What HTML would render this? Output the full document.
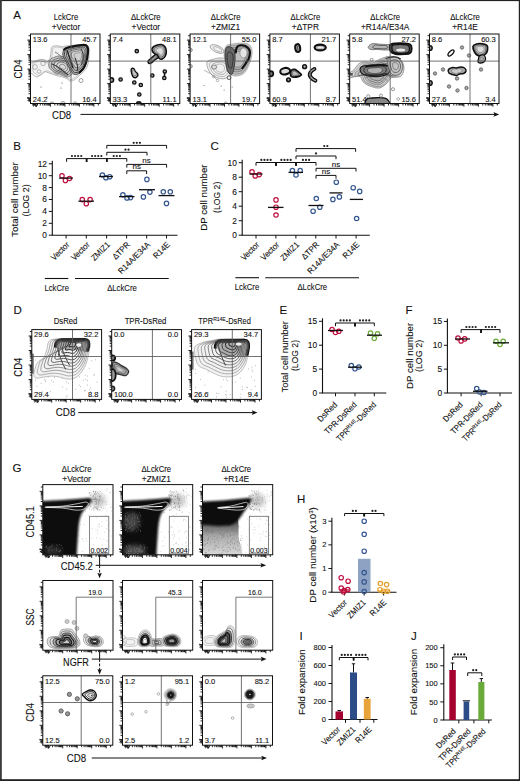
<!DOCTYPE html>
<html><head><meta charset="utf-8"><style>
html,body{margin:0;padding:0;background:#fff;}
svg{display:block;font-family:"Liberation Sans",sans-serif;}
text{stroke:#111;stroke-width:0.1px;}
</style></head><body>
<svg width="520" height="781" viewBox="0 0 520 781">
<defs><filter id="bl1" x="-10%" y="-10%" width="120%" height="120%"><feGaussianBlur stdDeviation="0.7"/></filter><filter id="bl15" x="-10%" y="-10%" width="120%" height="120%"><feGaussianBlur stdDeviation="1.0"/></filter><filter id="bl2" x="-50%" y="-50%" width="200%" height="200%"><feGaussianBlur stdDeviation="2.5"/></filter></defs>
<rect x="0.00" y="0.00" width="520.00" height="781.00" fill="#fff"/>
<rect x="0.00" y="0.00" width="520.00" height="1.10" fill="#222"/>
<rect x="0.00" y="0.00" width="1.80" height="781.00" fill="#3a3a3a"/>
<rect x="518.80" y="0.00" width="1.20" height="781.00" fill="#222"/>
<rect x="0.00" y="779.20" width="520.00" height="1.80" fill="#222"/>
<text x="13.30" y="18.60" font-size="11.5" text-anchor="start" fill="#111">A</text>
<text x="13.30" y="149.60" font-size="11.5" text-anchor="start" fill="#111">B</text>
<text x="210.60" y="149.80" font-size="11.5" text-anchor="start" fill="#111">C</text>
<text x="13.50" y="313.80" font-size="11.5" text-anchor="start" fill="#111">D</text>
<text x="279.60" y="313.80" font-size="11.5" text-anchor="start" fill="#111">E</text>
<text x="405.40" y="313.70" font-size="11.5" text-anchor="start" fill="#111">F</text>
<text x="12.60" y="471.80" font-size="11.5" text-anchor="start" fill="#111">G</text>
<text x="297.00" y="502.70" font-size="11.5" text-anchor="start" fill="#111">H</text>
<text x="299.40" y="639.50" font-size="11.5" text-anchor="start" fill="#111">I</text>
<text x="411.00" y="639.60" font-size="11.5" text-anchor="start" fill="#111">J</text>
<text x="66.00" y="19.80" font-size="8.6" text-anchor="middle" fill="#111" textLength="24.52" lengthAdjust="spacingAndGlyphs">LckCre</text>
<text x="66.00" y="30.20" font-size="8.6" text-anchor="middle" fill="#111" textLength="28.52" lengthAdjust="spacingAndGlyphs">+Vector</text>
<text x="145.80" y="19.80" font-size="8.6" text-anchor="middle" fill="#111" textLength="29.69" lengthAdjust="spacingAndGlyphs">ΔLckCre</text>
<text x="145.80" y="30.20" font-size="8.6" text-anchor="middle" fill="#111" textLength="28.52" lengthAdjust="spacingAndGlyphs">+Vector</text>
<text x="225.60" y="19.80" font-size="8.6" text-anchor="middle" fill="#111" textLength="29.69" lengthAdjust="spacingAndGlyphs">ΔLckCre</text>
<text x="225.60" y="30.20" font-size="8.6" text-anchor="middle" fill="#111" textLength="28.97" lengthAdjust="spacingAndGlyphs">+ZMIZ1</text>
<text x="305.40" y="19.80" font-size="8.6" text-anchor="middle" fill="#111" textLength="29.69" lengthAdjust="spacingAndGlyphs">ΔLckCre</text>
<text x="305.40" y="30.20" font-size="8.6" text-anchor="middle" fill="#111" textLength="27.13" lengthAdjust="spacingAndGlyphs">+ΔTPR</text>
<text x="385.20" y="19.80" font-size="8.6" text-anchor="middle" fill="#111" textLength="29.69" lengthAdjust="spacingAndGlyphs">ΔLckCre</text>
<text x="385.20" y="30.20" font-size="8.6" text-anchor="middle" fill="#111" textLength="48.46" lengthAdjust="spacingAndGlyphs">+R14A/E34A</text>
<text x="465.00" y="19.80" font-size="8.6" text-anchor="middle" fill="#111" textLength="29.69" lengthAdjust="spacingAndGlyphs">ΔLckCre</text>
<text x="465.00" y="30.20" font-size="8.6" text-anchor="middle" fill="#111" textLength="25.74" lengthAdjust="spacingAndGlyphs">+R14E</text>
<g id="contA"></g>
<!--A0-->
<clipPath id="cA0"><rect x="30.50" y="34.00" width="69.50" height="69.50"/></clipPath>
<g clip-path="url(#cA0)">
<path d="M30.00,62.50 C30.33,61.05 30.67,63.42 32.00,63.00 C33.33,62.58 36.08,60.57 38.00,60.00 C39.92,59.43 42.17,59.10 43.50,59.60 C44.83,60.10 44.92,63.27 46.00,63.00 C47.08,62.73 49.17,59.92 50.00,58.00 C50.83,56.08 50.67,53.37 51.00,51.50 C51.33,49.63 51.00,47.75 52.00,46.80 C53.00,45.85 55.33,45.80 57.00,45.80 C58.67,45.80 60.50,46.77 62.00,46.80 C63.50,46.83 63.50,46.33 66.00,46.00 C68.50,45.67 73.58,45.00 77.00,44.80 C80.42,44.60 84.50,44.13 86.50,44.80 C88.50,45.47 88.67,46.10 89.00,48.80 C89.33,51.50 89.00,57.63 88.50,61.00 C88.00,64.37 87.25,66.83 86.00,69.00 C84.75,71.17 82.93,72.20 81.00,74.00 C79.07,75.80 76.17,78.63 74.40,79.80 C72.63,80.97 71.75,81.23 70.40,81.00 C69.05,80.77 67.65,79.07 66.30,78.40 C64.95,77.73 63.85,77.45 62.30,77.00 C60.75,76.55 58.55,76.13 57.00,75.70 C55.45,75.27 54.33,74.85 53.00,74.40 C51.67,73.95 50.37,73.45 49.00,73.00 C47.63,72.55 46.17,71.47 44.80,71.70 C43.43,71.93 42.15,73.52 40.80,74.40 C39.45,75.28 38.05,77.00 36.70,77.00 C35.35,77.00 33.82,75.28 32.70,74.40 C31.58,73.52 30.45,73.68 30.00,71.70 C29.55,69.72 29.67,63.95 30.00,62.50 Z" fill="#f2f2f2" stroke="#999" stroke-width="0.7"/>
<path d="M33.04,62.46 C33.35,61.13 33.65,63.30 34.88,62.92 C36.11,62.54 38.64,60.68 40.40,60.16 C42.16,59.64 44.23,59.33 45.46,59.79 C46.69,60.25 46.76,63.17 47.76,62.92 C48.76,62.67 50.67,60.08 51.44,58.32 C52.21,56.56 52.05,54.06 52.36,52.34 C52.67,50.62 52.36,48.89 53.28,48.02 C54.20,47.14 56.35,47.10 57.88,47.10 C59.41,47.10 61.10,47.99 62.48,48.02 C63.86,48.05 63.86,47.59 66.16,47.28 C68.46,46.97 73.14,46.36 76.28,46.18 C79.42,45.99 83.18,45.56 85.02,46.18 C86.86,46.79 87.01,47.37 87.32,49.86 C87.63,52.34 87.32,57.98 86.86,61.08 C86.40,64.18 85.71,66.45 84.56,68.44 C83.41,70.43 81.74,71.38 79.96,73.04 C78.18,74.70 75.51,77.30 73.89,78.38 C72.26,79.45 71.45,79.69 70.21,79.48 C68.97,79.27 67.68,77.70 66.44,77.09 C65.19,76.47 64.18,76.21 62.76,75.80 C61.33,75.39 59.31,75.00 57.88,74.60 C56.45,74.21 55.43,73.82 54.20,73.41 C52.97,72.99 51.78,72.53 50.52,72.12 C49.26,71.71 47.91,70.71 46.66,70.92 C45.40,71.14 44.22,72.60 42.98,73.41 C41.73,74.22 40.45,75.80 39.20,75.80 C37.96,75.80 36.55,74.22 35.52,73.41 C34.50,72.60 33.45,72.75 33.04,70.92 C32.63,69.10 32.73,63.79 33.04,62.46 Z" fill="none" stroke="#aaa" stroke-width="0.6"/>
<circle cx="43.00" cy="63.50" r="2.2" fill="none" stroke="#999" stroke-width="0.7"/>
<circle cx="35.00" cy="67.00" r="2.4" fill="none" stroke="#999" stroke-width="0.7"/>
<circle cx="39.00" cy="71.50" r="1.8" fill="none" stroke="#999" stroke-width="0.7"/>
<circle cx="57.00" cy="72.00" r="2.5" fill="none" stroke="#999" stroke-width="0.7"/>
<path d="M50.00,60.00 C51.00,58.33 53.33,57.67 55.00,57.00 C56.67,56.33 58.17,55.83 60.00,56.00 C61.83,56.17 64.17,57.00 66.00,58.00 C67.83,59.00 69.67,60.33 71.00,62.00 C72.33,63.67 73.83,66.00 74.00,68.00 C74.17,70.00 73.17,72.50 72.00,74.00 C70.83,75.50 69.00,77.00 67.00,77.00 C65.00,77.00 62.17,74.83 60.00,74.00 C57.83,73.17 55.83,73.17 54.00,72.00 C52.17,70.83 49.67,69.00 49.00,67.00 C48.33,65.00 49.00,61.67 50.00,60.00 Z" fill="#c8c8c8" stroke="#666" stroke-width="0.8"/>
<path d="M52.34,61.26 C53.16,59.89 55.07,59.35 56.44,58.80 C57.81,58.25 59.04,57.84 60.54,57.98 C62.04,58.12 63.96,58.80 65.46,59.62 C66.96,60.44 68.47,61.53 69.56,62.90 C70.65,64.27 71.88,66.18 72.02,67.82 C72.16,69.46 71.34,71.51 70.38,72.74 C69.42,73.97 67.92,75.20 66.28,75.20 C64.64,75.20 62.32,73.42 60.54,72.74 C58.76,72.06 57.12,72.06 55.62,71.10 C54.12,70.14 52.07,68.64 51.52,67.00 C50.97,65.36 51.52,62.63 52.34,61.26 Z" fill="none" stroke="#555" stroke-width="0.8"/>
<path d="M54.68,62.52 C55.32,61.45 56.81,61.03 57.88,60.60 C58.95,60.17 59.91,59.85 61.08,59.96 C62.25,60.07 63.75,60.60 64.92,61.24 C66.09,61.88 67.27,62.73 68.12,63.80 C68.97,64.87 69.93,66.36 70.04,67.64 C70.15,68.92 69.51,70.52 68.76,71.48 C68.01,72.44 66.84,73.40 65.56,73.40 C64.28,73.40 62.47,72.01 61.08,71.48 C59.69,70.95 58.41,70.95 57.24,70.20 C56.07,69.45 54.47,68.28 54.04,67.00 C53.61,65.72 54.04,63.59 54.68,62.52 Z" fill="#d8d8d8" stroke="#444" stroke-width="0.9"/>
<path d="M57.15,63.85 C57.60,63.10 58.65,62.80 59.40,62.50 C60.15,62.20 60.83,61.97 61.65,62.05 C62.47,62.12 63.52,62.50 64.35,62.95 C65.17,63.40 66.00,64.00 66.60,64.75 C67.20,65.50 67.88,66.55 67.95,67.45 C68.03,68.35 67.58,69.48 67.05,70.15 C66.52,70.83 65.70,71.50 64.80,71.50 C63.90,71.50 62.62,70.53 61.65,70.15 C60.67,69.78 59.78,69.78 58.95,69.25 C58.12,68.72 57.00,67.90 56.70,67.00 C56.40,66.10 56.70,64.60 57.15,63.85 Z" fill="none" stroke="#555" stroke-width="0.8"/>
<path d="M59.75,65.25 C60.00,64.83 60.58,64.67 61.00,64.50 C61.42,64.33 61.79,64.21 62.25,64.25 C62.71,64.29 63.29,64.50 63.75,64.75 C64.21,65.00 64.67,65.33 65.00,65.75 C65.33,66.17 65.71,66.75 65.75,67.25 C65.79,67.75 65.54,68.38 65.25,68.75 C64.96,69.12 64.50,69.50 64.00,69.50 C63.50,69.50 62.79,68.96 62.25,68.75 C61.71,68.54 61.21,68.54 60.75,68.25 C60.29,67.96 59.67,67.50 59.50,67.00 C59.33,66.50 59.50,65.67 59.75,65.25 Z" fill="none" stroke="#666" stroke-width="0.7"/>
<path d="M52.0,64 C58.0,66 63.0,71 68.0,75" stroke="#333" stroke-width="1.1" fill="none"/>
<path d="M55.0,52 C59.0,54 61.0,56 63.0,59" stroke="#666" stroke-width="0.9" fill="none"/>
<path d="M63.60,50.00 C64.15,48.67 65.17,48.03 66.30,47.50 C67.43,46.97 68.60,47.15 70.40,46.80 C72.20,46.45 74.87,45.73 77.10,45.40 C79.33,45.07 82.12,44.68 83.80,44.80 C85.48,44.92 86.48,44.98 87.20,46.10 C87.92,47.22 88.22,49.03 88.10,51.50 C87.98,53.97 87.10,58.22 86.50,60.90 C85.90,63.58 85.62,65.58 84.50,67.60 C83.38,69.62 81.48,71.87 79.80,73.00 C78.12,74.13 75.75,74.62 74.40,74.40 C73.05,74.18 72.70,73.05 71.70,71.70 C70.70,70.35 69.40,68.10 68.40,66.30 C67.40,64.50 66.60,62.70 65.70,60.90 C64.80,59.10 63.35,57.32 63.00,55.50 C62.65,53.68 63.05,51.33 63.60,50.00 Z" fill="#b4b4b4" stroke="#444" stroke-width="1.0"/>
<path d="M65.14,50.60 C65.64,49.40 66.55,48.83 67.57,48.35 C68.59,47.87 69.64,48.03 71.26,47.72 C72.88,47.41 75.28,46.76 77.29,46.46 C79.30,46.16 81.80,45.81 83.32,45.92 C84.83,46.03 85.73,46.09 86.38,47.09 C87.02,48.10 87.30,49.73 87.19,51.95 C87.08,54.17 86.29,57.99 85.75,60.41 C85.21,62.82 84.95,64.62 83.95,66.44 C82.95,68.25 81.23,70.28 79.72,71.30 C78.20,72.32 76.08,72.75 74.86,72.56 C73.64,72.37 73.33,71.34 72.43,70.13 C71.53,68.91 70.36,66.89 69.46,65.27 C68.56,63.65 67.84,62.03 67.03,60.41 C66.22,58.79 64.91,57.18 64.60,55.55 C64.28,53.91 64.64,51.80 65.14,50.60 Z" fill="none" stroke="#333" stroke-width="0.9"/>
<path d="M66.99,51.32 C67.42,50.28 68.21,49.79 69.09,49.37 C69.98,48.95 70.89,49.10 72.29,48.82 C73.70,48.55 75.78,47.99 77.52,47.73 C79.26,47.47 81.43,47.17 82.74,47.26 C84.06,47.36 84.84,47.41 85.40,48.28 C85.95,49.15 86.19,50.57 86.10,52.49 C86.01,54.41 85.32,57.73 84.85,59.82 C84.38,61.92 84.16,63.48 83.29,65.05 C82.42,66.62 80.94,68.38 79.62,69.26 C78.31,70.14 76.46,70.52 75.41,70.35 C74.36,70.18 74.09,69.30 73.31,68.25 C72.53,67.19 71.51,65.44 70.73,64.03 C69.95,62.63 69.33,61.23 68.63,59.82 C67.92,58.42 66.79,57.03 66.52,55.61 C66.25,54.19 66.56,52.36 66.99,51.32 Z" fill="none" stroke="#444" stroke-width="0.8"/>
<path d="M69.14,52.16 C69.50,51.31 70.15,50.90 70.87,50.56 C71.60,50.22 72.34,50.34 73.50,50.11 C74.65,49.89 76.35,49.43 77.78,49.22 C79.21,49.00 80.99,48.76 82.07,48.83 C83.15,48.91 83.79,48.95 84.25,49.66 C84.71,50.38 84.90,51.54 84.82,53.12 C84.75,54.70 84.18,57.42 83.80,59.14 C83.42,60.85 83.23,62.13 82.52,63.42 C81.81,64.71 80.59,66.15 79.51,66.88 C78.43,67.61 76.92,67.91 76.06,67.78 C75.19,67.64 74.97,66.91 74.33,66.05 C73.69,65.18 72.86,63.74 72.22,62.59 C71.58,61.44 71.06,60.29 70.49,59.14 C69.91,57.98 68.98,56.84 68.76,55.68 C68.54,54.52 68.79,53.01 69.14,52.16 Z" fill="#d0d0d0" stroke="#555" stroke-width="0.8"/>
<path d="M71.61,53.12 C71.87,52.48 72.36,52.18 72.90,51.92 C73.45,51.66 74.01,51.75 74.87,51.58 C75.74,51.42 77.02,51.07 78.09,50.91 C79.16,50.75 80.50,50.57 81.30,50.62 C82.11,50.68 82.59,50.71 82.94,51.25 C83.28,51.78 83.42,52.66 83.37,53.84 C83.31,55.02 82.89,57.06 82.60,58.35 C82.31,59.64 82.18,60.60 81.64,61.57 C81.10,62.54 80.19,63.62 79.38,64.16 C78.58,64.70 77.44,64.94 76.79,64.83 C76.14,64.73 75.98,64.18 75.50,63.54 C75.02,62.89 74.39,61.81 73.91,60.94 C73.43,60.08 73.05,59.22 72.62,58.35 C72.18,57.49 71.49,56.63 71.32,55.76 C71.15,54.89 71.34,53.76 71.61,53.12 Z" fill="none" stroke="#666" stroke-width="0.7"/>
<path d="M74.38,54.20 C74.54,53.80 74.85,53.61 75.19,53.45 C75.53,53.29 75.88,53.34 76.42,53.24 C76.96,53.14 77.76,52.92 78.43,52.82 C79.10,52.72 79.94,52.61 80.44,52.64 C80.94,52.67 81.25,52.70 81.46,53.03 C81.68,53.37 81.77,53.91 81.73,54.65 C81.70,55.39 81.43,56.66 81.25,57.47 C81.07,58.27 80.99,58.88 80.65,59.48 C80.31,60.09 79.74,60.76 79.24,61.10 C78.73,61.44 78.03,61.58 77.62,61.52 C77.22,61.45 77.11,61.12 76.81,60.71 C76.51,60.30 76.12,59.63 75.82,59.09 C75.52,58.55 75.28,58.01 75.01,57.47 C74.74,56.93 74.31,56.40 74.20,55.85 C74.09,55.30 74.22,54.60 74.38,54.20 Z" fill="none" stroke="#777" stroke-width="0.6"/>
<path d="M63.5,50 C66.0,47 75.0,45.6 83.8,44.8 C87.0,44.8 88.5,47 88.1,52 C87.5,59 86.0,65 83.0,69 L79.0,73" stroke="#111" stroke-width="2.0" fill="none"/>
<path d="M67.0,50 C69.0,56 71.0,62 73.0,68" stroke="#222" stroke-width="1.3" fill="none"/>
<path d="M75.0,58 C77.0,63 79.0,67 77.0,71" stroke="#333" stroke-width="1.1" fill="none"/>
<path d="M81.0,49 C84.0,54 84.0,60 81.0,65" stroke="#333" stroke-width="1.0" fill="none"/>
<circle cx="81.00" cy="80.50" r="2.0" fill="none" stroke="#777" stroke-width="0.7"/>
<circle cx="52.00" cy="103.80" r="2" fill="#ddd" stroke="#888" stroke-width="0.7"/>
<circle cx="63.00" cy="103.30" r="2" fill="#ddd" stroke="#888" stroke-width="0.7"/>
<circle cx="75.00" cy="103.80" r="2" fill="#ddd" stroke="#888" stroke-width="0.7"/>
<circle cx="62.0" cy="83" r="0.6" fill="#555"/>
<circle cx="61.0" cy="88" r="0.6" fill="#555"/>
<circle cx="47.0" cy="97" r="0.6" fill="#555"/>
<circle cx="41.0" cy="87" r="0.6" fill="#555"/>
</g>
<path d="M27.3,98.1H30.5M35.9,103.5V106.7M28.5,99.6H30.5M34.4,103.5V105.5M28.5,100.5H30.5M33.5,103.5V105.5M28.5,101.2H30.5M32.8,103.5V105.5M27.3,98.1H30.5M35.9,103.5V106.7M28.5,93.7H30.5M40.3,103.5V105.5M28.5,91.2H30.5M42.8,103.5V105.5M28.5,89.4H30.5M44.6,103.5V105.5M28.5,88.0H30.5M46.0,103.5V105.5M28.5,86.8H30.5M47.2,103.5V105.5M28.5,85.8H30.5M48.2,103.5V105.5M28.5,85.0H30.5M49.0,103.5V105.5M28.5,84.3H30.5M49.7,103.5V105.5M27.3,83.6H30.5M50.4,103.5V106.7M28.5,79.2H30.5M54.8,103.5V105.5M28.5,76.7H30.5M57.3,103.5V105.5M28.5,74.9H30.5M59.1,103.5V105.5M28.5,73.5H30.5M60.5,103.5V105.5M28.5,72.3H30.5M61.7,103.5V105.5M28.5,71.3H30.5M62.7,103.5V105.5M28.5,70.5H30.5M63.5,103.5V105.5M28.5,69.8H30.5M64.2,103.5V105.5M27.3,69.1H30.5M64.9,103.5V106.7M28.5,64.7H30.5M69.3,103.5V105.5M28.5,62.2H30.5M71.8,103.5V105.5M28.5,60.4H30.5M73.6,103.5V105.5M28.5,59.0H30.5M75.0,103.5V105.5M28.5,57.8H30.5M76.2,103.5V105.5M28.5,56.8H30.5M77.2,103.5V105.5M28.5,56.0H30.5M78.0,103.5V105.5M28.5,55.3H30.5M78.7,103.5V105.5M27.3,54.6H30.5M79.4,103.5V106.7M28.5,50.2H30.5M83.8,103.5V105.5M28.5,47.7H30.5M86.3,103.5V105.5M28.5,45.9H30.5M88.1,103.5V105.5M28.5,44.5H30.5M89.5,103.5V105.5M28.5,43.3H30.5M90.7,103.5V105.5M28.5,42.3H30.5M91.7,103.5V105.5M28.5,41.5H30.5M92.5,103.5V105.5M28.5,40.8H30.5M93.2,103.5V105.5M27.3,40.1H30.5M93.9,103.5V106.7M28.5,35.7H30.5M98.3,103.5V105.5" stroke="#111" stroke-width="0.9" fill="none"/>
<path d="M33.5,106.5L35.0,103.5L36.5,106.5L38.0,103.5M27.5,100.5L30.5,99.0L27.5,97.5" stroke="#222" stroke-width="1" fill="none"/>
<line x1="71.00" y1="34.00" x2="71.00" y2="103.50" stroke="#5a5a5a" stroke-width="0.85"/>
<line x1="30.50" y1="61.10" x2="100.00" y2="61.10" stroke="#5a5a5a" stroke-width="0.85"/>
<rect x="30.50" y="34.00" width="69.50" height="69.50" fill="none" stroke="#111" stroke-width="1.0"/>
<text x="32.80" y="41.80" font-size="7.5" text-anchor="start" fill="#111">13.6</text>
<text x="96.80" y="41.80" font-size="7.5" text-anchor="end" fill="#111">45.7</text>
<text x="32.80" y="101.50" font-size="7.5" text-anchor="start" fill="#111">24.2</text>
<text x="96.80" y="101.50" font-size="7.5" text-anchor="end" fill="#111">16.4</text>
<!--A1-->
<clipPath id="cA1"><rect x="110.30" y="34.00" width="69.50" height="69.50"/></clipPath>
<g clip-path="url(#cA1)">
<path d="M157.80,53.00 C157.13,52.67 155.97,54.08 154.80,55.00 C153.63,55.92 151.92,57.45 150.80,58.50 C149.68,59.55 148.38,60.47 148.10,61.30 C147.82,62.13 148.48,63.30 149.10,63.50 C149.72,63.70 150.77,63.17 151.80,62.50 C152.83,61.83 154.13,60.42 155.30,59.50 C156.47,58.58 158.38,58.08 158.80,57.00 C159.22,55.92 158.47,53.33 157.80,53.00 Z" fill="#999" stroke="#111" stroke-width="1.5"/>
<path d="M156.05,55.50 C155.72,55.33 155.13,56.04 154.55,56.50 C153.97,56.96 153.11,57.73 152.55,58.25 C151.99,58.77 151.34,59.23 151.20,59.65 C151.06,60.07 151.39,60.65 151.70,60.75 C152.01,60.85 152.53,60.58 153.05,60.25 C153.57,59.92 154.22,59.21 154.80,58.75 C155.38,58.29 156.34,58.04 156.55,57.50 C156.76,56.96 156.38,55.67 156.05,55.50 Z" fill="none" stroke="#666" stroke-width="0.7"/>
<path d="M152.30,48.00 C152.88,47.08 154.30,46.08 155.80,45.50 C157.30,44.92 159.80,44.33 161.30,44.50 C162.80,44.67 163.97,45.42 164.80,46.50 C165.63,47.58 166.22,49.42 166.30,51.00 C166.38,52.58 165.97,54.67 165.30,56.00 C164.63,57.33 163.30,58.58 162.30,59.00 C161.30,59.42 160.13,59.17 159.30,58.50 C158.47,57.83 158.13,55.83 157.30,55.00 C156.47,54.17 155.13,54.17 154.30,53.50 C153.47,52.83 152.63,51.92 152.30,51.00 C151.97,50.08 151.72,48.92 152.30,48.00 Z" fill="#999" stroke="#111" stroke-width="1.6"/>
<path d="M154.30,48.75 C154.74,48.06 155.80,47.31 156.93,46.88 C158.05,46.44 159.93,46.00 161.05,46.12 C162.18,46.25 163.05,46.81 163.68,47.62 C164.30,48.44 164.74,49.81 164.80,51.00 C164.86,52.19 164.55,53.75 164.05,54.75 C163.55,55.75 162.55,56.69 161.80,57.00 C161.05,57.31 160.18,57.12 159.55,56.62 C158.93,56.12 158.68,54.62 158.05,54.00 C157.43,53.38 156.43,53.38 155.80,52.88 C155.18,52.38 154.55,51.69 154.30,51.00 C154.05,50.31 153.86,49.44 154.30,48.75 Z" fill="#bbb" stroke="#555" stroke-width="0.7"/>
<path d="M156.30,49.50 C156.59,49.04 157.30,48.54 158.05,48.25 C158.80,47.96 160.05,47.67 160.80,47.75 C161.55,47.83 162.13,48.21 162.55,48.75 C162.97,49.29 163.26,50.21 163.30,51.00 C163.34,51.79 163.13,52.83 162.80,53.50 C162.47,54.17 161.80,54.79 161.30,55.00 C160.80,55.21 160.22,55.08 159.80,54.75 C159.38,54.42 159.22,53.42 158.80,53.00 C158.38,52.58 157.72,52.58 157.30,52.25 C156.88,51.92 156.47,51.46 156.30,51.00 C156.13,50.54 156.01,49.96 156.30,49.50 Z" fill="#ddd" stroke="#777" stroke-width="0.6"/>
<path d="M131.30,69.00 C131.63,68.08 133.13,68.08 133.80,68.50 C134.47,68.92 134.63,70.58 135.30,71.50 C135.97,72.42 137.55,73.08 137.80,74.00 C138.05,74.92 137.47,76.42 136.80,77.00 C136.13,77.58 134.63,78.00 133.80,77.50 C132.97,77.00 132.22,75.42 131.80,74.00 C131.38,72.58 130.97,69.92 131.30,69.00 Z" fill="#aaa" stroke="#111" stroke-width="1.4"/>
<path d="M132.50,70.60 C132.70,70.05 133.60,70.05 134.00,70.30 C134.40,70.55 134.50,71.55 134.90,72.10 C135.30,72.65 136.25,73.05 136.40,73.60 C136.55,74.15 136.20,75.05 135.80,75.40 C135.40,75.75 134.50,76.00 134.00,75.70 C133.50,75.40 133.05,74.45 132.80,73.60 C132.55,72.75 132.30,71.15 132.50,70.60 Z" fill="#ccc" stroke="#666" stroke-width="0.6"/>
<circle cx="136.80" cy="51.20" r="1.7" fill="#999" stroke="#111" stroke-width="1.3"/>
<circle cx="120.60" cy="79.50" r="1.7" fill="#999" stroke="#111" stroke-width="1.3"/>
<circle cx="134.30" cy="82.50" r="1.7" fill="#999" stroke="#111" stroke-width="1.3"/>
<circle cx="140.80" cy="85.00" r="1.7" fill="#999" stroke="#111" stroke-width="1.3"/>
<circle cx="139.30" cy="94.50" r="1.7" fill="#999" stroke="#111" stroke-width="1.3"/>
<circle cx="152.30" cy="75.50" r="1.7" fill="#999" stroke="#111" stroke-width="1.3"/>
<circle cx="164.80" cy="71.50" r="1.7" fill="#999" stroke="#111" stroke-width="1.3"/>
<circle cx="164.30" cy="78.00" r="1.7" fill="#999" stroke="#111" stroke-width="1.3"/>
<line x1="164.7" y1="72.5" x2="164.4" y2="77" stroke="#111" stroke-width="1.6"/>
<circle cx="111.30" cy="80.00" r="2.3" fill="#999" stroke="#111" stroke-width="1.5"/>
<circle cx="138.80" cy="104.00" r="2.3" fill="#999" stroke="#111" stroke-width="1.5"/>
</g>
<path d="M107.1,98.1H110.3M115.7,103.5V106.7M108.3,99.6H110.3M114.2,103.5V105.5M108.3,100.5H110.3M113.3,103.5V105.5M108.3,101.2H110.3M112.6,103.5V105.5M107.1,98.1H110.3M115.7,103.5V106.7M108.3,93.7H110.3M120.1,103.5V105.5M108.3,91.2H110.3M122.6,103.5V105.5M108.3,89.4H110.3M124.4,103.5V105.5M108.3,88.0H110.3M125.8,103.5V105.5M108.3,86.8H110.3M127.0,103.5V105.5M108.3,85.8H110.3M128.0,103.5V105.5M108.3,85.0H110.3M128.8,103.5V105.5M108.3,84.3H110.3M129.5,103.5V105.5M107.1,83.6H110.3M130.2,103.5V106.7M108.3,79.2H110.3M134.6,103.5V105.5M108.3,76.7H110.3M137.1,103.5V105.5M108.3,74.9H110.3M138.9,103.5V105.5M108.3,73.5H110.3M140.3,103.5V105.5M108.3,72.3H110.3M141.5,103.5V105.5M108.3,71.3H110.3M142.5,103.5V105.5M108.3,70.5H110.3M143.3,103.5V105.5M108.3,69.8H110.3M144.0,103.5V105.5M107.1,69.1H110.3M144.7,103.5V106.7M108.3,64.7H110.3M149.1,103.5V105.5M108.3,62.2H110.3M151.6,103.5V105.5M108.3,60.4H110.3M153.4,103.5V105.5M108.3,59.0H110.3M154.8,103.5V105.5M108.3,57.8H110.3M156.0,103.5V105.5M108.3,56.8H110.3M157.0,103.5V105.5M108.3,56.0H110.3M157.8,103.5V105.5M108.3,55.3H110.3M158.5,103.5V105.5M107.1,54.6H110.3M159.2,103.5V106.7M108.3,50.2H110.3M163.6,103.5V105.5M108.3,47.7H110.3M166.1,103.5V105.5M108.3,45.9H110.3M167.9,103.5V105.5M108.3,44.5H110.3M169.3,103.5V105.5M108.3,43.3H110.3M170.5,103.5V105.5M108.3,42.3H110.3M171.5,103.5V105.5M108.3,41.5H110.3M172.3,103.5V105.5M108.3,40.8H110.3M173.0,103.5V105.5M107.1,40.1H110.3M173.7,103.5V106.7M108.3,35.7H110.3M178.1,103.5V105.5" stroke="#111" stroke-width="0.9" fill="none"/>
<path d="M113.3,106.5L114.8,103.5L116.3,106.5L117.8,103.5M107.3,100.5L110.3,99.0L107.3,97.5" stroke="#222" stroke-width="1" fill="none"/>
<line x1="150.80" y1="34.00" x2="150.80" y2="103.50" stroke="#5a5a5a" stroke-width="0.85"/>
<line x1="110.30" y1="61.10" x2="179.80" y2="61.10" stroke="#5a5a5a" stroke-width="0.85"/>
<rect x="110.30" y="34.00" width="69.50" height="69.50" fill="none" stroke="#111" stroke-width="1.0"/>
<text x="112.60" y="41.80" font-size="7.5" text-anchor="start" fill="#111">7.4</text>
<text x="176.60" y="41.80" font-size="7.5" text-anchor="end" fill="#111">48.1</text>
<text x="112.60" y="101.50" font-size="7.5" text-anchor="start" fill="#111">33.3</text>
<text x="176.60" y="101.50" font-size="7.5" text-anchor="end" fill="#111">11.1</text>
<!--A2-->
<clipPath id="cA2"><rect x="190.10" y="34.00" width="69.50" height="69.50"/></clipPath>
<g clip-path="url(#cA2)">
<ellipse cx="217.10" cy="49.00" rx="7.5" ry="3.3" fill="#f2f2f2" stroke="#888" stroke-width="0.7" transform="rotate(25 217.10 49.00)"/>
<ellipse cx="217.60" cy="49.20" rx="4.8" ry="1.8" fill="none" stroke="#999" stroke-width="0.6" transform="rotate(25 217.60 49.20)"/>
<path d="M207.10,62.00 C208.10,60.33 211.60,59.67 214.10,59.00 C216.60,58.33 219.77,57.67 222.10,58.00 C224.43,58.33 226.60,59.50 228.10,61.00 C229.60,62.50 230.77,64.83 231.10,67.00 C231.43,69.17 231.10,72.08 230.10,74.00 C229.10,75.92 227.10,77.83 225.10,78.50 C223.10,79.17 220.27,78.58 218.10,78.00 C215.93,77.42 213.77,76.50 212.10,75.00 C210.43,73.50 208.93,71.17 208.10,69.00 C207.27,66.83 206.10,63.67 207.10,62.00 Z" fill="#efefef" stroke="#888" stroke-width="0.7"/>
<path d="M209.70,63.20 C210.50,61.87 213.30,61.33 215.30,60.80 C217.30,60.27 219.83,59.73 221.70,60.00 C223.57,60.27 225.30,61.20 226.50,62.40 C227.70,63.60 228.63,65.47 228.90,67.20 C229.17,68.93 228.90,71.27 228.10,72.80 C227.30,74.33 225.70,75.87 224.10,76.40 C222.50,76.93 220.23,76.47 218.50,76.00 C216.77,75.53 215.03,74.80 213.70,73.60 C212.37,72.40 211.17,70.53 210.50,68.80 C209.83,67.07 208.90,64.53 209.70,63.20 Z" fill="none" stroke="#999" stroke-width="0.6"/>
<path d="M212.30,64.40 C212.90,63.40 215.00,63.00 216.50,62.60 C218.00,62.20 219.90,61.80 221.30,62.00 C222.70,62.20 224.00,62.90 224.90,63.80 C225.80,64.70 226.50,66.10 226.70,67.40 C226.90,68.70 226.70,70.45 226.10,71.60 C225.50,72.75 224.30,73.90 223.10,74.30 C221.90,74.70 220.20,74.35 218.90,74.00 C217.60,73.65 216.30,73.10 215.30,72.20 C214.30,71.30 213.40,69.90 212.90,68.60 C212.40,67.30 211.70,65.40 212.30,64.40 Z" fill="none" stroke="#888" stroke-width="0.6"/>
<path d="M214.90,65.60 C215.30,64.93 216.70,64.67 217.70,64.40 C218.70,64.13 219.97,63.87 220.90,64.00 C221.83,64.13 222.70,64.60 223.30,65.20 C223.90,65.80 224.37,66.73 224.50,67.60 C224.63,68.47 224.50,69.63 224.10,70.40 C223.70,71.17 222.90,71.93 222.10,72.20 C221.30,72.47 220.17,72.23 219.30,72.00 C218.43,71.77 217.57,71.40 216.90,70.80 C216.23,70.20 215.63,69.27 215.30,68.40 C214.97,67.53 214.50,66.27 214.90,65.60 Z" fill="none" stroke="#999" stroke-width="0.6"/>
<ellipse cx="214.10" cy="67.00" rx="2.8" ry="2.0" fill="none" stroke="#777" stroke-width="0.8"/>
<path d="M204.1,70.3 L211.1,74 L217.1,80" stroke="#888" stroke-width="0.6" fill="none"/>
<circle cx="213.60" cy="76.40" r="1.3" fill="none" stroke="#888" stroke-width="0.6"/>
<circle cx="217.60" cy="80.40" r="1.3" fill="none" stroke="#888" stroke-width="0.6"/>
<path d="M226.10,46.00 C227.43,44.33 229.77,44.50 232.10,44.00 C234.43,43.50 237.60,43.08 240.10,43.00 C242.60,42.92 245.27,42.83 247.10,43.50 C248.93,44.17 250.27,45.25 251.10,47.00 C251.93,48.75 252.27,51.50 252.10,54.00 C251.93,56.50 250.93,59.50 250.10,62.00 C249.27,64.50 248.27,67.00 247.10,69.00 C245.93,71.00 244.77,72.83 243.10,74.00 C241.43,75.17 239.10,75.83 237.10,76.00 C235.10,76.17 232.77,76.00 231.10,75.00 C229.43,74.00 228.10,72.17 227.10,70.00 C226.10,67.83 225.60,64.67 225.10,62.00 C224.60,59.33 223.93,56.67 224.10,54.00 C224.27,51.33 224.77,47.67 226.10,46.00 Z" fill="#c4c4c4" stroke="#999" stroke-width="0.6"/>
<path d="M227.66,47.56 C228.83,46.09 230.89,46.24 232.94,45.80 C234.99,45.36 237.78,44.99 239.98,44.92 C242.18,44.85 244.53,44.77 246.14,45.36 C247.75,45.95 248.93,46.90 249.66,48.44 C250.39,49.98 250.69,52.40 250.54,54.60 C250.39,56.80 249.51,59.44 248.78,61.64 C248.05,63.84 247.17,66.04 246.14,67.80 C245.11,69.56 244.09,71.17 242.62,72.20 C241.15,73.23 239.10,73.81 237.34,73.96 C235.58,74.11 233.53,73.96 232.06,73.08 C230.59,72.20 229.42,70.59 228.54,68.68 C227.66,66.77 227.22,63.99 226.78,61.64 C226.34,59.29 225.75,56.95 225.90,54.60 C226.05,52.25 226.49,49.03 227.66,47.56 Z" fill="none" stroke="#777" stroke-width="0.6"/>
<path d="M229.22,49.12 C230.23,47.85 232.01,47.98 233.78,47.60 C235.55,47.22 237.96,46.90 239.86,46.84 C241.76,46.78 243.79,46.71 245.18,47.22 C246.57,47.73 247.59,48.55 248.22,49.88 C248.85,51.21 249.11,53.30 248.98,55.20 C248.85,57.10 248.09,59.38 247.46,61.28 C246.83,63.18 246.07,65.08 245.18,66.60 C244.29,68.12 243.41,69.51 242.14,70.40 C240.87,71.29 239.10,71.79 237.58,71.92 C236.06,72.05 234.29,71.92 233.02,71.16 C231.75,70.40 230.74,69.01 229.98,67.36 C229.22,65.71 228.84,63.31 228.46,61.28 C228.08,59.25 227.57,57.23 227.70,55.20 C227.83,53.17 228.21,50.39 229.22,49.12 Z" fill="#acacac" stroke="#666" stroke-width="0.6"/>
<path d="M231.04,50.94 C231.87,49.91 233.31,50.01 234.76,49.70 C236.21,49.39 238.17,49.13 239.72,49.08 C241.27,49.03 242.92,48.98 244.06,49.39 C245.20,49.80 246.02,50.48 246.54,51.56 C247.06,52.65 247.26,54.35 247.16,55.90 C247.06,57.45 246.44,59.31 245.92,60.86 C245.40,62.41 244.78,63.96 244.06,65.20 C243.34,66.44 242.61,67.58 241.58,68.30 C240.55,69.02 239.10,69.44 237.86,69.54 C236.62,69.64 235.17,69.54 234.14,68.92 C233.11,68.30 232.28,67.16 231.66,65.82 C231.04,64.48 230.73,62.51 230.42,60.86 C230.11,59.21 229.70,57.55 229.80,55.90 C229.90,54.25 230.21,51.97 231.04,50.94 Z" fill="none" stroke="#555" stroke-width="0.6"/>
<path d="M232.86,52.76 C233.50,51.96 234.62,52.04 235.74,51.80 C236.86,51.56 238.38,51.36 239.58,51.32 C240.78,51.28 242.06,51.24 242.94,51.56 C243.82,51.88 244.46,52.40 244.86,53.24 C245.26,54.08 245.42,55.40 245.34,56.60 C245.26,57.80 244.78,59.24 244.38,60.44 C243.98,61.64 243.50,62.84 242.94,63.80 C242.38,64.76 241.82,65.64 241.02,66.20 C240.22,66.76 239.10,67.08 238.14,67.16 C237.18,67.24 236.06,67.16 235.26,66.68 C234.46,66.20 233.82,65.32 233.34,64.28 C232.86,63.24 232.62,61.72 232.38,60.44 C232.14,59.16 231.82,57.88 231.90,56.60 C231.98,55.32 232.22,53.56 232.86,52.76 Z" fill="#c0c0c0" stroke="#666" stroke-width="0.6"/>
<path d="M226.10,48.00 C226.93,46.50 228.77,46.67 230.10,47.00 C231.43,47.33 233.27,48.17 234.10,50.00 C234.93,51.83 235.10,55.17 235.10,58.00 C235.10,60.83 234.60,64.33 234.10,67.00 C233.60,69.67 233.10,73.17 232.10,74.00 C231.10,74.83 229.10,73.67 228.10,72.00 C227.10,70.33 226.60,66.67 226.10,64.00 C225.60,61.33 225.10,58.67 225.10,56.00 C225.10,53.33 225.27,49.50 226.10,48.00 Z" fill="#6a6a6a" stroke="#333" stroke-width="0.9"/>
<path d="M227.70,52.80 C228.20,51.90 229.30,52.00 230.10,52.20 C230.90,52.40 232.00,52.90 232.50,54.00 C233.00,55.10 233.10,57.10 233.10,58.80 C233.10,60.50 232.80,62.60 232.50,64.20 C232.20,65.80 231.90,67.90 231.30,68.40 C230.70,68.90 229.50,68.20 228.90,67.20 C228.30,66.20 228.00,64.00 227.70,62.40 C227.40,60.80 227.10,59.20 227.10,57.60 C227.10,56.00 227.20,53.70 227.70,52.80 Z" fill="none" stroke="#222" stroke-width="0.8"/>
<ellipse cx="243.50" cy="53.00" rx="3.6" ry="5" fill="#e4e4e4" stroke="#777" stroke-width="0.6"/>
<path d="M235.8,53.4 C235.6,49 237.1,45.6 240.39999999999998,45.3 C243.1,44.8 247.6,46 249.6,50.3 C250.6,53 249.1,59 247.3,61 C245.6,64 243.1,67 241.89999999999998,68.8" stroke="#111" stroke-width="2.1" fill="none"/>
<circle cx="190.60" cy="50.00" r="1.7" fill="#ccc" stroke="#777" stroke-width="0.8"/>
<circle cx="190.60" cy="66.30" r="1.7" fill="#ccc" stroke="#777" stroke-width="0.8"/>
<circle cx="229.10" cy="77.70" r="1.9" fill="#eee" stroke="#555" stroke-width="0.9"/>
<circle cx="204.1" cy="85.5" r="0.5" fill="#555"/>
<circle cx="221.1" cy="86" r="0.5" fill="#555"/>
<circle cx="224.1" cy="90" r="0.5" fill="#555"/>
<circle cx="232.1" cy="87" r="0.5" fill="#555"/>
<circle cx="225.80" cy="103.50" r="1.6" fill="#ddd" stroke="#888" stroke-width="0.6"/>
</g>
<path d="M186.9,98.1H190.1M195.5,103.5V106.7M188.1,99.6H190.1M194.0,103.5V105.5M188.1,100.5H190.1M193.1,103.5V105.5M188.1,101.2H190.1M192.4,103.5V105.5M186.9,98.1H190.1M195.5,103.5V106.7M188.1,93.7H190.1M199.9,103.5V105.5M188.1,91.2H190.1M202.4,103.5V105.5M188.1,89.4H190.1M204.2,103.5V105.5M188.1,88.0H190.1M205.6,103.5V105.5M188.1,86.8H190.1M206.8,103.5V105.5M188.1,85.8H190.1M207.8,103.5V105.5M188.1,85.0H190.1M208.6,103.5V105.5M188.1,84.3H190.1M209.3,103.5V105.5M186.9,83.6H190.1M210.0,103.5V106.7M188.1,79.2H190.1M214.4,103.5V105.5M188.1,76.7H190.1M216.9,103.5V105.5M188.1,74.9H190.1M218.7,103.5V105.5M188.1,73.5H190.1M220.1,103.5V105.5M188.1,72.3H190.1M221.3,103.5V105.5M188.1,71.3H190.1M222.3,103.5V105.5M188.1,70.5H190.1M223.1,103.5V105.5M188.1,69.8H190.1M223.8,103.5V105.5M186.9,69.1H190.1M224.5,103.5V106.7M188.1,64.7H190.1M228.9,103.5V105.5M188.1,62.2H190.1M231.4,103.5V105.5M188.1,60.4H190.1M233.2,103.5V105.5M188.1,59.0H190.1M234.6,103.5V105.5M188.1,57.8H190.1M235.8,103.5V105.5M188.1,56.8H190.1M236.8,103.5V105.5M188.1,56.0H190.1M237.6,103.5V105.5M188.1,55.3H190.1M238.3,103.5V105.5M186.9,54.6H190.1M239.0,103.5V106.7M188.1,50.2H190.1M243.4,103.5V105.5M188.1,47.7H190.1M245.9,103.5V105.5M188.1,45.9H190.1M247.7,103.5V105.5M188.1,44.5H190.1M249.1,103.5V105.5M188.1,43.3H190.1M250.3,103.5V105.5M188.1,42.3H190.1M251.3,103.5V105.5M188.1,41.5H190.1M252.1,103.5V105.5M188.1,40.8H190.1M252.8,103.5V105.5M186.9,40.1H190.1M253.5,103.5V106.7M188.1,35.7H190.1M257.9,103.5V105.5" stroke="#111" stroke-width="0.9" fill="none"/>
<path d="M193.1,106.5L194.6,103.5L196.1,106.5L197.6,103.5M187.1,100.5L190.1,99.0L187.1,97.5" stroke="#222" stroke-width="1" fill="none"/>
<line x1="230.60" y1="34.00" x2="230.60" y2="103.50" stroke="#5a5a5a" stroke-width="0.85"/>
<line x1="190.10" y1="61.10" x2="259.60" y2="61.10" stroke="#5a5a5a" stroke-width="0.85"/>
<rect x="190.10" y="34.00" width="69.50" height="69.50" fill="none" stroke="#111" stroke-width="1.0"/>
<text x="192.40" y="41.80" font-size="7.5" text-anchor="start" fill="#111">12.1</text>
<text x="256.40" y="41.80" font-size="7.5" text-anchor="end" fill="#111">55.0</text>
<text x="192.40" y="101.50" font-size="7.5" text-anchor="start" fill="#111">13.1</text>
<text x="256.40" y="101.50" font-size="7.5" text-anchor="end" fill="#111">19.7</text>
<!--A3-->
<clipPath id="cA3"><rect x="269.90" y="34.00" width="69.50" height="69.50"/></clipPath>
<g clip-path="url(#cA3)">
<ellipse cx="297.70" cy="48.10" rx="2.5" ry="4.0" fill="#aaa" stroke="#111" stroke-width="2.0" transform="rotate(-8 297.70 48.10)"/>
<line x1="297.5" y1="46" x2="297.9" y2="50" stroke="#444" stroke-width="0.9"/>
<ellipse cx="320.20" cy="47.50" rx="5.6" ry="2.9" fill="#bbb" stroke="#111" stroke-width="2.1"/>
<ellipse cx="320.40" cy="47.50" rx="3.0" ry="0.8" fill="#eee"/>
<circle cx="304.60" cy="66.70" r="1.9" fill="#bbb" stroke="#111" stroke-width="1.5"/>
<circle cx="270.70" cy="73.70" r="2.6" fill="#777" stroke="#111" stroke-width="1.7"/>
<path d="M291.40,70.30 C292.15,69.63 293.82,69.30 294.90,69.50 C295.98,69.70 296.83,70.67 297.90,71.50 C298.97,72.33 301.13,73.70 301.30,74.50 C301.47,75.30 300.13,75.85 298.90,76.30 C297.67,76.75 295.15,77.17 293.90,77.20 C292.65,77.23 291.98,77.12 291.40,76.50 C290.82,75.88 290.40,74.53 290.40,73.50 C290.40,72.47 290.65,70.97 291.40,70.30 Z" fill="#999" stroke="#111" stroke-width="1.8"/>
<path d="M292.80,71.58 C293.25,71.18 294.25,70.98 294.90,71.10 C295.55,71.22 296.06,71.80 296.70,72.30 C297.34,72.80 298.64,73.62 298.74,74.10 C298.84,74.58 298.04,74.91 297.30,75.18 C296.56,75.45 295.05,75.70 294.30,75.72 C293.55,75.74 293.15,75.67 292.80,75.30 C292.45,74.93 292.20,74.12 292.20,73.50 C292.20,72.88 292.35,71.98 292.80,71.58 Z" fill="#bbb" stroke="#555" stroke-width="0.8"/>
<ellipse cx="285.20" cy="71.20" rx="5.0" ry="3.2" fill="#ddd" stroke="#111" stroke-width="2.1" transform="rotate(-10 285.20 71.20)"/>
<circle cx="288.50" cy="79.80" r="1.8" fill="#aaa" stroke="#111" stroke-width="1.6"/>
<path d="M314.4,69 C310.4,71 308.4,74.5 310.9,77.3 C312.4,79 313.9,80 315.4,80.6" stroke="#111" stroke-width="4.0" fill="none" stroke-linecap="round"/>
<path d="M314.4,69 C310.4,71 308.4,74.5 310.9,77.3 C312.4,79 313.9,80 315.4,80.6" stroke="#aaa" stroke-width="1.3" fill="none" stroke-linecap="round"/>
</g>
<path d="M266.7,98.1H269.9M275.3,103.5V106.7M267.9,99.6H269.9M273.8,103.5V105.5M267.9,100.5H269.9M272.9,103.5V105.5M267.9,101.2H269.9M272.2,103.5V105.5M266.7,98.1H269.9M275.3,103.5V106.7M267.9,93.7H269.9M279.7,103.5V105.5M267.9,91.2H269.9M282.2,103.5V105.5M267.9,89.4H269.9M284.0,103.5V105.5M267.9,88.0H269.9M285.4,103.5V105.5M267.9,86.8H269.9M286.6,103.5V105.5M267.9,85.8H269.9M287.6,103.5V105.5M267.9,85.0H269.9M288.4,103.5V105.5M267.9,84.3H269.9M289.1,103.5V105.5M266.7,83.6H269.9M289.8,103.5V106.7M267.9,79.2H269.9M294.2,103.5V105.5M267.9,76.7H269.9M296.7,103.5V105.5M267.9,74.9H269.9M298.5,103.5V105.5M267.9,73.5H269.9M299.9,103.5V105.5M267.9,72.3H269.9M301.1,103.5V105.5M267.9,71.3H269.9M302.1,103.5V105.5M267.9,70.5H269.9M302.9,103.5V105.5M267.9,69.8H269.9M303.6,103.5V105.5M266.7,69.1H269.9M304.3,103.5V106.7M267.9,64.7H269.9M308.7,103.5V105.5M267.9,62.2H269.9M311.2,103.5V105.5M267.9,60.4H269.9M313.0,103.5V105.5M267.9,59.0H269.9M314.4,103.5V105.5M267.9,57.8H269.9M315.6,103.5V105.5M267.9,56.8H269.9M316.6,103.5V105.5M267.9,56.0H269.9M317.4,103.5V105.5M267.9,55.3H269.9M318.1,103.5V105.5M266.7,54.6H269.9M318.8,103.5V106.7M267.9,50.2H269.9M323.2,103.5V105.5M267.9,47.7H269.9M325.7,103.5V105.5M267.9,45.9H269.9M327.5,103.5V105.5M267.9,44.5H269.9M328.9,103.5V105.5M267.9,43.3H269.9M330.1,103.5V105.5M267.9,42.3H269.9M331.1,103.5V105.5M267.9,41.5H269.9M331.9,103.5V105.5M267.9,40.8H269.9M332.6,103.5V105.5M266.7,40.1H269.9M333.3,103.5V106.7M267.9,35.7H269.9M337.7,103.5V105.5" stroke="#111" stroke-width="0.9" fill="none"/>
<path d="M272.9,106.5L274.4,103.5L275.9,106.5L277.4,103.5M266.9,100.5L269.9,99.0L266.9,97.5" stroke="#222" stroke-width="1" fill="none"/>
<line x1="310.40" y1="34.00" x2="310.40" y2="103.50" stroke="#5a5a5a" stroke-width="0.85"/>
<line x1="269.90" y1="61.10" x2="339.40" y2="61.10" stroke="#5a5a5a" stroke-width="0.85"/>
<rect x="269.90" y="34.00" width="69.50" height="69.50" fill="none" stroke="#111" stroke-width="1.0"/>
<text x="272.20" y="41.80" font-size="7.5" text-anchor="start" fill="#111">8.7</text>
<text x="336.20" y="41.80" font-size="7.5" text-anchor="end" fill="#111">21.7</text>
<text x="272.20" y="101.50" font-size="7.5" text-anchor="start" fill="#111">60.9</text>
<text x="336.20" y="101.50" font-size="7.5" text-anchor="end" fill="#111">8.7</text>
<!--A4-->
<clipPath id="cA4"><rect x="349.70" y="34.00" width="69.50" height="69.50"/></clipPath>
<g clip-path="url(#cA4)">
<path d="M349.70,73.00 C350.37,71.72 352.17,71.53 353.70,70.00 C355.23,68.47 357.07,65.13 358.90,63.80 C360.73,62.47 362.40,62.18 364.70,62.00 C367.00,61.82 370.40,63.07 372.70,62.70 C375.00,62.33 376.57,60.67 378.50,59.80 C380.43,58.93 382.37,58.08 384.30,57.50 C386.23,56.92 387.78,56.22 390.10,56.30 C392.42,56.38 396.10,56.93 398.20,58.00 C400.30,59.07 401.75,60.77 402.70,62.70 C403.65,64.63 404.27,67.30 403.90,69.60 C403.53,71.90 402.62,75.15 400.50,76.50 C398.38,77.85 393.33,76.73 391.20,77.70 C389.07,78.67 389.23,80.75 387.70,82.30 C386.17,83.85 383.72,86.05 382.00,87.00 C380.28,87.95 379.52,88.20 377.40,88.00 C375.28,87.80 371.62,86.75 369.30,85.80 C366.98,84.85 365.03,83.85 363.50,82.30 C361.97,80.75 361.63,77.47 360.10,76.50 C358.57,75.53 356.03,76.30 354.30,76.50 C352.57,76.70 350.47,78.28 349.70,77.70 C348.93,77.12 349.03,74.28 349.70,73.00 Z" fill="#dadada" stroke="#777" stroke-width="0.7"/>
<path d="M352.50,72.90 C353.10,71.75 354.72,71.58 356.10,70.20 C357.48,68.82 359.13,65.82 360.78,64.62 C362.43,63.42 363.93,63.16 366.00,63.00 C368.07,62.84 371.13,63.96 373.20,63.63 C375.27,63.30 376.68,61.80 378.42,61.02 C380.16,60.24 381.90,59.48 383.64,58.95 C385.38,58.43 386.78,57.80 388.86,57.87 C390.94,57.95 394.26,58.44 396.15,59.40 C398.04,60.36 399.34,61.89 400.20,63.63 C401.06,65.37 401.61,67.77 401.28,69.84 C400.95,71.91 400.12,74.83 398.22,76.05 C396.31,77.27 391.77,76.26 389.85,77.13 C387.93,78.00 388.08,79.88 386.70,81.27 C385.32,82.66 383.12,84.64 381.57,85.50 C380.02,86.36 379.34,86.58 377.43,86.40 C375.52,86.22 372.22,85.28 370.14,84.42 C368.06,83.56 366.30,82.66 364.92,81.27 C363.54,79.88 363.24,76.92 361.86,76.05 C360.48,75.18 358.20,75.87 356.64,76.05 C355.08,76.23 353.19,77.66 352.50,77.13 C351.81,76.60 351.90,74.06 352.50,72.90 Z" fill="none" stroke="#888" stroke-width="0.6"/>
<path d="M355.30,72.80 C355.83,71.77 357.27,71.63 358.50,70.40 C359.73,69.17 361.19,66.51 362.66,65.44 C364.13,64.37 365.46,64.15 367.30,64.00 C369.14,63.85 371.86,64.85 373.70,64.56 C375.54,64.27 376.79,62.93 378.34,62.24 C379.89,61.55 381.43,60.87 382.98,60.40 C384.53,59.93 385.77,59.37 387.62,59.44 C389.47,59.51 392.42,59.95 394.10,60.80 C395.78,61.65 396.94,63.01 397.70,64.56 C398.46,66.11 398.95,68.24 398.66,70.08 C398.37,71.92 397.63,74.52 395.94,75.60 C394.25,76.68 390.21,75.79 388.50,76.56 C386.79,77.33 386.93,79.00 385.70,80.24 C384.47,81.48 382.51,83.24 381.14,84.00 C379.77,84.76 379.15,84.96 377.46,84.80 C375.77,84.64 372.83,83.80 370.98,83.04 C369.13,82.28 367.57,81.48 366.34,80.24 C365.11,79.00 364.85,76.37 363.62,75.60 C362.39,74.83 360.37,75.44 358.98,75.60 C357.59,75.76 355.91,77.03 355.30,76.56 C354.69,76.09 354.77,73.83 355.30,72.80 Z" fill="#c4c4c4" stroke="#666" stroke-width="0.6"/>
<path d="M358.66,72.68 C359.11,71.81 360.34,71.68 361.38,70.64 C362.42,69.60 363.67,67.33 364.92,66.42 C366.16,65.52 367.30,65.32 368.86,65.20 C370.42,65.08 372.74,65.93 374.30,65.68 C375.86,65.43 376.93,64.29 378.24,63.70 C379.56,63.11 380.87,62.54 382.19,62.14 C383.50,61.74 384.56,61.27 386.13,61.32 C387.71,61.38 390.21,61.75 391.64,62.48 C393.07,63.21 394.05,64.36 394.70,65.68 C395.35,66.99 395.77,68.80 395.52,70.37 C395.27,71.93 394.64,74.14 393.20,75.06 C391.76,75.98 388.33,75.22 386.88,75.88 C385.43,76.53 385.54,77.95 384.50,79.00 C383.46,80.06 381.79,81.55 380.62,82.20 C379.46,82.85 378.94,83.02 377.50,82.88 C376.06,82.74 373.56,82.03 371.99,81.38 C370.41,80.74 369.09,80.06 368.04,79.00 C367.00,77.95 366.77,75.72 365.73,75.06 C364.69,74.40 362.97,74.92 361.79,75.06 C360.61,75.20 359.18,76.27 358.66,75.88 C358.14,75.48 358.21,73.55 358.66,72.68 Z" fill="none" stroke="#555" stroke-width="0.7"/>
<path d="M362.30,72.55 C362.67,71.84 363.66,71.74 364.50,70.90 C365.34,70.06 366.35,68.22 367.36,67.49 C368.37,66.76 369.29,66.60 370.55,66.50 C371.81,66.40 373.69,67.09 374.95,66.89 C376.21,66.68 377.08,65.77 378.14,65.29 C379.20,64.81 380.27,64.35 381.33,64.03 C382.39,63.70 383.25,63.32 384.52,63.37 C385.79,63.41 387.82,63.71 388.97,64.30 C390.13,64.89 390.93,65.82 391.45,66.89 C391.97,67.95 392.31,69.42 392.11,70.68 C391.91,71.95 391.40,73.73 390.24,74.47 C389.08,75.22 386.30,74.60 385.12,75.14 C383.95,75.67 384.04,76.81 383.20,77.66 C382.36,78.52 381.01,79.73 380.06,80.25 C379.12,80.77 378.70,80.91 377.53,80.80 C376.37,80.69 374.35,80.11 373.08,79.59 C371.81,79.07 370.73,78.52 369.89,77.66 C369.05,76.81 368.86,75.01 368.02,74.47 C367.18,73.94 365.78,74.36 364.83,74.47 C363.88,74.58 362.72,75.46 362.30,75.14 C361.88,74.81 361.93,73.26 362.30,72.55 Z" fill="none" stroke="#444" stroke-width="0.7"/>
<path d="M363.70,78.00 C364.53,77.33 367.37,77.50 369.70,77.50 C372.03,77.50 375.20,77.75 377.70,78.00 C380.20,78.25 383.03,78.33 384.70,79.00 C386.37,79.67 388.03,80.83 387.70,82.00 C387.37,83.17 384.53,85.25 382.70,86.00 C380.87,86.75 378.87,86.75 376.70,86.50 C374.53,86.25 371.70,85.33 369.70,84.50 C367.70,83.67 365.70,82.58 364.70,81.50 C363.70,80.42 362.87,78.67 363.70,78.00 Z" fill="none" stroke="#888" stroke-width="0.6"/>
<path d="M368.50,79.60 C369.00,79.20 370.70,79.30 372.10,79.30 C373.50,79.30 375.40,79.45 376.90,79.60 C378.40,79.75 380.10,79.80 381.10,80.20 C382.10,80.60 383.10,81.30 382.90,82.00 C382.70,82.70 381.00,83.95 379.90,84.40 C378.80,84.85 377.60,84.85 376.30,84.70 C375.00,84.55 373.30,84.00 372.10,83.50 C370.90,83.00 369.70,82.35 369.10,81.70 C368.50,81.05 368.00,80.00 368.50,79.60 Z" fill="none" stroke="#999" stroke-width="0.6"/>
<path d="M361.20,67.00 C362.37,65.92 365.45,65.83 367.70,65.50 C369.95,65.17 372.37,65.17 374.70,65.00 C377.03,64.83 379.53,64.42 381.70,64.50 C383.87,64.58 386.28,64.75 387.70,65.50 C389.12,66.25 390.20,67.58 390.20,69.00 C390.20,70.42 389.45,72.78 387.70,74.00 C385.95,75.22 382.37,75.88 379.70,76.30 C377.03,76.72 374.20,76.72 371.70,76.50 C369.20,76.28 366.53,75.75 364.70,75.00 C362.87,74.25 361.28,73.33 360.70,72.00 C360.12,70.67 360.03,68.08 361.20,67.00 Z" fill="#7a7a7a" stroke="#222" stroke-width="1.2"/>
<path d="M364.57,67.88 C365.45,67.06 367.76,67.00 369.45,66.75 C371.14,66.50 372.95,66.50 374.70,66.38 C376.45,66.25 378.32,65.94 379.95,66.00 C381.57,66.06 383.39,66.19 384.45,66.75 C385.51,67.31 386.32,68.31 386.32,69.38 C386.32,70.44 385.76,72.21 384.45,73.12 C383.14,74.04 380.45,74.54 378.45,74.85 C376.45,75.16 374.32,75.16 372.45,75.00 C370.57,74.84 368.57,74.44 367.20,73.88 C365.82,73.31 364.64,72.62 364.20,71.62 C363.76,70.62 363.70,68.69 364.57,67.88 Z" fill="none" stroke="#222" stroke-width="0.9"/>
<path d="M367.95,68.75 C368.53,68.21 370.07,68.17 371.20,68.00 C372.32,67.83 373.53,67.83 374.70,67.75 C375.87,67.67 377.12,67.46 378.20,67.50 C379.28,67.54 380.49,67.62 381.20,68.00 C381.91,68.38 382.45,69.04 382.45,69.75 C382.45,70.46 382.07,71.64 381.20,72.25 C380.32,72.86 378.53,73.19 377.20,73.40 C375.87,73.61 374.45,73.61 373.20,73.50 C371.95,73.39 370.62,73.12 369.70,72.75 C368.78,72.38 367.99,71.92 367.70,71.25 C367.41,70.58 367.37,69.29 367.95,68.75 Z" fill="#b0b0b0" stroke="#444" stroke-width="0.8"/>
<path d="M365.7,66.5 C373.7,65 381.7,64.5 387.7,66" stroke="#111" stroke-width="1.5" fill="none"/>
<path d="M363.7,74.5 C371.7,76 379.7,75.5 386.7,73.5" stroke="#222" stroke-width="1.2" fill="none"/>
<path d="M387.70,61.00 C388.03,58.75 390.03,58.00 391.70,57.50 C393.37,57.00 396.03,57.25 397.70,58.00 C399.37,58.75 400.87,60.33 401.70,62.00 C402.53,63.67 403.03,66.00 402.70,68.00 C402.37,70.00 401.20,72.83 399.70,74.00 C398.20,75.17 395.37,75.50 393.70,75.00 C392.03,74.50 390.70,73.33 389.70,71.00 C388.70,68.67 387.37,63.25 387.70,61.00 Z" fill="#c4c4c4" stroke="#555" stroke-width="0.8"/>
<path d="M390.10,62.50 C390.33,60.92 391.73,60.40 392.90,60.05 C394.07,59.70 395.93,59.88 397.10,60.40 C398.27,60.92 399.32,62.03 399.90,63.20 C400.48,64.37 400.83,66.00 400.60,67.40 C400.37,68.80 399.55,70.78 398.50,71.60 C397.45,72.42 395.47,72.65 394.30,72.30 C393.13,71.95 392.20,71.13 391.50,69.50 C390.80,67.87 389.87,64.08 390.10,62.50 Z" fill="none" stroke="#444" stroke-width="0.8"/>
<path d="M392.50,64.00 C392.63,63.10 393.43,62.80 394.10,62.60 C394.77,62.40 395.83,62.50 396.50,62.80 C397.17,63.10 397.77,63.73 398.10,64.40 C398.43,65.07 398.63,66.00 398.50,66.80 C398.37,67.60 397.90,68.73 397.30,69.20 C396.70,69.67 395.57,69.80 394.90,69.60 C394.23,69.40 393.70,68.93 393.30,68.00 C392.90,67.07 392.37,64.90 392.50,64.00 Z" fill="none" stroke="#666" stroke-width="0.7"/>
<path d="M385.7,58.5 C391.7,56 396.7,56 400.7,59" stroke="#222" stroke-width="1.1" fill="none"/>
<path d="M369.20,45.50 C369.95,44.85 370.95,43.82 372.70,43.60 C374.45,43.38 377.53,44.05 379.70,44.20 C381.87,44.35 383.70,44.37 385.70,44.50 C387.70,44.63 390.70,44.17 391.70,45.00 C392.70,45.83 392.87,48.67 391.70,49.50 C390.53,50.33 387.03,50.00 384.70,50.00 C382.37,50.00 380.03,49.58 377.70,49.50 C375.37,49.42 372.28,49.83 370.70,49.50 C369.12,49.17 368.45,48.17 368.20,47.50 C367.95,46.83 368.45,46.15 369.20,45.50 Z" fill="#b4b4b4" stroke="#666" stroke-width="0.8"/>
<path d="M373.40,46.10 C373.85,45.71 374.45,45.09 375.50,44.96 C376.55,44.83 378.40,45.23 379.70,45.32 C381.00,45.41 382.10,45.42 383.30,45.50 C384.50,45.58 386.30,45.30 386.90,45.80 C387.50,46.30 387.60,48.00 386.90,48.50 C386.20,49.00 384.10,48.80 382.70,48.80 C381.30,48.80 379.90,48.55 378.50,48.50 C377.10,48.45 375.25,48.70 374.30,48.50 C373.35,48.30 372.95,47.70 372.80,47.30 C372.65,46.90 372.95,46.49 373.40,46.10 Z" fill="none" stroke="#444" stroke-width="0.8"/>
<path d="M390.10,45.00 C390.93,43.65 393.27,43.67 395.70,43.40 C398.13,43.13 402.28,43.22 404.70,43.40 C407.12,43.58 409.03,43.65 410.20,44.50 C411.37,45.35 411.70,47.08 411.70,48.50 C411.70,49.92 411.37,52.05 410.20,53.00 C409.03,53.95 407.12,54.03 404.70,54.20 C402.28,54.37 398.03,54.45 395.70,54.00 C393.37,53.55 391.63,53.00 390.70,51.50 C389.77,50.00 389.27,46.35 390.10,45.00 Z" fill="#555" stroke="#111" stroke-width="1.8"/>
<path d="M392.22,45.80 C392.89,44.72 394.75,44.73 396.70,44.52 C398.65,44.31 401.97,44.37 403.90,44.52 C405.83,44.67 407.37,44.72 408.30,45.40 C409.23,46.08 409.50,47.47 409.50,48.60 C409.50,49.73 409.23,51.44 408.30,52.20 C407.37,52.96 405.83,53.03 403.90,53.16 C401.97,53.29 398.57,53.36 396.70,53.00 C394.83,52.64 393.45,52.20 392.70,51.00 C391.95,49.80 391.55,46.88 392.22,45.80 Z" fill="#777" stroke="#111" stroke-width="1.3"/>
<ellipse cx="400.70" cy="50.00" rx="4.5" ry="1.5" fill="#eee"/>
<path d="M367.00,99.00 C367.83,98.00 369.58,98.22 371.70,98.00 C373.82,97.78 377.37,97.65 379.70,97.70 C382.03,97.75 384.28,97.83 385.70,98.30 C387.12,98.77 387.78,99.55 388.20,100.50 C388.62,101.45 391.78,103.42 388.20,104.00 C384.62,104.58 370.23,104.83 366.70,104.00 C363.17,103.17 366.17,100.00 367.00,99.00 Z" fill="#888" stroke="#111" stroke-width="1.3"/>
<circle cx="371.60" cy="59.80" r="1.5" fill="#f4f4f4" stroke="#777" stroke-width="0.7"/>
<circle cx="393.00" cy="89.20" r="1.6" fill="#f4f4f4" stroke="#777" stroke-width="0.7"/>
<circle cx="380.90" cy="95.60" r="1.6" fill="#f4f4f4" stroke="#777" stroke-width="0.7"/>
<circle cx="368.20" cy="96.20" r="1.6" fill="#f4f4f4" stroke="#777" stroke-width="0.7"/>
<path d="M398.2,97.3 l1.7,1.7 l-1.7,1.7 l-1.7,-1.7 Z" stroke="#777" stroke-width="0.7" fill="none"/>
<rect x="349.7" y="73" width="3" height="2.5" fill="#555"/>
</g>
<path d="M346.5,98.1H349.7M355.1,103.5V106.7M347.7,99.6H349.7M353.6,103.5V105.5M347.7,100.5H349.7M352.7,103.5V105.5M347.7,101.2H349.7M352.0,103.5V105.5M346.5,98.1H349.7M355.1,103.5V106.7M347.7,93.7H349.7M359.5,103.5V105.5M347.7,91.2H349.7M362.0,103.5V105.5M347.7,89.4H349.7M363.8,103.5V105.5M347.7,88.0H349.7M365.2,103.5V105.5M347.7,86.8H349.7M366.4,103.5V105.5M347.7,85.8H349.7M367.4,103.5V105.5M347.7,85.0H349.7M368.2,103.5V105.5M347.7,84.3H349.7M368.9,103.5V105.5M346.5,83.6H349.7M369.6,103.5V106.7M347.7,79.2H349.7M374.0,103.5V105.5M347.7,76.7H349.7M376.5,103.5V105.5M347.7,74.9H349.7M378.3,103.5V105.5M347.7,73.5H349.7M379.7,103.5V105.5M347.7,72.3H349.7M380.9,103.5V105.5M347.7,71.3H349.7M381.9,103.5V105.5M347.7,70.5H349.7M382.7,103.5V105.5M347.7,69.8H349.7M383.4,103.5V105.5M346.5,69.1H349.7M384.1,103.5V106.7M347.7,64.7H349.7M388.5,103.5V105.5M347.7,62.2H349.7M391.0,103.5V105.5M347.7,60.4H349.7M392.8,103.5V105.5M347.7,59.0H349.7M394.2,103.5V105.5M347.7,57.8H349.7M395.4,103.5V105.5M347.7,56.8H349.7M396.4,103.5V105.5M347.7,56.0H349.7M397.2,103.5V105.5M347.7,55.3H349.7M397.9,103.5V105.5M346.5,54.6H349.7M398.6,103.5V106.7M347.7,50.2H349.7M403.0,103.5V105.5M347.7,47.7H349.7M405.5,103.5V105.5M347.7,45.9H349.7M407.3,103.5V105.5M347.7,44.5H349.7M408.7,103.5V105.5M347.7,43.3H349.7M409.9,103.5V105.5M347.7,42.3H349.7M410.9,103.5V105.5M347.7,41.5H349.7M411.7,103.5V105.5M347.7,40.8H349.7M412.4,103.5V105.5M346.5,40.1H349.7M413.1,103.5V106.7M347.7,35.7H349.7M417.5,103.5V105.5" stroke="#111" stroke-width="0.9" fill="none"/>
<path d="M352.7,106.5L354.2,103.5L355.7,106.5L357.2,103.5M346.7,100.5L349.7,99.0L346.7,97.5" stroke="#222" stroke-width="1" fill="none"/>
<line x1="390.20" y1="34.00" x2="390.20" y2="103.50" stroke="#5a5a5a" stroke-width="0.85"/>
<line x1="349.70" y1="61.10" x2="419.20" y2="61.10" stroke="#5a5a5a" stroke-width="0.85"/>
<rect x="349.70" y="34.00" width="69.50" height="69.50" fill="none" stroke="#111" stroke-width="1.0"/>
<text x="352.00" y="41.80" font-size="7.5" text-anchor="start" fill="#111">5.8</text>
<text x="416.00" y="41.80" font-size="7.5" text-anchor="end" fill="#111">27.2</text>
<text x="352.00" y="101.50" font-size="7.5" text-anchor="start" fill="#111">51.4</text>
<text x="416.00" y="101.50" font-size="7.5" text-anchor="end" fill="#111">15.6</text>
<!--A5-->
<clipPath id="cA5"><rect x="429.50" y="34.00" width="69.50" height="69.50"/></clipPath>
<g clip-path="url(#cA5)">
<path d="M473.00,46.50 C473.33,45.17 474.92,44.45 476.50,44.00 C478.08,43.55 480.75,43.55 482.50,43.80 C484.25,44.05 486.17,44.47 487.00,45.50 C487.83,46.53 487.75,48.58 487.50,50.00 C487.25,51.42 486.50,53.00 485.50,54.00 C484.50,55.00 482.83,55.80 481.50,56.00 C480.17,56.20 478.67,55.87 477.50,55.20 C476.33,54.53 475.25,53.45 474.50,52.00 C473.75,50.55 472.67,47.83 473.00,46.50 Z" fill="#999" stroke="#111" stroke-width="1.7"/>
<path d="M474.88,47.12 C475.12,46.12 476.31,45.59 477.50,45.25 C478.69,44.91 480.69,44.91 482.00,45.10 C483.31,45.29 484.75,45.60 485.38,46.38 C486.00,47.15 485.94,48.69 485.75,49.75 C485.56,50.81 485.00,52.00 484.25,52.75 C483.50,53.50 482.25,54.10 481.25,54.25 C480.25,54.40 479.12,54.15 478.25,53.65 C477.38,53.15 476.56,52.34 476.00,51.25 C475.44,50.16 474.62,48.12 474.88,47.12 Z" fill="#bbb" stroke="#555" stroke-width="0.7"/>
<path d="M476.75,47.75 C476.92,47.08 477.71,46.73 478.50,46.50 C479.29,46.27 480.62,46.27 481.50,46.40 C482.38,46.52 483.33,46.73 483.75,47.25 C484.17,47.77 484.12,48.79 484.00,49.50 C483.88,50.21 483.50,51.00 483.00,51.50 C482.50,52.00 481.67,52.40 481.00,52.50 C480.33,52.60 479.58,52.43 479.00,52.10 C478.42,51.77 477.88,51.23 477.50,50.50 C477.12,49.77 476.58,48.42 476.75,47.75 Z" fill="#ddd" stroke="#777" stroke-width="0.6"/>
<path d="M479.50,56.00 C480.33,55.33 482.50,54.67 483.50,55.00 C484.50,55.33 485.33,56.92 485.50,58.00 C485.67,59.08 485.33,60.67 484.50,61.50 C483.67,62.33 481.58,62.92 480.50,63.00 C479.42,63.08 478.33,62.67 478.00,62.00 C477.67,61.33 478.25,60.00 478.50,59.00 C478.75,58.00 478.67,56.67 479.50,56.00 Z" fill="#aaa" stroke="#111" stroke-width="1.3"/>
<path d="M480.50,57.50 C480.92,57.17 482.00,56.83 482.50,57.00 C483.00,57.17 483.42,57.96 483.50,58.50 C483.58,59.04 483.42,59.83 483.00,60.25 C482.58,60.67 481.54,60.96 481.00,61.00 C480.46,61.04 479.92,60.83 479.75,60.50 C479.58,60.17 479.88,59.50 480.00,59.00 C480.12,58.50 480.08,57.83 480.50,57.50 Z" fill="none" stroke="#666" stroke-width="0.6"/>
<ellipse cx="451.00" cy="53.00" rx="3.8" ry="1.8" fill="none" stroke="#111" stroke-width="1.3" transform="rotate(-45 451.00 53.00)"/>
<circle cx="462.00" cy="47.50" r="1.7" fill="#aaa" stroke="#555" stroke-width="0.8"/>
<circle cx="469.00" cy="55.50" r="1.7" fill="#aaa" stroke="#555" stroke-width="0.8"/>
<circle cx="443.00" cy="69.50" r="1.7" fill="#aaa" stroke="#555" stroke-width="0.8"/>
<circle cx="435.00" cy="73.50" r="1.7" fill="#aaa" stroke="#555" stroke-width="0.8"/>
<circle cx="481.00" cy="69.50" r="1.7" fill="#aaa" stroke="#555" stroke-width="0.8"/>
<circle cx="449.00" cy="86.50" r="1.7" fill="#aaa" stroke="#555" stroke-width="0.8"/>
<circle cx="457.50" cy="90.50" r="1.7" fill="#aaa" stroke="#555" stroke-width="0.8"/>
<circle cx="466.50" cy="88.00" r="1.7" fill="#aaa" stroke="#555" stroke-width="0.8"/>
<circle cx="457.00" cy="78.50" r="1.7" fill="#aaa" stroke="#555" stroke-width="0.8"/>
<circle cx="429.80" cy="48.00" r="2.4" fill="#888" stroke="#111" stroke-width="1.4"/>
<circle cx="429.80" cy="83.00" r="2.4" fill="#888" stroke="#111" stroke-width="1.4"/>
<path d="M448.50,69.50 C449.08,68.58 451.17,67.75 452.50,67.50 C453.83,67.25 455.17,68.08 456.50,68.00 C457.83,67.92 459.17,67.00 460.50,67.00 C461.83,67.00 463.58,67.33 464.50,68.00 C465.42,68.67 466.17,70.08 466.00,71.00 C465.83,71.92 464.58,73.00 463.50,73.50 C462.42,74.00 460.67,73.67 459.50,74.00 C458.33,74.33 457.67,75.42 456.50,75.50 C455.33,75.58 453.75,74.92 452.50,74.50 C451.25,74.08 449.67,73.83 449.00,73.00 C448.33,72.17 447.92,70.42 448.50,69.50 Z" fill="#aaa" stroke="#111" stroke-width="1.5"/>
<path d="M451.70,70.10 C452.05,69.55 453.30,69.05 454.10,68.90 C454.90,68.75 455.70,69.25 456.50,69.20 C457.30,69.15 458.10,68.60 458.90,68.60 C459.70,68.60 460.75,68.80 461.30,69.20 C461.85,69.60 462.30,70.45 462.20,71.00 C462.10,71.55 461.35,72.20 460.70,72.50 C460.05,72.80 459.00,72.60 458.30,72.80 C457.60,73.00 457.20,73.65 456.50,73.70 C455.80,73.75 454.85,73.35 454.10,73.10 C453.35,72.85 452.40,72.70 452.00,72.20 C451.60,71.70 451.35,70.65 451.70,70.10 Z" fill="#ccc" stroke="#666" stroke-width="0.6"/>
</g>
<path d="M426.3,98.1H429.5M434.9,103.5V106.7M427.5,99.6H429.5M433.4,103.5V105.5M427.5,100.5H429.5M432.5,103.5V105.5M427.5,101.2H429.5M431.8,103.5V105.5M426.3,98.1H429.5M434.9,103.5V106.7M427.5,93.7H429.5M439.3,103.5V105.5M427.5,91.2H429.5M441.8,103.5V105.5M427.5,89.4H429.5M443.6,103.5V105.5M427.5,88.0H429.5M445.0,103.5V105.5M427.5,86.8H429.5M446.2,103.5V105.5M427.5,85.8H429.5M447.2,103.5V105.5M427.5,85.0H429.5M448.0,103.5V105.5M427.5,84.3H429.5M448.7,103.5V105.5M426.3,83.6H429.5M449.4,103.5V106.7M427.5,79.2H429.5M453.8,103.5V105.5M427.5,76.7H429.5M456.3,103.5V105.5M427.5,74.9H429.5M458.1,103.5V105.5M427.5,73.5H429.5M459.5,103.5V105.5M427.5,72.3H429.5M460.7,103.5V105.5M427.5,71.3H429.5M461.7,103.5V105.5M427.5,70.5H429.5M462.5,103.5V105.5M427.5,69.8H429.5M463.2,103.5V105.5M426.3,69.1H429.5M463.9,103.5V106.7M427.5,64.7H429.5M468.3,103.5V105.5M427.5,62.2H429.5M470.8,103.5V105.5M427.5,60.4H429.5M472.6,103.5V105.5M427.5,59.0H429.5M474.0,103.5V105.5M427.5,57.8H429.5M475.2,103.5V105.5M427.5,56.8H429.5M476.2,103.5V105.5M427.5,56.0H429.5M477.0,103.5V105.5M427.5,55.3H429.5M477.7,103.5V105.5M426.3,54.6H429.5M478.4,103.5V106.7M427.5,50.2H429.5M482.8,103.5V105.5M427.5,47.7H429.5M485.3,103.5V105.5M427.5,45.9H429.5M487.1,103.5V105.5M427.5,44.5H429.5M488.5,103.5V105.5M427.5,43.3H429.5M489.7,103.5V105.5M427.5,42.3H429.5M490.7,103.5V105.5M427.5,41.5H429.5M491.5,103.5V105.5M427.5,40.8H429.5M492.2,103.5V105.5M426.3,40.1H429.5M492.9,103.5V106.7M427.5,35.7H429.5M497.3,103.5V105.5" stroke="#111" stroke-width="0.9" fill="none"/>
<path d="M432.5,106.5L434.0,103.5L435.5,106.5L437.0,103.5M426.5,100.5L429.5,99.0L426.5,97.5" stroke="#222" stroke-width="1" fill="none"/>
<line x1="470.00" y1="34.00" x2="470.00" y2="103.50" stroke="#5a5a5a" stroke-width="0.85"/>
<line x1="429.50" y1="61.10" x2="499.00" y2="61.10" stroke="#5a5a5a" stroke-width="0.85"/>
<rect x="429.50" y="34.00" width="69.50" height="69.50" fill="none" stroke="#111" stroke-width="1.0"/>
<text x="431.80" y="41.80" font-size="7.5" text-anchor="start" fill="#111">8.6</text>
<text x="495.80" y="41.80" font-size="7.5" text-anchor="end" fill="#111">60.3</text>
<text x="431.80" y="101.50" font-size="7.5" text-anchor="start" fill="#111">27.6</text>
<text x="495.80" y="101.50" font-size="7.5" text-anchor="end" fill="#111">3.4</text>
<text x="21.80" y="69.00" font-size="10" text-anchor="middle" fill="#111" textLength="19.00" lengthAdjust="spacingAndGlyphs" transform="rotate(-90 21.80 69.00)">CD4</text>
<text x="61.60" y="118.90" font-size="10" text-anchor="middle" fill="#111" textLength="19.20" lengthAdjust="spacingAndGlyphs">CD8</text>
<line x1="80.50" y1="114.40" x2="495.20" y2="114.40" stroke="#111" stroke-width="1.0"/>
<path d="M493.40,112.10 L499.20,114.40 L493.40,116.70 L494.60,114.40 Z" fill="#111"/>
<line x1="52.30" y1="160.80" x2="52.30" y2="235.20" stroke="#111" stroke-width="1.1"/>
<line x1="51.80" y1="235.20" x2="177.50" y2="235.20" stroke="#111" stroke-width="1.1"/>
<line x1="48.80" y1="235.20" x2="52.30" y2="235.20" stroke="#111" stroke-width="1.0"/>
<text x="47.00" y="238.10" font-size="8.4" text-anchor="end" fill="#111">0</text>
<line x1="48.80" y1="223.30" x2="52.30" y2="223.30" stroke="#111" stroke-width="1.0"/>
<text x="47.00" y="226.20" font-size="8.4" text-anchor="end" fill="#111">2</text>
<line x1="48.80" y1="211.40" x2="52.30" y2="211.40" stroke="#111" stroke-width="1.0"/>
<text x="47.00" y="214.30" font-size="8.4" text-anchor="end" fill="#111">4</text>
<line x1="48.80" y1="199.50" x2="52.30" y2="199.50" stroke="#111" stroke-width="1.0"/>
<text x="47.00" y="202.40" font-size="8.4" text-anchor="end" fill="#111">6</text>
<line x1="48.80" y1="187.60" x2="52.30" y2="187.60" stroke="#111" stroke-width="1.0"/>
<text x="47.00" y="190.50" font-size="8.4" text-anchor="end" fill="#111">8</text>
<line x1="48.80" y1="175.70" x2="52.30" y2="175.70" stroke="#111" stroke-width="1.0"/>
<text x="47.00" y="178.60" font-size="8.4" text-anchor="end" fill="#111">10</text>
<line x1="48.80" y1="163.80" x2="52.30" y2="163.80" stroke="#111" stroke-width="1.0"/>
<text x="47.00" y="166.70" font-size="8.4" text-anchor="end" fill="#111">12</text>
<line x1="66.10" y1="235.20" x2="66.10" y2="238.50" stroke="#111" stroke-width="1.0"/>
<line x1="86.30" y1="235.20" x2="86.30" y2="238.50" stroke="#111" stroke-width="1.0"/>
<line x1="106.60" y1="235.20" x2="106.60" y2="238.50" stroke="#111" stroke-width="1.0"/>
<line x1="126.60" y1="235.20" x2="126.60" y2="238.50" stroke="#111" stroke-width="1.0"/>
<line x1="146.70" y1="235.20" x2="146.70" y2="238.50" stroke="#111" stroke-width="1.0"/>
<line x1="166.50" y1="235.20" x2="166.50" y2="238.50" stroke="#111" stroke-width="1.0"/>
<circle cx="62.00" cy="175.80" r="2.2" fill="none" stroke="#c01040" stroke-width="1.2"/>
<circle cx="65.40" cy="180.40" r="2.2" fill="none" stroke="#c01040" stroke-width="1.2"/>
<circle cx="69.50" cy="178.50" r="2.2" fill="none" stroke="#c01040" stroke-width="1.2"/>
<circle cx="82.30" cy="199.60" r="2.2" fill="none" stroke="#c01040" stroke-width="1.2"/>
<circle cx="86.30" cy="203.70" r="2.2" fill="none" stroke="#c01040" stroke-width="1.2"/>
<circle cx="90.10" cy="199.60" r="2.2" fill="none" stroke="#c01040" stroke-width="1.2"/>
<circle cx="102.40" cy="175.00" r="2.2" fill="none" stroke="#34568f" stroke-width="1.2"/>
<circle cx="105.90" cy="177.70" r="2.2" fill="none" stroke="#34568f" stroke-width="1.2"/>
<circle cx="109.70" cy="176.70" r="2.2" fill="none" stroke="#34568f" stroke-width="1.2"/>
<circle cx="122.90" cy="194.80" r="2.2" fill="none" stroke="#34568f" stroke-width="1.2"/>
<circle cx="127.00" cy="197.90" r="2.2" fill="none" stroke="#34568f" stroke-width="1.2"/>
<circle cx="130.50" cy="197.60" r="2.2" fill="none" stroke="#34568f" stroke-width="1.2"/>
<circle cx="146.90" cy="179.40" r="2.2" fill="none" stroke="#34568f" stroke-width="1.2"/>
<circle cx="143.40" cy="196.90" r="2.2" fill="none" stroke="#34568f" stroke-width="1.2"/>
<circle cx="149.90" cy="192.10" r="2.2" fill="none" stroke="#34568f" stroke-width="1.2"/>
<circle cx="163.30" cy="191.80" r="2.2" fill="none" stroke="#34568f" stroke-width="1.2"/>
<circle cx="170.30" cy="191.80" r="2.2" fill="none" stroke="#34568f" stroke-width="1.2"/>
<circle cx="166.50" cy="203.40" r="2.2" fill="none" stroke="#34568f" stroke-width="1.2"/>
<line x1="59.10" y1="178.10" x2="72.90" y2="178.10" stroke="#111" stroke-width="1.3"/>
<line x1="78.50" y1="201.20" x2="94.00" y2="201.20" stroke="#111" stroke-width="1.3"/>
<line x1="99.00" y1="176.50" x2="113.00" y2="176.50" stroke="#111" stroke-width="1.3"/>
<line x1="119.00" y1="196.60" x2="134.50" y2="196.60" stroke="#111" stroke-width="1.3"/>
<line x1="139.00" y1="189.70" x2="155.00" y2="189.70" stroke="#111" stroke-width="1.3"/>
<line x1="158.50" y1="195.60" x2="174.50" y2="195.60" stroke="#111" stroke-width="1.3"/>
<path d="M66.60,161.80 L66.60,158.60 L86.60,158.60 L86.60,161.80" fill="none" stroke="#111" stroke-width="1"/>
<path d="M86.60,161.80 L86.60,158.60 L106.80,158.60 L106.80,161.80" fill="none" stroke="#111" stroke-width="1"/>
<path d="M106.80,161.80 L106.80,158.60 L126.80,158.60 L126.80,161.80" fill="none" stroke="#111" stroke-width="1"/>
<circle cx="71.95" cy="156.00" r="1.1" fill="#222"/>
<circle cx="75.05" cy="156.00" r="1.1" fill="#222"/>
<circle cx="78.15" cy="156.00" r="1.1" fill="#222"/>
<circle cx="81.25" cy="156.00" r="1.1" fill="#222"/>
<circle cx="92.05" cy="156.00" r="1.1" fill="#222"/>
<circle cx="95.15" cy="156.00" r="1.1" fill="#222"/>
<circle cx="98.25" cy="156.00" r="1.1" fill="#222"/>
<circle cx="101.35" cy="156.00" r="1.1" fill="#222"/>
<circle cx="113.70" cy="156.00" r="1.1" fill="#222"/>
<circle cx="116.80" cy="156.00" r="1.1" fill="#222"/>
<circle cx="119.90" cy="156.00" r="1.1" fill="#222"/>
<line x1="86.60" y1="158.60" x2="86.60" y2="162.00" stroke="#111" stroke-width="1.8"/>
<line x1="106.80" y1="158.60" x2="106.80" y2="162.00" stroke="#111" stroke-width="1.6"/>
<path d="M106.80,155.50 L106.80,152.30 L147.00,152.30 L147.00,155.50" fill="none" stroke="#111" stroke-width="1"/>
<circle cx="125.45" cy="149.70" r="1.1" fill="#222"/>
<circle cx="128.55" cy="149.70" r="1.1" fill="#222"/>
<path d="M106.80,148.60 L106.80,145.40 L166.60,145.40 L166.60,148.60" fill="none" stroke="#111" stroke-width="1"/>
<circle cx="133.70" cy="142.80" r="1.1" fill="#222"/>
<circle cx="136.80" cy="142.80" r="1.1" fill="#222"/>
<circle cx="139.90" cy="142.80" r="1.1" fill="#222"/>
<path d="M126.80,167.60 L126.80,164.40 L166.60,164.40 L166.60,167.60" fill="none" stroke="#111" stroke-width="1"/>
<text x="146.60" y="162.70" font-size="8" text-anchor="middle" fill="#111">ns</text>
<path d="M126.80,174.00 L126.80,170.80 L146.60,170.80 L146.60,174.00" fill="none" stroke="#111" stroke-width="1"/>
<text x="136.80" y="169.20" font-size="8" text-anchor="middle" fill="#111">ns</text>
<text x="17.70" y="199.60" font-size="9.7" text-anchor="middle" fill="#111" textLength="74.70" lengthAdjust="spacingAndGlyphs" transform="rotate(-90 17.70 199.60)">Total cell number</text>
<text x="29.30" y="200.40" font-size="9.7" text-anchor="middle" fill="#111" textLength="32.30" lengthAdjust="spacingAndGlyphs" transform="rotate(-90 29.30 200.40)">(LOG 2)</text>
<text x="70.10" y="245.20" font-size="8.5" text-anchor="end" fill="#111" textLength="22.41" lengthAdjust="spacingAndGlyphs" transform="rotate(-45 70.10 245.20)">Vector</text>
<text x="90.30" y="245.20" font-size="8.5" text-anchor="end" fill="#111" textLength="22.41" lengthAdjust="spacingAndGlyphs" transform="rotate(-45 90.30 245.20)">Vector</text>
<text x="110.60" y="245.20" font-size="8.5" text-anchor="end" fill="#111" textLength="22.84" lengthAdjust="spacingAndGlyphs" transform="rotate(-45 110.60 245.20)">ZMIZ1</text>
<text x="130.60" y="245.20" font-size="8.5" text-anchor="end" fill="#111" textLength="21.09" lengthAdjust="spacingAndGlyphs" transform="rotate(-45 130.60 245.20)">ΔTPR</text>
<text x="150.70" y="245.20" font-size="8.5" text-anchor="end" fill="#111" textLength="41.31" lengthAdjust="spacingAndGlyphs" transform="rotate(-45 150.70 245.20)">R14A/E34A</text>
<text x="170.50" y="245.20" font-size="8.5" text-anchor="end" fill="#111" textLength="19.77" lengthAdjust="spacingAndGlyphs" transform="rotate(-45 170.50 245.20)">R14E</text>
<line x1="44.80" y1="278.50" x2="68.30" y2="278.50" stroke="#111" stroke-width="1.1"/>
<line x1="75.00" y1="278.50" x2="168.70" y2="278.50" stroke="#111" stroke-width="1.1"/>
<text x="56.70" y="290.60" font-size="8.6" text-anchor="middle" fill="#111" textLength="24.52" lengthAdjust="spacingAndGlyphs">LckCre</text>
<text x="122.00" y="290.60" font-size="8.6" text-anchor="middle" fill="#111" textLength="29.69" lengthAdjust="spacingAndGlyphs">ΔLckCre</text>
<line x1="242.20" y1="159.70" x2="242.20" y2="235.20" stroke="#111" stroke-width="1.1"/>
<line x1="241.70" y1="235.20" x2="369.80" y2="235.20" stroke="#111" stroke-width="1.1"/>
<line x1="238.70" y1="235.20" x2="242.20" y2="235.20" stroke="#111" stroke-width="1.0"/>
<text x="236.90" y="238.10" font-size="8.4" text-anchor="end" fill="#111">0</text>
<line x1="238.70" y1="220.70" x2="242.20" y2="220.70" stroke="#111" stroke-width="1.0"/>
<text x="236.90" y="223.60" font-size="8.4" text-anchor="end" fill="#111">2</text>
<line x1="238.70" y1="206.20" x2="242.20" y2="206.20" stroke="#111" stroke-width="1.0"/>
<text x="236.90" y="209.10" font-size="8.4" text-anchor="end" fill="#111">4</text>
<line x1="238.70" y1="191.70" x2="242.20" y2="191.70" stroke="#111" stroke-width="1.0"/>
<text x="236.90" y="194.60" font-size="8.4" text-anchor="end" fill="#111">6</text>
<line x1="238.70" y1="177.20" x2="242.20" y2="177.20" stroke="#111" stroke-width="1.0"/>
<text x="236.90" y="180.10" font-size="8.4" text-anchor="end" fill="#111">8</text>
<line x1="238.70" y1="162.70" x2="242.20" y2="162.70" stroke="#111" stroke-width="1.0"/>
<text x="236.90" y="165.60" font-size="8.4" text-anchor="end" fill="#111">10</text>
<line x1="256.00" y1="235.20" x2="256.00" y2="238.50" stroke="#111" stroke-width="1.0"/>
<line x1="275.90" y1="235.20" x2="275.90" y2="238.50" stroke="#111" stroke-width="1.0"/>
<line x1="295.90" y1="235.20" x2="295.90" y2="238.50" stroke="#111" stroke-width="1.0"/>
<line x1="315.80" y1="235.20" x2="315.80" y2="238.50" stroke="#111" stroke-width="1.0"/>
<line x1="336.00" y1="235.20" x2="336.00" y2="238.50" stroke="#111" stroke-width="1.0"/>
<line x1="356.10" y1="235.20" x2="356.10" y2="238.50" stroke="#111" stroke-width="1.0"/>
<circle cx="252.00" cy="171.90" r="2.2" fill="none" stroke="#c01040" stroke-width="1.2"/>
<circle cx="255.20" cy="175.90" r="2.2" fill="none" stroke="#c01040" stroke-width="1.2"/>
<circle cx="259.20" cy="174.60" r="2.2" fill="none" stroke="#c01040" stroke-width="1.2"/>
<circle cx="276.00" cy="199.90" r="2.2" fill="none" stroke="#c01040" stroke-width="1.2"/>
<circle cx="276.00" cy="207.20" r="2.2" fill="none" stroke="#c01040" stroke-width="1.2"/>
<circle cx="276.00" cy="215.00" r="2.2" fill="none" stroke="#c01040" stroke-width="1.2"/>
<circle cx="292.40" cy="170.50" r="2.2" fill="none" stroke="#34568f" stroke-width="1.2"/>
<circle cx="296.00" cy="175.00" r="2.2" fill="none" stroke="#34568f" stroke-width="1.2"/>
<circle cx="300.20" cy="170.50" r="2.2" fill="none" stroke="#34568f" stroke-width="1.2"/>
<circle cx="316.30" cy="198.50" r="2.2" fill="none" stroke="#34568f" stroke-width="1.2"/>
<circle cx="313.10" cy="211.20" r="2.2" fill="none" stroke="#34568f" stroke-width="1.2"/>
<circle cx="319.80" cy="207.20" r="2.2" fill="none" stroke="#34568f" stroke-width="1.2"/>
<circle cx="336.30" cy="182.20" r="2.2" fill="none" stroke="#34568f" stroke-width="1.2"/>
<circle cx="332.90" cy="199.40" r="2.2" fill="none" stroke="#34568f" stroke-width="1.2"/>
<circle cx="339.40" cy="196.90" r="2.2" fill="none" stroke="#34568f" stroke-width="1.2"/>
<circle cx="353.20" cy="187.70" r="2.2" fill="none" stroke="#34568f" stroke-width="1.2"/>
<circle cx="359.70" cy="191.40" r="2.2" fill="none" stroke="#34568f" stroke-width="1.2"/>
<circle cx="356.60" cy="218.50" r="2.2" fill="none" stroke="#34568f" stroke-width="1.2"/>
<line x1="249.50" y1="174.00" x2="262.50" y2="174.00" stroke="#111" stroke-width="1.3"/>
<line x1="268.00" y1="207.40" x2="283.50" y2="207.40" stroke="#111" stroke-width="1.3"/>
<line x1="288.50" y1="172.40" x2="303.00" y2="172.40" stroke="#111" stroke-width="1.3"/>
<line x1="308.50" y1="205.50" x2="323.50" y2="205.50" stroke="#111" stroke-width="1.3"/>
<line x1="329.50" y1="192.90" x2="342.50" y2="192.90" stroke="#111" stroke-width="1.3"/>
<line x1="349.80" y1="199.40" x2="363.00" y2="199.40" stroke="#111" stroke-width="1.3"/>
<path d="M256.00,165.70 L256.00,162.50 L276.00,162.50 L276.00,165.70" fill="none" stroke="#111" stroke-width="1"/>
<path d="M276.00,165.70 L276.00,162.50 L296.00,162.50 L296.00,165.70" fill="none" stroke="#111" stroke-width="1"/>
<path d="M296.00,165.70 L296.00,162.50 L316.00,162.50 L316.00,165.70" fill="none" stroke="#111" stroke-width="1"/>
<line x1="276.00" y1="162.50" x2="276.00" y2="166.00" stroke="#111" stroke-width="1.8"/>
<line x1="296.00" y1="162.50" x2="296.00" y2="166.00" stroke="#111" stroke-width="1.6"/>
<circle cx="261.35" cy="159.90" r="1.1" fill="#222"/>
<circle cx="264.45" cy="159.90" r="1.1" fill="#222"/>
<circle cx="267.55" cy="159.90" r="1.1" fill="#222"/>
<circle cx="270.65" cy="159.90" r="1.1" fill="#222"/>
<circle cx="281.35" cy="159.90" r="1.1" fill="#222"/>
<circle cx="284.45" cy="159.90" r="1.1" fill="#222"/>
<circle cx="287.55" cy="159.90" r="1.1" fill="#222"/>
<circle cx="290.65" cy="159.90" r="1.1" fill="#222"/>
<circle cx="302.90" cy="159.90" r="1.1" fill="#222"/>
<circle cx="306.00" cy="159.90" r="1.1" fill="#222"/>
<circle cx="309.10" cy="159.90" r="1.1" fill="#222"/>
<path d="M296.00,159.20 L296.00,156.00 L336.00,156.00 L336.00,159.20" fill="none" stroke="#111" stroke-width="1"/>
<circle cx="316.00" cy="153.40" r="1.1" fill="#222"/>
<path d="M296.00,151.80 L296.00,148.60 L355.60,148.60 L355.60,151.80" fill="none" stroke="#111" stroke-width="1"/>
<circle cx="324.25" cy="146.00" r="1.1" fill="#222"/>
<circle cx="327.35" cy="146.00" r="1.1" fill="#222"/>
<path d="M316.00,171.50 L316.00,168.30 L356.00,168.30 L356.00,171.50" fill="none" stroke="#111" stroke-width="1"/>
<text x="336.00" y="166.60" font-size="8" text-anchor="middle" fill="#111">ns</text>
<path d="M316.00,178.60 L316.00,175.40 L336.00,175.40 L336.00,178.60" fill="none" stroke="#111" stroke-width="1"/>
<text x="326.00" y="173.80" font-size="8" text-anchor="middle" fill="#111">ns</text>
<text x="206.90" y="197.60" font-size="9.7" text-anchor="middle" fill="#111" textLength="66.40" lengthAdjust="spacingAndGlyphs" transform="rotate(-90 206.90 197.60)">DP cell number</text>
<text x="219.80" y="197.30" font-size="9.7" text-anchor="middle" fill="#111" textLength="31.20" lengthAdjust="spacingAndGlyphs" transform="rotate(-90 219.80 197.30)">(LOG 2)</text>
<text x="260.00" y="245.20" font-size="8.5" text-anchor="end" fill="#111" textLength="22.41" lengthAdjust="spacingAndGlyphs" transform="rotate(-45 260.00 245.20)">Vector</text>
<text x="279.90" y="245.20" font-size="8.5" text-anchor="end" fill="#111" textLength="22.41" lengthAdjust="spacingAndGlyphs" transform="rotate(-45 279.90 245.20)">Vector</text>
<text x="299.90" y="245.20" font-size="8.5" text-anchor="end" fill="#111" textLength="22.84" lengthAdjust="spacingAndGlyphs" transform="rotate(-45 299.90 245.20)">ZMIZ1</text>
<text x="319.80" y="245.20" font-size="8.5" text-anchor="end" fill="#111" textLength="21.09" lengthAdjust="spacingAndGlyphs" transform="rotate(-45 319.80 245.20)">ΔTPR</text>
<text x="340.00" y="245.20" font-size="8.5" text-anchor="end" fill="#111" textLength="41.31" lengthAdjust="spacingAndGlyphs" transform="rotate(-45 340.00 245.20)">R14A/E34A</text>
<text x="360.10" y="245.20" font-size="8.5" text-anchor="end" fill="#111" textLength="19.77" lengthAdjust="spacingAndGlyphs" transform="rotate(-45 360.10 245.20)">R14E</text>
<line x1="235.40" y1="277.70" x2="259.00" y2="277.70" stroke="#111" stroke-width="1.1"/>
<line x1="265.20" y1="277.70" x2="359.00" y2="277.70" stroke="#111" stroke-width="1.1"/>
<text x="247.00" y="290.20" font-size="8.6" text-anchor="middle" fill="#111" textLength="24.52" lengthAdjust="spacingAndGlyphs">LckCre</text>
<text x="312.30" y="290.20" font-size="8.6" text-anchor="middle" fill="#111" textLength="29.69" lengthAdjust="spacingAndGlyphs">ΔLckCre</text>
<text x="65.60" y="324.30" font-size="8.6" text-anchor="middle" fill="#111" textLength="23.66" lengthAdjust="spacingAndGlyphs">DsRed</text>
<text x="145.50" y="324.30" font-size="8.6" text-anchor="middle" fill="#111" textLength="41.72" lengthAdjust="spacingAndGlyphs">TPR-DsRed</text>
<text x="224.6" y="324.3" font-size="8.6" text-anchor="middle" fill="#111" textLength="52.5" lengthAdjust="spacingAndGlyphs">TPR<tspan font-size="5.8" dy="-3.4">R14E</tspan><tspan dy="3.4">-DsRed</tspan></text>
<!--D0-->
<clipPath id="cD0"><rect x="31.80" y="329.60" width="69.80" height="69.80"/></clipPath>
<g clip-path="url(#cD0)">
<path d="M42.4,391.8h0.6M82.7,369.3h0.6M65.5,376.7h0.6M75.5,389.6h0.6M39.8,360.7h0.6M87.3,376.0h0.6M82.6,359.7h0.6M62.3,387.0h0.6M48.4,395.5h0.6M91.5,360.8h0.6M35.4,380.2h0.6M93.9,374.1h0.6M47.7,375.6h0.6M35.7,368.0h0.6M61.8,378.4h0.6M48.7,368.4h0.6M47.8,377.1h0.6M52.3,360.4h0.6M87.4,380.7h0.6M74.9,366.7h0.6M97.3,392.3h0.6M41.5,372.2h0.6M80.0,386.6h0.6M93.7,375.6h0.6M86.9,385.1h0.6M53.2,381.9h0.6M90.3,391.8h0.6M66.1,382.0h0.6M36.0,368.8h0.6M84.8,375.3h0.6M44.9,380.5h0.6M78.8,385.2h0.6M57.8,376.3h0.6M66.3,389.2h0.6M67.1,374.5h0.6M65.1,360.7h0.6M36.6,386.3h0.6M96.7,382.1h0.6M59.0,366.1h0.6M65.9,396.9h0.6M83.1,380.1h0.6M88.9,368.4h0.6M66.7,395.8h0.6M70.8,377.0h0.6M51.0,380.4h0.6M95.1,359.8h0.6M84.0,390.8h0.6M90.5,387.7h0.6M85.6,379.3h0.6M69.7,375.8h0.6M37.4,392.7h0.6M70.3,367.2h0.6M66.1,378.0h0.6M56.6,372.8h0.6M68.3,383.3h0.6M73.0,377.0h0.6M35.6,368.3h0.6M45.1,381.8h0.6M88.9,389.9h0.6M84.8,390.6h0.6M50.1,391.6h0.6M76.9,362.8h0.6M34.9,360.2h0.6M82.2,369.1h0.6M40.8,383.3h0.6M55.8,362.2h0.6M44.0,379.6h0.6M44.6,370.0h0.6M79.3,376.9h0.6M54.4,377.6h0.6" stroke="#444" stroke-width="0.6" fill="none"/>
<path d="M48.80,341.60 C50.13,339.85 50.97,339.63 54.80,339.10 C58.63,338.57 66.47,338.45 71.80,338.40 C77.13,338.35 83.80,338.10 86.80,338.80 C89.80,339.50 89.38,340.63 89.80,342.60 C90.22,344.57 89.63,348.10 89.30,350.60 C88.97,353.10 88.38,355.27 87.80,357.60 C87.22,359.93 86.80,362.27 85.80,364.60 C84.80,366.93 83.47,369.43 81.80,371.60 C80.13,373.77 78.13,376.35 75.80,377.60 C73.47,378.85 70.47,379.18 67.80,379.10 C65.13,379.02 62.47,377.60 59.80,377.10 C57.13,376.60 54.47,376.10 51.80,376.10 C49.13,376.10 46.30,376.77 43.80,377.10 C41.30,377.43 38.47,378.35 36.80,378.10 C35.13,377.85 34.13,377.02 33.80,375.60 C33.47,374.18 34.30,371.60 34.80,369.60 C35.30,367.60 35.97,365.10 36.80,363.60 C37.63,362.10 38.63,361.60 39.80,360.60 C40.97,359.60 42.63,359.43 43.80,357.60 C44.97,355.77 45.97,352.27 46.80,349.60 C47.63,346.93 47.47,343.35 48.80,341.60 Z" fill="#f2f2f2" stroke="#969696" stroke-width="0.6"/>
<path d="M51.00,341.69 C52.22,340.09 52.98,339.89 56.47,339.41 C59.97,338.92 67.11,338.82 71.98,338.77 C76.84,338.72 82.92,338.50 85.66,339.13 C88.39,339.77 88.01,340.81 88.39,342.60 C88.77,344.39 88.24,347.62 87.94,349.90 C87.63,352.18 87.10,354.15 86.57,356.28 C86.04,358.41 85.66,360.54 84.74,362.66 C83.83,364.79 82.62,367.07 81.10,369.05 C79.58,371.02 77.75,373.38 75.62,374.52 C73.50,375.66 70.76,375.96 68.33,375.89 C65.90,375.81 63.46,374.52 61.03,374.06 C58.60,373.61 56.17,373.15 53.74,373.15 C51.30,373.15 48.72,373.76 46.44,374.06 C44.16,374.37 41.58,375.20 40.06,374.98 C38.54,374.75 37.62,373.99 37.32,372.70 C37.02,371.40 37.78,369.05 38.23,367.22 C38.69,365.40 39.30,363.12 40.06,361.75 C40.82,360.38 41.73,359.93 42.79,359.02 C43.86,358.10 45.38,357.95 46.44,356.28 C47.50,354.61 48.42,351.42 49.18,348.98 C49.94,346.55 49.78,343.28 51.00,341.69 Z" fill="none" stroke="#898989" stroke-width="0.65"/>
<path d="M53.20,341.78 C54.30,340.33 54.99,340.16 58.14,339.72 C61.30,339.28 67.76,339.18 72.15,339.14 C76.55,339.10 82.04,338.89 84.51,339.47 C86.98,340.05 86.64,340.98 86.98,342.60 C87.33,344.22 86.85,347.13 86.57,349.19 C86.30,351.25 85.82,353.04 85.34,354.96 C84.86,356.88 84.51,358.81 83.69,360.73 C82.86,362.65 81.77,364.71 80.39,366.50 C79.02,368.28 77.37,370.41 75.45,371.44 C73.53,372.47 71.05,372.74 68.86,372.68 C66.66,372.61 64.46,371.44 62.26,371.03 C60.07,370.62 57.87,370.20 55.67,370.20 C53.47,370.20 51.14,370.75 49.08,371.03 C47.02,371.30 44.69,372.06 43.31,371.85 C41.94,371.65 41.11,370.96 40.84,369.79 C40.57,368.62 41.25,366.50 41.66,364.85 C42.08,363.20 42.63,361.14 43.31,359.90 C44.00,358.67 44.82,358.26 45.78,357.43 C46.75,356.61 48.12,356.47 49.08,354.96 C50.04,353.45 50.87,350.57 51.55,348.37 C52.24,346.17 52.10,343.22 53.20,341.78 Z" fill="none" stroke="#7c7c7c" stroke-width="0.7"/>
<path d="M55.40,341.86 C56.38,340.58 56.99,340.42 59.82,340.02 C62.64,339.63 68.40,339.55 72.33,339.51 C76.25,339.47 81.16,339.29 83.37,339.80 C85.58,340.32 85.27,341.15 85.58,342.60 C85.88,344.05 85.45,346.65 85.21,348.49 C84.96,350.33 84.53,351.92 84.10,353.64 C83.67,355.36 83.37,357.07 82.63,358.79 C81.90,360.51 80.91,362.35 79.69,363.94 C78.46,365.54 76.99,367.44 75.27,368.36 C73.55,369.28 71.35,369.53 69.38,369.46 C67.42,369.40 65.46,368.36 63.50,367.99 C61.53,367.62 59.57,367.26 57.61,367.26 C55.65,367.26 53.56,367.75 51.72,367.99 C49.88,368.24 47.79,368.91 46.57,368.73 C45.34,368.54 44.61,367.93 44.36,366.89 C44.11,365.85 44.73,363.94 45.10,362.47 C45.46,361.00 45.95,359.16 46.57,358.06 C47.18,356.95 47.92,356.58 48.78,355.85 C49.63,355.11 50.86,354.99 51.72,353.64 C52.58,352.29 53.31,349.71 53.93,347.75 C54.54,345.79 54.42,343.15 55.40,341.86 Z" fill="none" stroke="#6f6f6f" stroke-width="0.75"/>
<path d="M57.60,341.95 C58.46,340.82 59.00,340.68 61.49,340.33 C63.97,339.99 69.05,339.91 72.50,339.88 C75.96,339.85 80.28,339.68 82.22,340.14 C84.17,340.59 83.90,341.33 84.17,342.60 C84.44,343.87 84.06,346.16 83.84,347.78 C83.63,349.40 83.25,350.81 82.87,352.32 C82.49,353.83 82.22,355.34 81.58,356.86 C80.93,358.37 80.06,359.99 78.98,361.39 C77.90,362.80 76.61,364.47 75.10,365.28 C73.58,366.09 71.64,366.31 69.91,366.25 C68.18,366.20 66.46,365.28 64.73,364.96 C63.00,364.63 61.27,364.31 59.54,364.31 C57.82,364.31 55.98,364.74 54.36,364.96 C52.74,365.17 50.90,365.77 49.82,365.60 C48.74,365.44 48.10,364.90 47.88,363.98 C47.66,363.07 48.20,361.39 48.53,360.10 C48.85,358.80 49.28,357.18 49.82,356.21 C50.36,355.24 51.01,354.91 51.77,354.26 C52.52,353.62 53.60,353.51 54.36,352.32 C55.12,351.13 55.76,348.86 56.30,347.14 C56.84,345.41 56.74,343.09 57.60,341.95 Z" fill="none" stroke="#626262" stroke-width="0.8"/>
<path d="M59.80,342.04 C60.55,341.06 61.01,340.94 63.16,340.64 C65.31,340.34 69.69,340.28 72.68,340.25 C75.67,340.22 79.40,340.08 81.08,340.47 C82.76,340.86 82.53,341.50 82.76,342.60 C82.99,343.70 82.67,345.68 82.48,347.08 C82.29,348.48 81.97,349.69 81.64,351.00 C81.31,352.31 81.08,353.61 80.52,354.92 C79.96,356.23 79.21,357.63 78.28,358.84 C77.35,360.05 76.23,361.50 74.92,362.20 C73.61,362.90 71.93,363.09 70.44,363.04 C68.95,362.99 67.45,362.20 65.96,361.92 C64.47,361.64 62.97,361.36 61.48,361.36 C59.99,361.36 58.40,361.73 57.00,361.92 C55.60,362.11 54.01,362.62 53.08,362.48 C52.15,362.34 51.59,361.87 51.40,361.08 C51.21,360.29 51.68,358.84 51.96,357.72 C52.24,356.60 52.61,355.20 53.08,354.36 C53.55,353.52 54.11,353.24 54.76,352.68 C55.41,352.12 56.35,352.03 57.00,351.00 C57.65,349.97 58.21,348.01 58.68,346.52 C59.15,345.03 59.05,343.02 59.80,342.04 Z" fill="none" stroke="#555555" stroke-width="0.85"/>
<path d="M62.00,342.13 C62.63,341.30 63.02,341.20 64.83,340.95 C66.64,340.70 70.34,340.64 72.86,340.62 C75.37,340.59 78.52,340.48 79.94,340.81 C81.35,341.14 81.16,341.67 81.35,342.60 C81.55,343.53 81.27,345.20 81.12,346.38 C80.96,347.56 80.68,348.58 80.41,349.68 C80.13,350.78 79.94,351.88 79.46,352.98 C78.99,354.09 78.36,355.27 77.58,356.29 C76.79,357.31 75.85,358.53 74.74,359.12 C73.64,359.71 72.23,359.87 70.97,359.83 C69.71,359.79 68.45,359.12 67.19,358.88 C65.93,358.65 64.67,358.41 63.42,358.41 C62.16,358.41 60.82,358.73 59.64,358.88 C58.46,359.04 57.12,359.47 56.34,359.36 C55.55,359.24 55.08,358.84 54.92,358.18 C54.76,357.51 55.16,356.29 55.39,355.34 C55.63,354.40 55.94,353.22 56.34,352.51 C56.73,351.80 57.20,351.57 57.75,351.10 C58.30,350.62 59.09,350.55 59.64,349.68 C60.19,348.81 60.66,347.16 61.06,345.90 C61.45,344.65 61.37,342.95 62.00,342.13 Z" fill="none" stroke="#484848" stroke-width="0.9"/>
<path d="M64.20,342.22 C64.71,341.54 65.03,341.46 66.50,341.26 C67.98,341.05 70.98,341.01 73.03,340.99 C75.08,340.97 77.64,340.87 78.79,341.14 C79.94,341.41 79.78,341.84 79.94,342.60 C80.10,343.36 79.88,344.71 79.75,345.67 C79.62,346.63 79.40,347.46 79.18,348.36 C78.95,349.26 78.79,350.15 78.41,351.05 C78.02,351.94 77.51,352.90 76.87,353.74 C76.23,354.57 75.46,355.56 74.57,356.04 C73.67,356.52 72.52,356.65 71.50,356.62 C70.47,356.58 69.45,356.04 68.42,355.85 C67.40,355.66 66.38,355.46 65.35,355.46 C64.33,355.46 63.24,355.72 62.28,355.85 C61.32,355.98 60.23,356.33 59.59,356.23 C58.95,356.14 58.57,355.82 58.44,355.27 C58.31,354.73 58.63,353.74 58.82,352.97 C59.02,352.20 59.27,351.24 59.59,350.66 C59.91,350.09 60.30,349.90 60.74,349.51 C61.19,349.13 61.83,349.06 62.28,348.36 C62.73,347.66 63.11,346.31 63.43,345.29 C63.75,344.26 63.69,342.89 64.20,342.22 Z" fill="none" stroke="#3b3b3b" stroke-width="0.95"/>
<path d="M66.40,342.30 C66.79,341.79 67.04,341.72 68.18,341.56 C69.31,341.41 71.63,341.37 73.21,341.36 C74.79,341.34 76.76,341.27 77.65,341.48 C78.54,341.68 78.41,342.02 78.54,342.60 C78.66,343.18 78.49,344.23 78.39,344.97 C78.29,345.71 78.12,346.35 77.94,347.04 C77.77,347.73 77.65,348.42 77.35,349.11 C77.06,349.80 76.66,350.54 76.17,351.18 C75.67,351.83 75.08,352.59 74.39,352.96 C73.70,353.33 72.81,353.43 72.02,353.40 C71.23,353.38 70.45,352.96 69.66,352.81 C68.87,352.66 68.08,352.52 67.29,352.52 C66.50,352.52 65.66,352.71 64.92,352.81 C64.18,352.91 63.34,353.18 62.85,353.11 C62.35,353.03 62.06,352.79 61.96,352.37 C61.86,351.95 62.11,351.18 62.26,350.59 C62.40,350.00 62.60,349.26 62.85,348.82 C63.09,348.37 63.39,348.22 63.74,347.93 C64.08,347.63 64.57,347.58 64.92,347.04 C65.27,346.50 65.56,345.46 65.81,344.67 C66.05,343.88 66.01,342.82 66.40,342.30 Z" fill="none" stroke="#2e2e2e" stroke-width="1.0"/>
<path d="M68.60,342.39 C68.88,342.03 69.05,341.98 69.85,341.87 C70.65,341.76 72.27,341.74 73.38,341.73 C74.49,341.72 75.88,341.66 76.50,341.81 C77.13,341.96 77.04,342.19 77.13,342.60 C77.21,343.01 77.09,343.74 77.02,344.26 C76.95,344.78 76.83,345.23 76.71,345.72 C76.59,346.21 76.50,346.69 76.30,347.18 C76.09,347.66 75.81,348.18 75.46,348.63 C75.12,349.08 74.70,349.62 74.22,349.88 C73.73,350.14 73.11,350.21 72.55,350.19 C72.00,350.17 71.44,349.88 70.89,349.78 C70.33,349.67 69.78,349.57 69.22,349.57 C68.67,349.57 68.08,349.71 67.56,349.78 C67.04,349.85 66.45,350.04 66.10,349.98 C65.76,349.93 65.55,349.76 65.48,349.46 C65.41,349.17 65.58,348.63 65.69,348.22 C65.79,347.80 65.93,347.28 66.10,346.97 C66.28,346.66 66.49,346.55 66.73,346.34 C66.97,346.14 67.32,346.10 67.56,345.72 C67.80,345.34 68.01,344.61 68.18,344.06 C68.36,343.50 68.32,342.76 68.60,342.39 Z" fill="none" stroke="#212121" stroke-width="1.05"/>
<path d="M70.80,342.48 C70.96,342.27 71.06,342.24 71.52,342.18 C71.98,342.12 72.92,342.10 73.56,342.10 C74.20,342.09 75.00,342.06 75.36,342.14 C75.72,342.23 75.67,342.36 75.72,342.60 C75.77,342.84 75.70,343.26 75.66,343.56 C75.62,343.86 75.55,344.12 75.48,344.40 C75.41,344.68 75.36,344.96 75.24,345.24 C75.12,345.52 74.96,345.82 74.76,346.08 C74.56,346.34 74.32,346.65 74.04,346.80 C73.76,346.95 73.40,346.99 73.08,346.98 C72.76,346.97 72.44,346.80 72.12,346.74 C71.80,346.68 71.48,346.62 71.16,346.62 C70.84,346.62 70.50,346.70 70.20,346.74 C69.90,346.78 69.56,346.89 69.36,346.86 C69.16,346.83 69.04,346.73 69.00,346.56 C68.96,346.39 69.06,346.08 69.12,345.84 C69.18,345.60 69.26,345.30 69.36,345.12 C69.46,344.94 69.58,344.88 69.72,344.76 C69.86,344.64 70.06,344.62 70.20,344.40 C70.34,344.18 70.46,343.76 70.56,343.44 C70.66,343.12 70.64,342.69 70.80,342.48 Z" fill="none" stroke="#141414" stroke-width="1.1"/>
<path d="M54.8,347.6 C54.8,341.6 56.8,339.6 61.8,339.20000000000005 L84.8,339.0 C88.8,339.20000000000005 89.8,341.6 89.3,346.6 L87.8,351.6" stroke="#111" stroke-width="1.8" fill="none"/>
<path d="M55.8,347.6 C55.8,342.90000000000003 57.8,340.90000000000003 61.8,340.50000000000006 L83.8,340.3 C87.8,340.50000000000006 88.8,342.90000000000003 88.3,346.6 L86.8,351.6" stroke="#222" stroke-width="1.1" fill="none"/>
<path d="M56.8,347.6 C56.8,344.1 58.8,342.1 61.8,341.70000000000005 L82.8,341.5 C86.8,341.70000000000005 87.8,344.1 87.3,346.6 L85.8,351.6" stroke="#333" stroke-width="0.9" fill="none"/>
<path d="M57.8,347.6 C58.8,354.6 61.8,362.6 65.8,369.6" stroke="#444" stroke-width="1" fill="none"/>
<path d="M61.8,347.6 C63.8,354.6 66.8,360.6 69.8,365.6" stroke="#444" stroke-width="1" fill="none"/>
<path d="M55.80,339.60 C57.80,338.60 63.30,338.77 66.80,338.60 C70.30,338.43 73.47,338.52 76.80,338.60 C80.13,338.68 84.63,338.60 86.80,339.10 C88.97,339.60 89.38,340.02 89.80,341.60 C90.22,343.18 89.80,346.93 89.30,348.60 C88.80,350.27 88.38,351.27 86.80,351.60 C85.22,351.93 82.30,350.93 79.80,350.60 C77.30,350.27 74.47,349.77 71.80,349.60 C69.13,349.43 66.13,349.77 63.80,349.60 C61.47,349.43 59.30,349.43 57.80,348.60 C56.30,347.77 55.13,346.10 54.80,344.60 C54.47,343.10 53.80,340.60 55.80,339.60 Z" fill="#555" opacity="0.45"/>
<ellipse cx="78.80" cy="345.10" rx="2.6" ry="1.8" fill="#f4f4f4"/>
<rect x="31.8" y="353.6" width="2.0" height="20" fill="#777" filter="url(#bl1)"/>
</g>
<path d="M28.6,394.0H31.8M37.2,399.4V402.6M29.8,395.5H31.8M35.7,399.4V401.4M29.8,396.4H31.8M34.8,399.4V401.4M29.8,397.1H31.8M34.1,399.4V401.4M28.6,394.0H31.8M37.2,399.4V402.6M29.8,389.6H31.8M41.6,399.4V401.4M29.8,387.1H31.8M44.1,399.4V401.4M29.8,385.3H31.8M45.9,399.4V401.4M29.8,383.9H31.8M47.3,399.4V401.4M29.8,382.7H31.8M48.5,399.4V401.4M29.8,381.7H31.8M49.5,399.4V401.4M29.8,380.9H31.8M50.3,399.4V401.4M29.8,380.2H31.8M51.0,399.4V401.4M28.6,379.5H31.8M51.7,399.4V402.6M29.8,375.1H31.8M56.1,399.4V401.4M29.8,372.6H31.8M58.6,399.4V401.4M29.8,370.8H31.8M60.4,399.4V401.4M29.8,369.4H31.8M61.8,399.4V401.4M29.8,368.2H31.8M63.0,399.4V401.4M29.8,367.2H31.8M64.0,399.4V401.4M29.8,366.4H31.8M64.8,399.4V401.4M29.8,365.7H31.8M65.5,399.4V401.4M28.6,365.0H31.8M66.2,399.4V402.6M29.8,360.6H31.8M70.6,399.4V401.4M29.8,358.1H31.8M73.1,399.4V401.4M29.8,356.3H31.8M74.9,399.4V401.4M29.8,354.9H31.8M76.3,399.4V401.4M29.8,353.7H31.8M77.5,399.4V401.4M29.8,352.7H31.8M78.5,399.4V401.4M29.8,351.9H31.8M79.3,399.4V401.4M29.8,351.2H31.8M80.0,399.4V401.4M28.6,350.5H31.8M80.7,399.4V402.6M29.8,346.1H31.8M85.1,399.4V401.4M29.8,343.6H31.8M87.6,399.4V401.4M29.8,341.8H31.8M89.4,399.4V401.4M29.8,340.4H31.8M90.8,399.4V401.4M29.8,339.2H31.8M92.0,399.4V401.4M29.8,338.2H31.8M93.0,399.4V401.4M29.8,337.4H31.8M93.8,399.4V401.4M29.8,336.7H31.8M94.5,399.4V401.4M28.6,336.0H31.8M95.2,399.4V402.6M29.8,331.6H31.8M99.6,399.4V401.4" stroke="#111" stroke-width="0.9" fill="none"/>
<path d="M34.8,402.4L36.3,399.4L37.8,402.4L39.3,399.4M28.8,396.4L31.8,394.9L28.8,393.4" stroke="#222" stroke-width="1" fill="none"/>
<line x1="72.50" y1="329.60" x2="72.50" y2="399.40" stroke="#5a5a5a" stroke-width="0.85"/>
<line x1="31.80" y1="356.50" x2="101.60" y2="356.50" stroke="#5a5a5a" stroke-width="0.85"/>
<rect x="31.80" y="329.60" width="69.80" height="69.80" fill="none" stroke="#111" stroke-width="1.0"/>
<text x="34.10" y="337.40" font-size="7.5" text-anchor="start" fill="#111">29.6</text>
<text x="98.40" y="337.40" font-size="7.5" text-anchor="end" fill="#111">32.2</text>
<text x="34.10" y="397.40" font-size="7.5" text-anchor="start" fill="#111">29.4</text>
<text x="98.40" y="397.40" font-size="7.5" text-anchor="end" fill="#111">8.8</text>
<!--D1-->
<clipPath id="cD1"><rect x="111.70" y="329.60" width="69.80" height="69.80"/></clipPath>
<g clip-path="url(#cD1)">
<path d="M112.70,362.60 C113.20,361.10 115.20,362.10 116.70,362.60 C118.20,363.10 120.03,364.60 121.70,365.60 C123.37,366.60 125.53,367.60 126.70,368.60 C127.87,369.60 128.87,370.43 128.70,371.60 C128.53,372.77 127.03,375.10 125.70,375.60 C124.37,376.10 122.20,374.93 120.70,374.60 C119.20,374.27 117.87,374.10 116.70,373.60 C115.53,373.10 114.37,373.43 113.70,371.60 C113.03,369.77 112.20,364.10 112.70,362.60 Z" fill="#999" stroke="#333" stroke-width="1.3"/>
<path d="M114.80,364.70 C115.15,363.65 116.55,364.35 117.60,364.70 C118.65,365.05 119.93,366.10 121.10,366.80 C122.27,367.50 123.78,368.20 124.60,368.90 C125.42,369.60 126.12,370.18 126.00,371.00 C125.88,371.82 124.83,373.45 123.90,373.80 C122.97,374.15 121.45,373.33 120.40,373.10 C119.35,372.87 118.42,372.75 117.60,372.40 C116.78,372.05 115.97,372.28 115.50,371.00 C115.03,369.72 114.45,365.75 114.80,364.70 Z" fill="#aaa" stroke="#555" stroke-width="0.8"/>
<path d="M116.90,366.80 C117.10,366.20 117.90,366.60 118.50,366.80 C119.10,367.00 119.83,367.60 120.50,368.00 C121.17,368.40 122.03,368.80 122.50,369.20 C122.97,369.60 123.37,369.93 123.30,370.40 C123.23,370.87 122.63,371.80 122.10,372.00 C121.57,372.20 120.70,371.73 120.10,371.60 C119.50,371.47 118.97,371.40 118.50,371.20 C118.03,371.00 117.57,371.13 117.30,370.40 C117.03,369.67 116.70,367.40 116.90,366.80 Z" fill="#ccc" stroke="#777" stroke-width="0.6"/>
<ellipse cx="112.20" cy="358.10" rx="3" ry="2.6" fill="#888" stroke="#111" stroke-width="1.8"/>
<ellipse cx="112.20" cy="375.10" rx="3.5" ry="6" fill="#999" stroke="#111" stroke-width="1.8"/>
<ellipse cx="112.20" cy="388.60" rx="2.4" ry="2.4" fill="#888" stroke="#222" stroke-width="1.5"/>
</g>
<path d="M108.5,394.0H111.7M117.1,399.4V402.6M109.7,395.5H111.7M115.6,399.4V401.4M109.7,396.4H111.7M114.7,399.4V401.4M109.7,397.1H111.7M114.0,399.4V401.4M108.5,394.0H111.7M117.1,399.4V402.6M109.7,389.6H111.7M121.5,399.4V401.4M109.7,387.1H111.7M124.0,399.4V401.4M109.7,385.3H111.7M125.8,399.4V401.4M109.7,383.9H111.7M127.2,399.4V401.4M109.7,382.7H111.7M128.4,399.4V401.4M109.7,381.7H111.7M129.4,399.4V401.4M109.7,380.9H111.7M130.2,399.4V401.4M109.7,380.2H111.7M130.9,399.4V401.4M108.5,379.5H111.7M131.6,399.4V402.6M109.7,375.1H111.7M136.0,399.4V401.4M109.7,372.6H111.7M138.5,399.4V401.4M109.7,370.8H111.7M140.3,399.4V401.4M109.7,369.4H111.7M141.7,399.4V401.4M109.7,368.2H111.7M142.9,399.4V401.4M109.7,367.2H111.7M143.9,399.4V401.4M109.7,366.4H111.7M144.7,399.4V401.4M109.7,365.7H111.7M145.4,399.4V401.4M108.5,365.0H111.7M146.1,399.4V402.6M109.7,360.6H111.7M150.5,399.4V401.4M109.7,358.1H111.7M153.0,399.4V401.4M109.7,356.3H111.7M154.8,399.4V401.4M109.7,354.9H111.7M156.2,399.4V401.4M109.7,353.7H111.7M157.4,399.4V401.4M109.7,352.7H111.7M158.4,399.4V401.4M109.7,351.9H111.7M159.2,399.4V401.4M109.7,351.2H111.7M159.9,399.4V401.4M108.5,350.5H111.7M160.6,399.4V402.6M109.7,346.1H111.7M165.0,399.4V401.4M109.7,343.6H111.7M167.5,399.4V401.4M109.7,341.8H111.7M169.3,399.4V401.4M109.7,340.4H111.7M170.7,399.4V401.4M109.7,339.2H111.7M171.9,399.4V401.4M109.7,338.2H111.7M172.9,399.4V401.4M109.7,337.4H111.7M173.7,399.4V401.4M109.7,336.7H111.7M174.4,399.4V401.4M108.5,336.0H111.7M175.1,399.4V402.6M109.7,331.6H111.7M179.5,399.4V401.4" stroke="#111" stroke-width="0.9" fill="none"/>
<path d="M114.7,402.4L116.2,399.4L117.7,402.4L119.2,399.4M108.7,396.4L111.7,394.9L108.7,393.4" stroke="#222" stroke-width="1" fill="none"/>
<line x1="152.40" y1="329.60" x2="152.40" y2="399.40" stroke="#5a5a5a" stroke-width="0.85"/>
<line x1="111.70" y1="356.50" x2="181.50" y2="356.50" stroke="#5a5a5a" stroke-width="0.85"/>
<rect x="111.70" y="329.60" width="69.80" height="69.80" fill="none" stroke="#111" stroke-width="1.0"/>
<text x="114.00" y="337.40" font-size="7.5" text-anchor="start" fill="#111">0.0</text>
<text x="178.30" y="337.40" font-size="7.5" text-anchor="end" fill="#111">0.0</text>
<text x="114.00" y="397.40" font-size="7.5" text-anchor="start" fill="#111">100.0</text>
<text x="178.30" y="397.40" font-size="7.5" text-anchor="end" fill="#111">0.0</text>
<!--D2-->
<clipPath id="cD2"><rect x="191.60" y="329.60" width="69.80" height="69.80"/></clipPath>
<g clip-path="url(#cD2)">
<path d="M254.8,395.6h0.6M197.2,362.8h0.6M247.1,387.6h0.6M236.5,371.3h0.6M232.4,382.7h0.6M230.8,365.6h0.6M221.2,374.6h0.6M239.9,397.4h0.6M254.4,380.3h0.6M222.1,369.8h0.6M195.9,360.6h0.6M223.4,371.7h0.6M217.9,393.5h0.6M227.2,380.9h0.6M208.7,360.5h0.6M214.4,364.8h0.6M226.3,397.5h0.6M236.8,366.5h0.6M250.8,389.9h0.6M240.6,394.1h0.6M242.4,389.6h0.6M216.2,396.9h0.6M255.2,365.7h0.6M241.9,386.8h0.6M223.1,379.8h0.6M225.0,394.7h0.6M225.7,391.2h0.6M216.3,393.1h0.6M251.2,377.1h0.6M229.9,394.6h0.6M239.9,378.1h0.6M207.8,371.9h0.6M238.4,365.9h0.6M251.7,369.8h0.6M251.9,371.4h0.6M254.9,386.4h0.6M225.9,379.3h0.6M235.3,381.9h0.6M213.6,367.5h0.6M226.4,395.1h0.6M233.5,362.5h0.6M246.1,387.2h0.6M251.7,366.9h0.6M241.3,361.8h0.6M235.4,370.0h0.6M208.1,392.9h0.6M200.4,379.4h0.6M248.3,368.9h0.6M207.1,393.1h0.6M220.7,386.8h0.6M195.6,373.4h0.6M204.6,385.2h0.6M198.9,395.9h0.6M195.2,387.3h0.6M195.0,369.3h0.6" stroke="#444" stroke-width="0.6" fill="none"/>
<path d="M194.60,347.60 C195.27,345.27 197.77,344.60 199.60,343.60 C201.43,342.60 203.60,342.10 205.60,341.60 C207.60,341.10 209.27,341.02 211.60,340.60 C213.93,340.18 215.43,339.35 219.60,339.10 C223.77,338.85 232.10,339.02 236.60,339.10 C241.10,339.18 244.60,338.68 246.60,339.60 C248.60,340.52 248.43,342.10 248.60,344.60 C248.77,347.10 247.93,351.77 247.60,354.60 C247.27,357.43 247.27,359.43 246.60,361.60 C245.93,363.77 244.93,365.60 243.60,367.60 C242.27,369.60 240.60,372.10 238.60,373.60 C236.60,375.10 234.10,376.10 231.60,376.60 C229.10,377.10 226.10,376.93 223.60,376.60 C221.10,376.27 219.43,375.77 216.60,374.60 C213.77,373.43 209.60,371.10 206.60,369.60 C203.60,368.10 200.43,367.60 198.60,365.60 C196.77,363.60 196.27,360.60 195.60,357.60 C194.93,354.60 193.93,349.93 194.60,347.60 Z" fill="#f2f2f2" stroke="#969696" stroke-width="0.6"/>
<path d="M198.03,347.16 C198.64,345.03 200.92,344.42 202.59,343.51 C204.26,342.60 206.24,342.14 208.06,341.69 C209.89,341.23 211.41,341.16 213.54,340.78 C215.66,340.40 217.03,339.64 220.83,339.41 C224.63,339.18 232.23,339.33 236.34,339.41 C240.44,339.48 243.63,339.03 245.46,339.86 C247.28,340.70 247.13,342.14 247.28,344.42 C247.43,346.70 246.67,350.96 246.37,353.54 C246.06,356.13 246.06,357.95 245.46,359.93 C244.85,361.90 243.94,363.58 242.72,365.40 C241.50,367.22 239.98,369.50 238.16,370.87 C236.34,372.24 234.06,373.15 231.78,373.61 C229.50,374.06 226.76,373.91 224.48,373.61 C222.20,373.30 220.68,372.85 218.10,371.78 C215.51,370.72 211.71,368.59 208.98,367.22 C206.24,365.86 203.35,365.40 201.68,363.58 C200.01,361.75 199.55,359.02 198.94,356.28 C198.34,353.54 197.42,349.29 198.03,347.16 Z" fill="none" stroke="#898989" stroke-width="0.65"/>
<path d="M201.46,346.72 C202.01,344.80 204.07,344.25 205.58,343.42 C207.09,342.60 208.88,342.19 210.53,341.78 C212.18,341.36 213.55,341.30 215.47,340.95 C217.39,340.61 218.63,339.92 222.06,339.72 C225.50,339.51 232.36,339.65 236.07,339.72 C239.78,339.78 242.66,339.37 244.31,340.13 C245.96,340.88 245.82,342.19 245.96,344.25 C246.10,346.31 245.41,350.15 245.14,352.49 C244.86,354.82 244.86,356.47 244.31,358.26 C243.76,360.04 242.94,361.55 241.84,363.20 C240.74,364.85 239.37,366.91 237.72,368.14 C236.07,369.38 234.01,370.20 231.95,370.62 C229.89,371.03 227.42,370.89 225.36,370.62 C223.30,370.34 221.93,369.93 219.59,368.97 C217.26,368.01 213.82,366.08 211.35,364.85 C208.88,363.61 206.27,363.20 204.76,361.55 C203.25,359.90 202.84,357.43 202.29,354.96 C201.74,352.49 200.91,348.64 201.46,346.72 Z" fill="none" stroke="#7c7c7c" stroke-width="0.7"/>
<path d="M204.90,346.28 C205.39,344.56 207.23,344.07 208.58,343.34 C209.93,342.60 211.52,342.23 212.99,341.86 C214.46,341.50 215.69,341.43 217.41,341.13 C219.13,340.82 220.23,340.21 223.30,340.02 C226.36,339.84 232.50,339.96 235.81,340.02 C239.12,340.09 241.70,339.72 243.17,340.39 C244.64,341.07 244.52,342.23 244.64,344.07 C244.76,345.91 244.15,349.35 243.90,351.43 C243.66,353.52 243.66,354.99 243.17,356.58 C242.68,358.18 241.94,359.53 240.96,361.00 C239.98,362.47 238.75,364.31 237.28,365.42 C235.81,366.52 233.97,367.26 232.13,367.62 C230.29,367.99 228.08,367.87 226.24,367.62 C224.40,367.38 223.17,367.01 221.09,366.15 C219.00,365.29 215.94,363.58 213.73,362.47 C211.52,361.37 209.19,361.00 207.84,359.53 C206.49,358.06 206.12,355.85 205.63,353.64 C205.14,351.43 204.41,348.00 204.90,346.28 Z" fill="none" stroke="#6f6f6f" stroke-width="0.75"/>
<path d="M208.33,345.84 C208.76,344.33 210.38,343.90 211.57,343.25 C212.76,342.60 214.16,342.28 215.46,341.95 C216.75,341.63 217.83,341.57 219.34,341.30 C220.86,341.03 221.83,340.49 224.53,340.33 C227.23,340.17 232.63,340.28 235.54,340.33 C238.46,340.39 240.73,340.06 242.02,340.66 C243.32,341.25 243.21,342.28 243.32,343.90 C243.43,345.52 242.89,348.54 242.67,350.38 C242.46,352.21 242.46,353.51 242.02,354.91 C241.59,356.32 240.94,357.50 240.08,358.80 C239.22,360.10 238.14,361.72 236.84,362.69 C235.54,363.66 233.92,364.31 232.30,364.63 C230.68,364.96 228.74,364.85 227.12,364.63 C225.50,364.42 224.42,364.09 222.58,363.34 C220.75,362.58 218.05,361.07 216.10,360.10 C214.16,359.12 212.11,358.80 210.92,357.50 C209.73,356.21 209.41,354.26 208.98,352.32 C208.54,350.38 207.90,347.35 208.33,345.84 Z" fill="none" stroke="#626262" stroke-width="0.8"/>
<path d="M211.76,345.40 C212.13,344.09 213.53,343.72 214.56,343.16 C215.59,342.60 216.80,342.32 217.92,342.04 C219.04,341.76 219.97,341.71 221.28,341.48 C222.59,341.25 223.43,340.78 225.76,340.64 C228.09,340.50 232.76,340.59 235.28,340.64 C237.80,340.69 239.76,340.41 240.88,340.92 C242.00,341.43 241.91,342.32 242.00,343.72 C242.09,345.12 241.63,347.73 241.44,349.32 C241.25,350.91 241.25,352.03 240.88,353.24 C240.51,354.45 239.95,355.48 239.20,356.60 C238.45,357.72 237.52,359.12 236.40,359.96 C235.28,360.80 233.88,361.36 232.48,361.64 C231.08,361.92 229.40,361.83 228.00,361.64 C226.60,361.45 225.67,361.17 224.08,360.52 C222.49,359.87 220.16,358.56 218.48,357.72 C216.80,356.88 215.03,356.60 214.00,355.48 C212.97,354.36 212.69,352.68 212.32,351.00 C211.95,349.32 211.39,346.71 211.76,345.40 Z" fill="none" stroke="#555555" stroke-width="0.85"/>
<path d="M215.19,344.96 C215.51,343.86 216.69,343.54 217.55,343.07 C218.42,342.60 219.44,342.36 220.38,342.13 C221.33,341.89 222.11,341.85 223.22,341.66 C224.32,341.46 225.03,341.07 226.99,340.95 C228.96,340.83 232.89,340.91 235.02,340.95 C237.14,340.99 238.79,340.75 239.74,341.18 C240.68,341.62 240.60,342.36 240.68,343.54 C240.76,344.72 240.37,346.93 240.21,348.26 C240.05,349.60 240.05,350.55 239.74,351.57 C239.42,352.59 238.95,353.46 238.32,354.40 C237.69,355.34 236.90,356.52 235.96,357.23 C235.02,357.94 233.84,358.41 232.66,358.65 C231.48,358.88 230.06,358.81 228.88,358.65 C227.70,358.49 226.91,358.25 225.58,357.70 C224.24,357.15 222.27,356.05 220.86,355.34 C219.44,354.64 217.95,354.40 217.08,353.46 C216.21,352.51 215.98,351.10 215.66,349.68 C215.35,348.26 214.88,346.06 215.19,344.96 Z" fill="none" stroke="#484848" stroke-width="0.9"/>
<path d="M218.62,344.52 C218.88,343.62 219.84,343.37 220.54,342.98 C221.25,342.60 222.08,342.41 222.85,342.22 C223.62,342.02 224.26,341.99 225.15,341.83 C226.05,341.67 226.62,341.35 228.22,341.26 C229.82,341.16 233.02,341.22 234.75,341.26 C236.48,341.29 237.82,341.10 238.59,341.45 C239.36,341.80 239.30,342.41 239.36,343.37 C239.42,344.33 239.10,346.12 238.98,347.21 C238.85,348.30 238.85,349.06 238.59,349.90 C238.34,350.73 237.95,351.43 237.44,352.20 C236.93,352.97 236.29,353.93 235.52,354.50 C234.75,355.08 233.79,355.46 232.83,355.66 C231.87,355.85 230.72,355.78 229.76,355.66 C228.80,355.53 228.16,355.34 227.07,354.89 C225.98,354.44 224.38,353.54 223.23,352.97 C222.08,352.39 220.86,352.20 220.16,351.43 C219.46,350.66 219.26,349.51 219.01,348.36 C218.75,347.21 218.37,345.42 218.62,344.52 Z" fill="none" stroke="#3b3b3b" stroke-width="0.95"/>
<path d="M222.06,344.08 C222.25,343.39 222.99,343.19 223.54,342.90 C224.08,342.60 224.72,342.45 225.31,342.30 C225.90,342.16 226.40,342.13 227.09,342.01 C227.78,341.88 228.22,341.64 229.46,341.56 C230.69,341.49 233.16,341.54 234.49,341.56 C235.82,341.59 236.86,341.44 237.45,341.71 C238.04,341.98 237.99,342.45 238.04,343.19 C238.09,343.93 237.84,345.31 237.74,346.15 C237.65,346.99 237.65,347.58 237.45,348.22 C237.25,348.87 236.95,349.41 236.56,350.00 C236.17,350.59 235.67,351.33 235.08,351.78 C234.49,352.22 233.75,352.52 233.01,352.66 C232.27,352.81 231.38,352.76 230.64,352.66 C229.90,352.57 229.41,352.42 228.57,352.07 C227.73,351.73 226.50,351.04 225.61,350.59 C224.72,350.15 223.78,350.00 223.24,349.41 C222.70,348.82 222.55,347.93 222.35,347.04 C222.15,346.15 221.86,344.77 222.06,344.08 Z" fill="none" stroke="#2e2e2e" stroke-width="1.0"/>
<path d="M225.49,343.64 C225.63,343.15 226.15,343.02 226.53,342.81 C226.91,342.60 227.36,342.50 227.78,342.39 C228.19,342.29 228.54,342.27 229.02,342.18 C229.51,342.10 229.82,341.92 230.69,341.87 C231.55,341.82 233.29,341.85 234.22,341.87 C235.16,341.89 235.89,341.79 236.30,341.98 C236.72,342.17 236.69,342.50 236.72,343.02 C236.75,343.54 236.58,344.51 236.51,345.10 C236.44,345.69 236.44,346.10 236.30,346.55 C236.17,347.00 235.96,347.38 235.68,347.80 C235.40,348.22 235.06,348.74 234.64,349.05 C234.22,349.36 233.70,349.57 233.18,349.67 C232.66,349.78 232.04,349.74 231.52,349.67 C231.00,349.60 230.65,349.50 230.06,349.26 C229.47,349.01 228.61,348.53 227.98,348.22 C227.36,347.90 226.70,347.80 226.32,347.38 C225.94,346.97 225.83,346.34 225.70,345.72 C225.56,345.10 225.35,344.13 225.49,343.64 Z" fill="none" stroke="#212121" stroke-width="1.05"/>
<path d="M228.92,343.20 C229.00,342.92 229.30,342.84 229.52,342.72 C229.74,342.60 230.00,342.54 230.24,342.48 C230.48,342.42 230.68,342.41 230.96,342.36 C231.24,342.31 231.42,342.21 231.92,342.18 C232.42,342.15 233.42,342.17 233.96,342.18 C234.50,342.19 234.92,342.13 235.16,342.24 C235.40,342.35 235.38,342.54 235.40,342.84 C235.42,343.14 235.32,343.70 235.28,344.04 C235.24,344.38 235.24,344.62 235.16,344.88 C235.08,345.14 234.96,345.36 234.80,345.60 C234.64,345.84 234.44,346.14 234.20,346.32 C233.96,346.50 233.66,346.62 233.36,346.68 C233.06,346.74 232.70,346.72 232.40,346.68 C232.10,346.64 231.90,346.58 231.56,346.44 C231.22,346.30 230.72,346.02 230.36,345.84 C230.00,345.66 229.62,345.60 229.40,345.36 C229.18,345.12 229.12,344.76 229.04,344.40 C228.96,344.04 228.84,343.48 228.92,343.20 Z" fill="none" stroke="#141414" stroke-width="1.1"/>
<path d="M214.6,348.6 C214.6,342.6 216.6,340.1 221.6,339.8 L244.6,339.6 C248.6,339.8 249.6,342.6 249.1,347.6 L247.6,355.6" stroke="#111" stroke-width="1.8" fill="none"/>
<path d="M215.6,348.6 C215.6,343.90000000000003 217.6,341.40000000000003 221.6,341.1 L243.6,340.90000000000003 C247.6,341.1 248.6,343.90000000000003 248.1,347.6 L246.6,355.6" stroke="#222" stroke-width="1.1" fill="none"/>
<path d="M216.6,348.6 C216.6,345.1 218.6,342.6 221.6,342.3 L242.6,342.1 C246.6,342.3 247.6,345.1 247.1,347.6 L245.6,355.6" stroke="#333" stroke-width="0.9" fill="none"/>
<path d="M218.6,347.6 C220.6,353.6 222.6,359.6 225.6,365.6" stroke="#444" stroke-width="1" fill="none"/>
<path d="M215.60,340.10 C217.27,339.02 222.60,339.18 226.60,339.10 C230.60,339.02 236.10,339.35 239.60,339.60 C243.10,339.85 246.02,339.43 247.60,340.60 C249.18,341.77 249.10,344.43 249.10,346.60 C249.10,348.77 248.52,351.93 247.60,353.60 C246.68,355.27 245.43,356.27 243.60,356.60 C241.77,356.93 238.93,355.60 236.60,355.60 C234.27,355.60 231.77,356.60 229.60,356.60 C227.43,356.60 225.27,356.27 223.60,355.60 C221.93,354.93 220.77,354.27 219.60,352.60 C218.43,350.93 217.27,347.68 216.60,345.60 C215.93,343.52 213.93,341.18 215.60,340.10 Z" fill="#555" opacity="0.45"/>
<ellipse cx="238.60" cy="344.10" rx="3" ry="1.6" fill="#eee"/>
<rect x="191.6" y="351.6" width="2.0" height="18" fill="#777" filter="url(#bl1)"/>
</g>
<path d="M188.4,394.0H191.6M197.0,399.4V402.6M189.6,395.5H191.6M195.5,399.4V401.4M189.6,396.4H191.6M194.6,399.4V401.4M189.6,397.1H191.6M193.9,399.4V401.4M188.4,394.0H191.6M197.0,399.4V402.6M189.6,389.6H191.6M201.4,399.4V401.4M189.6,387.1H191.6M203.9,399.4V401.4M189.6,385.3H191.6M205.7,399.4V401.4M189.6,383.9H191.6M207.1,399.4V401.4M189.6,382.7H191.6M208.3,399.4V401.4M189.6,381.7H191.6M209.3,399.4V401.4M189.6,380.9H191.6M210.1,399.4V401.4M189.6,380.2H191.6M210.8,399.4V401.4M188.4,379.5H191.6M211.5,399.4V402.6M189.6,375.1H191.6M215.9,399.4V401.4M189.6,372.6H191.6M218.4,399.4V401.4M189.6,370.8H191.6M220.2,399.4V401.4M189.6,369.4H191.6M221.6,399.4V401.4M189.6,368.2H191.6M222.8,399.4V401.4M189.6,367.2H191.6M223.8,399.4V401.4M189.6,366.4H191.6M224.6,399.4V401.4M189.6,365.7H191.6M225.3,399.4V401.4M188.4,365.0H191.6M226.0,399.4V402.6M189.6,360.6H191.6M230.4,399.4V401.4M189.6,358.1H191.6M232.9,399.4V401.4M189.6,356.3H191.6M234.7,399.4V401.4M189.6,354.9H191.6M236.1,399.4V401.4M189.6,353.7H191.6M237.3,399.4V401.4M189.6,352.7H191.6M238.3,399.4V401.4M189.6,351.9H191.6M239.1,399.4V401.4M189.6,351.2H191.6M239.8,399.4V401.4M188.4,350.5H191.6M240.5,399.4V402.6M189.6,346.1H191.6M244.9,399.4V401.4M189.6,343.6H191.6M247.4,399.4V401.4M189.6,341.8H191.6M249.2,399.4V401.4M189.6,340.4H191.6M250.6,399.4V401.4M189.6,339.2H191.6M251.8,399.4V401.4M189.6,338.2H191.6M252.8,399.4V401.4M189.6,337.4H191.6M253.6,399.4V401.4M189.6,336.7H191.6M254.3,399.4V401.4M188.4,336.0H191.6M255.0,399.4V402.6M189.6,331.6H191.6M259.4,399.4V401.4" stroke="#111" stroke-width="0.9" fill="none"/>
<path d="M194.6,402.4L196.1,399.4L197.6,402.4L199.1,399.4M188.6,396.4L191.6,394.9L188.6,393.4" stroke="#222" stroke-width="1" fill="none"/>
<line x1="232.30" y1="329.60" x2="232.30" y2="399.40" stroke="#5a5a5a" stroke-width="0.85"/>
<line x1="191.60" y1="356.50" x2="261.40" y2="356.50" stroke="#5a5a5a" stroke-width="0.85"/>
<rect x="191.60" y="329.60" width="69.80" height="69.80" fill="none" stroke="#111" stroke-width="1.0"/>
<text x="193.90" y="337.40" font-size="7.5" text-anchor="start" fill="#111">29.3</text>
<text x="258.20" y="337.40" font-size="7.5" text-anchor="end" fill="#111">34.7</text>
<text x="193.90" y="397.40" font-size="7.5" text-anchor="start" fill="#111">26.6</text>
<text x="258.20" y="397.40" font-size="7.5" text-anchor="end" fill="#111">9.4</text>
<text x="22.30" y="367.20" font-size="10" text-anchor="middle" fill="#111" textLength="19.00" lengthAdjust="spacingAndGlyphs" transform="rotate(-90 22.30 367.20)">CD4</text>
<text x="65.60" y="416.30" font-size="10" text-anchor="middle" fill="#111" textLength="19.60" lengthAdjust="spacingAndGlyphs">CD8</text>
<line x1="78.30" y1="412.60" x2="253.50" y2="412.60" stroke="#111" stroke-width="1.0"/>
<path d="M251.70,410.30 L257.50,412.60 L251.70,414.90 L252.90,412.60 Z" fill="#111"/>
<line x1="322.50" y1="318.30" x2="322.50" y2="393.00" stroke="#111" stroke-width="1.1"/>
<line x1="322.00" y1="393.00" x2="386.30" y2="393.00" stroke="#111" stroke-width="1.1"/>
<line x1="319.00" y1="393.00" x2="322.50" y2="393.00" stroke="#111" stroke-width="1.0"/>
<text x="317.20" y="395.90" font-size="8.4" text-anchor="end" fill="#111">0</text>
<line x1="319.00" y1="369.10" x2="322.50" y2="369.10" stroke="#111" stroke-width="1.0"/>
<text x="317.20" y="372.00" font-size="8.4" text-anchor="end" fill="#111">5</text>
<line x1="319.00" y1="345.20" x2="322.50" y2="345.20" stroke="#111" stroke-width="1.0"/>
<text x="317.20" y="348.10" font-size="8.4" text-anchor="end" fill="#111">10</text>
<line x1="319.00" y1="321.30" x2="322.50" y2="321.30" stroke="#111" stroke-width="1.0"/>
<text x="317.20" y="324.20" font-size="8.4" text-anchor="end" fill="#111">15</text>
<line x1="335.50" y1="393.00" x2="335.50" y2="396.30" stroke="#111" stroke-width="1.0"/>
<line x1="355.00" y1="393.00" x2="355.00" y2="396.30" stroke="#111" stroke-width="1.0"/>
<line x1="374.30" y1="393.00" x2="374.30" y2="396.30" stroke="#111" stroke-width="1.0"/>
<circle cx="332.00" cy="329.50" r="2.2" fill="none" stroke="#c01040" stroke-width="1.2"/>
<circle cx="335.50" cy="332.50" r="2.2" fill="none" stroke="#c01040" stroke-width="1.2"/>
<circle cx="338.80" cy="331.30" r="2.2" fill="none" stroke="#c01040" stroke-width="1.2"/>
<circle cx="351.30" cy="365.50" r="2.2" fill="none" stroke="#34568f" stroke-width="1.2"/>
<circle cx="355.00" cy="368.80" r="2.2" fill="none" stroke="#34568f" stroke-width="1.2"/>
<circle cx="358.80" cy="367.00" r="2.2" fill="none" stroke="#34568f" stroke-width="1.2"/>
<circle cx="370.50" cy="333.00" r="2.2" fill="none" stroke="#6aab3c" stroke-width="1.2"/>
<circle cx="374.30" cy="338.30" r="2.2" fill="none" stroke="#6aab3c" stroke-width="1.2"/>
<circle cx="377.50" cy="333.80" r="2.2" fill="none" stroke="#6aab3c" stroke-width="1.2"/>
<line x1="328.00" y1="330.50" x2="343.00" y2="330.50" stroke="#111" stroke-width="1.3"/>
<line x1="348.00" y1="367.20" x2="362.00" y2="367.20" stroke="#111" stroke-width="1.3"/>
<line x1="367.00" y1="335.20" x2="382.00" y2="335.20" stroke="#111" stroke-width="1.3"/>
<path d="M335.50,326.20 L335.50,323.00 L355.00,323.00 L355.00,326.20" fill="none" stroke="#111" stroke-width="1"/>
<path d="M355.00,326.20 L355.00,323.00 L374.30,323.00 L374.30,326.20" fill="none" stroke="#111" stroke-width="1"/>
<line x1="355.00" y1="323.00" x2="355.00" y2="326.50" stroke="#111" stroke-width="1.8"/>
<circle cx="340.55" cy="320.40" r="1.1" fill="#222"/>
<circle cx="343.65" cy="320.40" r="1.1" fill="#222"/>
<circle cx="346.75" cy="320.40" r="1.1" fill="#222"/>
<circle cx="349.85" cy="320.40" r="1.1" fill="#222"/>
<circle cx="359.95" cy="320.40" r="1.1" fill="#222"/>
<circle cx="363.05" cy="320.40" r="1.1" fill="#222"/>
<circle cx="366.15" cy="320.40" r="1.1" fill="#222"/>
<circle cx="369.25" cy="320.40" r="1.1" fill="#222"/>
<text x="287.60" y="356.80" font-size="9.7" text-anchor="middle" fill="#111" textLength="71.50" lengthAdjust="spacingAndGlyphs" transform="rotate(-90 287.60 356.80)">Total cell number</text>
<text x="297.60" y="355.50" font-size="9.7" text-anchor="middle" fill="#111" textLength="31.00" lengthAdjust="spacingAndGlyphs" transform="rotate(-90 297.60 355.50)">(LOG 2)</text>
<text x="337.80" y="405.30" font-size="8.5" text-anchor="end" fill="#111" textLength="24.16" lengthAdjust="spacingAndGlyphs" transform="rotate(-45 337.80 405.30)">DsRed</text>
<text x="357.30" y="405.30" font-size="8.5" text-anchor="end" fill="#111" textLength="41.69" lengthAdjust="spacingAndGlyphs" transform="rotate(-45 357.30 405.30)">TPR-DsRed</text>
<text x="376.60" y="405.30" font-size="8.5" text-anchor="end" fill="#111" transform="rotate(-45 376.60 405.30)" textLength="52" lengthAdjust="spacingAndGlyphs">TPR<tspan font-size="5.2" dy="-3">R14E</tspan><tspan dy="3">-DsRed</tspan></text>
<line x1="447.40" y1="318.45" x2="447.40" y2="393.00" stroke="#111" stroke-width="1.1"/>
<line x1="446.90" y1="393.00" x2="512.00" y2="393.00" stroke="#111" stroke-width="1.1"/>
<line x1="443.90" y1="393.00" x2="447.40" y2="393.00" stroke="#111" stroke-width="1.0"/>
<text x="442.10" y="395.90" font-size="8.4" text-anchor="end" fill="#111">0</text>
<line x1="443.90" y1="369.15" x2="447.40" y2="369.15" stroke="#111" stroke-width="1.0"/>
<text x="442.10" y="372.05" font-size="8.4" text-anchor="end" fill="#111">5</text>
<line x1="443.90" y1="345.30" x2="447.40" y2="345.30" stroke="#111" stroke-width="1.0"/>
<text x="442.10" y="348.20" font-size="8.4" text-anchor="end" fill="#111">10</text>
<line x1="443.90" y1="321.45" x2="447.40" y2="321.45" stroke="#111" stroke-width="1.0"/>
<text x="442.10" y="324.35" font-size="8.4" text-anchor="end" fill="#111">15</text>
<line x1="461.10" y1="393.00" x2="461.10" y2="396.30" stroke="#111" stroke-width="1.0"/>
<line x1="481.10" y1="393.00" x2="481.10" y2="396.30" stroke="#111" stroke-width="1.0"/>
<line x1="500.00" y1="393.00" x2="500.00" y2="396.30" stroke="#111" stroke-width="1.0"/>
<circle cx="458.00" cy="338.00" r="2.2" fill="none" stroke="#c01040" stroke-width="1.2"/>
<circle cx="461.10" cy="340.90" r="2.2" fill="none" stroke="#c01040" stroke-width="1.2"/>
<circle cx="464.70" cy="338.90" r="2.2" fill="none" stroke="#c01040" stroke-width="1.2"/>
<circle cx="476.70" cy="388.50" r="2.2" fill="none" stroke="#34568f" stroke-width="1.2"/>
<circle cx="479.60" cy="392.00" r="2.2" fill="none" stroke="#34568f" stroke-width="1.2"/>
<circle cx="484.00" cy="392.50" r="2.2" fill="none" stroke="#34568f" stroke-width="1.2"/>
<circle cx="496.00" cy="341.30" r="2.2" fill="none" stroke="#6aab3c" stroke-width="1.2"/>
<circle cx="500.00" cy="344.50" r="2.2" fill="none" stroke="#6aab3c" stroke-width="1.2"/>
<circle cx="503.20" cy="341.30" r="2.2" fill="none" stroke="#6aab3c" stroke-width="1.2"/>
<line x1="455.00" y1="339.00" x2="470.00" y2="339.00" stroke="#111" stroke-width="1.3"/>
<line x1="473.00" y1="391.30" x2="487.50" y2="391.30" stroke="#111" stroke-width="1.3"/>
<line x1="493.00" y1="342.80" x2="509.00" y2="342.80" stroke="#111" stroke-width="1.3"/>
<path d="M461.10,332.80 L461.10,329.60 L481.10,329.60 L481.10,332.80" fill="none" stroke="#111" stroke-width="1"/>
<path d="M481.10,332.80 L481.10,329.60 L500.00,329.60 L500.00,332.80" fill="none" stroke="#111" stroke-width="1"/>
<line x1="481.10" y1="329.60" x2="481.10" y2="333.00" stroke="#111" stroke-width="1.8"/>
<circle cx="466.35" cy="327.00" r="1.1" fill="#222"/>
<circle cx="469.45" cy="327.00" r="1.1" fill="#222"/>
<circle cx="472.55" cy="327.00" r="1.1" fill="#222"/>
<circle cx="475.65" cy="327.00" r="1.1" fill="#222"/>
<circle cx="485.85" cy="327.00" r="1.1" fill="#222"/>
<circle cx="488.95" cy="327.00" r="1.1" fill="#222"/>
<circle cx="492.05" cy="327.00" r="1.1" fill="#222"/>
<circle cx="495.15" cy="327.00" r="1.1" fill="#222"/>
<text x="412.60" y="355.90" font-size="9.7" text-anchor="middle" fill="#111" textLength="66.20" lengthAdjust="spacingAndGlyphs" transform="rotate(-90 412.60 355.90)">DP cell number</text>
<text x="422.20" y="355.90" font-size="9.7" text-anchor="middle" fill="#111" textLength="32.40" lengthAdjust="spacingAndGlyphs" transform="rotate(-90 422.20 355.90)">(LOG 2)</text>
<text x="463.40" y="405.30" font-size="8.5" text-anchor="end" fill="#111" textLength="24.16" lengthAdjust="spacingAndGlyphs" transform="rotate(-45 463.40 405.30)">DsRed</text>
<text x="483.40" y="405.30" font-size="8.5" text-anchor="end" fill="#111" textLength="41.69" lengthAdjust="spacingAndGlyphs" transform="rotate(-45 483.40 405.30)">TPR-DsRed</text>
<text x="502.30" y="405.30" font-size="8.5" text-anchor="end" fill="#111" transform="rotate(-45 502.30 405.30)" textLength="52" lengthAdjust="spacingAndGlyphs">TPR<tspan font-size="5.2" dy="-3">R14E</tspan><tspan dy="3">-DsRed</tspan></text>
<text x="76.60" y="471.60" font-size="8.6" text-anchor="middle" fill="#111" textLength="29.69" lengthAdjust="spacingAndGlyphs">ΔLckCre</text>
<text x="76.60" y="482.20" font-size="8.6" text-anchor="middle" fill="#111" textLength="28.52" lengthAdjust="spacingAndGlyphs">+Vector</text>
<text x="156.30" y="471.60" font-size="8.6" text-anchor="middle" fill="#111" textLength="29.69" lengthAdjust="spacingAndGlyphs">ΔLckCre</text>
<text x="156.30" y="482.20" font-size="8.6" text-anchor="middle" fill="#111" textLength="28.97" lengthAdjust="spacingAndGlyphs">+ZMIZ1</text>
<text x="236.30" y="471.60" font-size="8.6" text-anchor="middle" fill="#111" textLength="29.69" lengthAdjust="spacingAndGlyphs">ΔLckCre</text>
<text x="236.30" y="482.20" font-size="8.6" text-anchor="middle" fill="#111" textLength="25.74" lengthAdjust="spacingAndGlyphs">+R14E</text>
<g id="contG"></g>
<!--G0-->
<clipPath id="cG0"><rect x="42.80" y="484.60" width="70.20" height="70.20"/></clipPath>
<g clip-path="url(#cG0)">
<ellipse cx="97.8" cy="500.6" rx="8" ry="7" fill="#999" opacity="0.55" filter="url(#bl2)"/>
<path d="M95.1,499.2h0.6M95.2,494.7h0.6M97.7,507.1h0.6M96.0,493.8h0.6M94.5,497.2h0.6M91.5,509.7h0.6M99.8,491.5h0.6M98.3,502.7h0.6M93.0,496.3h0.6M96.2,499.7h0.6M96.3,503.8h0.6M90.3,506.0h0.6M99.6,510.0h0.6M95.5,491.5h0.6M88.8,493.3h0.6M99.2,496.7h0.6M92.8,508.6h0.6M92.3,501.6h0.6M93.6,491.9h0.6M95.2,507.5h0.6M90.5,495.1h0.6M93.3,491.3h0.6M94.3,507.0h0.6M96.0,501.3h0.6M98.2,493.6h0.6M95.0,498.1h0.6M95.4,492.9h0.6M97.3,492.5h0.6M90.6,506.7h0.6M99.2,499.3h0.6M93.4,495.5h0.6M91.8,502.9h0.6M90.8,493.0h0.6M93.8,493.9h0.6M95.9,507.0h0.6M97.4,500.2h0.6M92.6,499.3h0.6M88.9,504.9h0.6M92.4,497.0h0.6M89.7,499.6h0.6M95.2,498.4h0.6M98.4,504.1h0.6M91.5,501.1h0.6M98.8,501.0h0.6M95.4,491.9h0.6M94.2,499.8h0.6M93.2,499.0h0.6M95.2,501.4h0.6M94.2,493.9h0.6M93.7,510.0h0.6M93.4,491.3h0.6M88.8,501.3h0.6M89.4,492.5h0.6M90.0,499.7h0.6M99.7,500.3h0.6M93.8,499.3h0.6M94.3,499.5h0.6M96.8,508.6h0.6M96.5,499.1h0.6M95.9,508.8h0.6M90.5,495.3h0.6M95.6,504.3h0.6M95.9,502.4h0.6M97.9,500.2h0.6M97.7,509.8h0.6M93.6,507.8h0.6M96.7,508.4h0.6M89.3,508.9h0.6M97.2,509.8h0.6M99.6,496.3h0.6" stroke="#555" stroke-width="0.6" fill="none"/>
<path d="M102.1,502.0h0.6M101.5,507.8h0.6M104.3,495.9h0.6M110.4,507.4h0.6M109.8,504.2h0.6M100.4,497.3h0.6M101.2,507.4h0.6M97.9,507.4h0.6M100.1,495.3h0.6M106.6,504.5h0.6M105.0,501.5h0.6M106.0,502.6h0.6M99.3,495.1h0.6M98.1,501.8h0.6M101.9,493.7h0.6M101.6,511.1h0.6M99.6,510.1h0.6M110.4,492.7h0.6M109.4,492.5h0.6M106.8,490.7h0.6M102.3,499.9h0.6M103.1,508.2h0.6M106.9,488.4h0.6M105.6,489.9h0.6M100.2,497.3h0.6M102.2,501.5h0.6M111.6,507.1h0.6M105.4,508.6h0.6M100.2,505.5h0.6M111.4,511.1h0.6" stroke="#999" stroke-width="0.6" fill="none"/>
<path d="M107.6,540.8h0.6M102.9,550.4h0.6M85.6,538.6h0.6M107.6,549.0h0.6M96.3,518.1h0.6M90.8,554.3h0.6M80.3,524.6h0.6M109.1,530.4h0.6M83.9,524.5h0.6M107.7,525.4h0.6M91.3,538.2h0.6M104.2,532.3h0.6M79.6,535.8h0.6M78.0,514.8h0.6M83.3,541.1h0.6M86.4,541.0h0.6M82.4,515.8h0.6M77.6,541.7h0.6M106.0,520.3h0.6M84.9,511.2h0.6M98.7,523.8h0.6M81.5,539.1h0.6M97.2,530.3h0.6M82.0,538.7h0.6M95.7,529.6h0.6M82.4,551.5h0.6M106.1,541.0h0.6M110.7,536.1h0.6M88.5,515.7h0.6M97.5,533.5h0.6M91.6,554.3h0.6M105.3,515.7h0.6M106.9,510.7h0.6M98.9,524.5h0.6M101.6,552.5h0.6" stroke="#999" stroke-width="0.6" fill="none"/>
<path d="M36.8,501.40000000000003 L62.8,500.0 L82.8,498.40000000000003 Q89.8,497.20000000000005 91.6,499.1 Q91.8,501.6 88.8,505.1 Q82.8,510.6 80.8,515.6 Q78.8,521.6 78.3,530.6 L77.3,544.6 L76.4,560.6 L36.8,560.6 Z" fill="#0c0c0c" filter="url(#bl15)"/>
<ellipse cx="52.8" cy="550.6" rx="9" ry="4" fill="#333" filter="url(#bl2)"/>
<path d="M56.3,544.9h0.6M49.8,546.8h0.6M58.1,551.4h0.6M60.9,545.5h0.6M52.4,544.9h0.6M48.7,549.7h0.6M45.3,546.6h0.6M56.5,550.0h0.6M48.8,550.5h0.6M59.4,544.7h0.6M59.3,551.6h0.6M50.9,546.2h0.6M62.0,548.0h0.6M46.5,545.6h0.6M60.1,550.6h0.6M59.3,551.9h0.6M54.5,554.3h0.6M51.6,550.1h0.6M59.7,550.8h0.6M60.3,550.4h0.6M57.5,545.1h0.6M48.9,547.5h0.6M46.2,546.9h0.6M46.6,547.4h0.6M56.2,548.2h0.6M51.5,546.7h0.6M49.6,554.0h0.6M56.5,550.7h0.6M47.9,551.9h0.6M47.7,548.4h0.6" stroke="#888" stroke-width="0.6" fill="none"/>
<path d="M44.80,507.20 C44.80,506.87 57.30,506.70 62.80,506.10 C68.30,505.50 73.88,504.27 77.80,503.60 C81.72,502.93 84.55,501.93 86.30,502.10 C88.05,502.27 88.72,503.43 88.30,504.60 C87.88,505.77 85.88,508.18 83.80,509.10 C81.72,510.02 79.30,510.27 75.80,510.10 C72.30,509.93 67.97,508.58 62.80,508.10 C57.63,507.62 44.80,507.53 44.80,507.20 Z" fill="none" stroke="#ddd" stroke-width="0.8"/>
<path d="M45.8,507.20000000000005 Q67.8,507.0 82.8,506.40000000000003" fill="none" stroke="#fff" stroke-width="1.0"/>
<path d="M98.8,527.1h0.6M101.0,526.4h0.6M98.4,549.7h0.6M92.2,528.8h0.6M101.6,521.3h0.6M93.3,545.0h0.6M106.5,528.8h0.6M93.8,549.7h0.6M96.1,537.9h0.6M100.5,538.9h0.6M105.4,549.4h0.6M101.9,545.0h0.6M103.5,539.2h0.6M97.7,525.9h0.6" stroke="#888" stroke-width="0.6" fill="none"/>
</g>
<path d="M39.6,549.4H42.8M48.2,554.8V558.0M40.8,550.9H42.8M46.7,554.8V556.8M40.8,551.8H42.8M45.8,554.8V556.8M40.8,552.5H42.8M45.1,554.8V556.8M39.6,549.4H42.8M48.2,554.8V558.0M40.8,545.0H42.8M52.6,554.8V556.8M40.8,542.5H42.8M55.1,554.8V556.8M40.8,540.7H42.8M56.9,554.8V556.8M40.8,539.3H42.8M58.3,554.8V556.8M40.8,538.1H42.8M59.5,554.8V556.8M40.8,537.1H42.8M60.5,554.8V556.8M40.8,536.3H42.8M61.3,554.8V556.8M40.8,535.6H42.8M62.0,554.8V556.8M39.6,534.9H42.8M62.7,554.8V558.0M40.8,530.5H42.8M67.1,554.8V556.8M40.8,528.0H42.8M69.6,554.8V556.8M40.8,526.2H42.8M71.4,554.8V556.8M40.8,524.8H42.8M72.8,554.8V556.8M40.8,523.6H42.8M74.0,554.8V556.8M40.8,522.6H42.8M75.0,554.8V556.8M40.8,521.8H42.8M75.8,554.8V556.8M40.8,521.1H42.8M76.5,554.8V556.8M39.6,520.4H42.8M77.2,554.8V558.0M40.8,516.0H42.8M81.6,554.8V556.8M40.8,513.5H42.8M84.1,554.8V556.8M40.8,511.7H42.8M85.9,554.8V556.8M40.8,510.3H42.8M87.3,554.8V556.8M40.8,509.1H42.8M88.5,554.8V556.8M40.8,508.1H42.8M89.5,554.8V556.8M40.8,507.3H42.8M90.3,554.8V556.8M40.8,506.6H42.8M91.0,554.8V556.8M39.6,505.9H42.8M91.7,554.8V558.0M40.8,501.5H42.8M96.1,554.8V556.8M40.8,499.0H42.8M98.6,554.8V556.8M40.8,497.2H42.8M100.4,554.8V556.8M40.8,495.8H42.8M101.8,554.8V556.8M40.8,494.6H42.8M103.0,554.8V556.8M40.8,493.6H42.8M104.0,554.8V556.8M40.8,492.8H42.8M104.8,554.8V556.8M40.8,492.1H42.8M105.5,554.8V556.8M39.6,491.4H42.8M106.2,554.8V558.0M40.8,487.0H42.8M110.6,554.8V556.8" stroke="#111" stroke-width="0.9" fill="none"/>
<path d="M45.8,557.8L47.3,554.8L48.8,557.8L50.3,554.8M39.8,551.8L42.8,550.3L39.8,548.8" stroke="#222" stroke-width="1" fill="none"/>
<rect x="42.80" y="484.60" width="70.20" height="70.20" fill="none" stroke="#111" stroke-width="1.0"/>
<rect x="89.60" y="516.30" width="19.20" height="37.50" fill="none" stroke="#666" stroke-width="0.8"/>
<text x="99.20" y="552.60" font-size="7" text-anchor="middle" fill="#111">0.002</text>
<!--G1-->
<clipPath id="cG1"><rect x="122.50" y="484.60" width="70.20" height="70.20"/></clipPath>
<g clip-path="url(#cG1)">
<ellipse cx="177.5" cy="500.6" rx="8" ry="7" fill="#999" opacity="0.55" filter="url(#bl2)"/>
<path d="M173.5,501.8h0.6M178.7,499.9h0.6M174.1,502.3h0.6M170.5,500.8h0.6M175.4,506.5h0.6M169.5,496.7h0.6M169.5,506.8h0.6M176.1,491.4h0.6M179.3,509.9h0.6M175.7,502.9h0.6M170.2,490.9h0.6M174.3,491.8h0.6M170.6,495.4h0.6M168.8,499.9h0.6M173.3,507.4h0.6M174.2,503.4h0.6M174.0,503.8h0.6M173.5,496.2h0.6M179.5,510.5h0.6M177.7,504.8h0.6M172.0,495.2h0.6M171.7,492.0h0.6M176.9,498.6h0.6M177.8,498.3h0.6M179.0,507.5h0.6M168.5,494.8h0.6M178.5,500.0h0.6M179.3,498.5h0.6M169.3,503.2h0.6M177.1,496.0h0.6M169.5,497.3h0.6M179.1,505.8h0.6M169.8,495.5h0.6M169.6,491.8h0.6M177.3,494.2h0.6M174.7,499.5h0.6M170.6,505.2h0.6M169.9,503.5h0.6M169.8,499.0h0.6M170.8,496.0h0.6M179.2,506.7h0.6M171.8,508.3h0.6M170.8,498.5h0.6M177.9,503.4h0.6M169.6,510.4h0.6M170.8,495.8h0.6M177.0,497.2h0.6M171.8,492.1h0.6M169.5,502.3h0.6M171.2,502.6h0.6M172.6,499.7h0.6M179.1,500.3h0.6M174.8,507.9h0.6M170.5,493.7h0.6M178.5,507.0h0.6M171.2,494.4h0.6M176.6,509.4h0.6M170.7,509.6h0.6M178.2,502.7h0.6M173.1,492.7h0.6M168.9,509.9h0.6M171.1,504.7h0.6M171.3,507.1h0.6M175.1,496.5h0.6M170.4,505.0h0.6M169.3,495.2h0.6M174.7,507.6h0.6M175.3,496.2h0.6M178.6,494.7h0.6M168.7,496.0h0.6" stroke="#555" stroke-width="0.6" fill="none"/>
<path d="M184.4,501.5h0.6M188.8,495.6h0.6M182.0,504.9h0.6M184.3,496.6h0.6M183.2,495.8h0.6M179.8,503.4h0.6M190.0,504.8h0.6M186.4,496.0h0.6M183.6,491.2h0.6M187.7,495.0h0.6M181.6,512.1h0.6M182.3,512.1h0.6M186.2,506.6h0.6M186.3,492.1h0.6M187.5,494.1h0.6M183.2,490.9h0.6M178.3,496.8h0.6M177.7,497.2h0.6M189.4,512.6h0.6M183.4,490.3h0.6M182.3,489.2h0.6M180.5,503.1h0.6M186.1,488.4h0.6M184.3,498.2h0.6M183.1,491.0h0.6M183.0,490.2h0.6M187.1,503.8h0.6M186.3,497.8h0.6M190.9,496.8h0.6M180.4,496.9h0.6" stroke="#999" stroke-width="0.6" fill="none"/>
<path d="M162.1,540.9h0.6M178.1,531.7h0.6M163.8,545.5h0.6M184.0,533.1h0.6M173.7,521.0h0.6M156.6,526.9h0.6M176.4,513.6h0.6M183.5,520.8h0.6M164.4,512.5h0.6M190.4,543.1h0.6M186.3,537.7h0.6M157.7,525.1h0.6M173.4,515.7h0.6M188.9,526.8h0.6M161.8,546.6h0.6M160.7,551.4h0.6M171.9,534.9h0.6M168.2,531.9h0.6M162.9,512.2h0.6M185.9,520.9h0.6M183.0,519.8h0.6M189.4,549.9h0.6M182.2,544.2h0.6M176.2,542.7h0.6M160.7,531.6h0.6M184.6,519.4h0.6M187.9,549.7h0.6M170.4,526.7h0.6M171.8,527.6h0.6M190.3,527.6h0.6M157.4,514.7h0.6M180.9,554.3h0.6M173.4,532.2h0.6M175.2,543.5h0.6M164.0,537.4h0.6" stroke="#999" stroke-width="0.6" fill="none"/>
<path d="M116.5,501.40000000000003 L142.5,500.0 L162.5,498.40000000000003 Q169.5,497.20000000000005 171.3,499.1 Q171.5,501.6 168.5,505.1 Q162.5,510.6 160.5,515.6 Q158.5,521.6 158.0,530.6 L157.0,544.6 L156.1,560.6 L116.5,560.6 Z" fill="#0c0c0c" filter="url(#bl15)"/>
<ellipse cx="131.5" cy="521.6" rx="8" ry="9" fill="#444" filter="url(#bl2)"/>
<ellipse cx="134.5" cy="550.6" rx="11" ry="5" fill="#555" filter="url(#bl2)"/>
<path d="M131.8,530.2h0.6M125.0,518.2h0.6M139.9,525.9h0.6M126.6,519.6h0.6M138.6,521.4h0.6M125.0,530.5h0.6M126.6,525.4h0.6M134.4,521.8h0.6M139.9,516.1h0.6M134.2,514.9h0.6M139.9,515.5h0.6M132.7,529.3h0.6M138.6,514.6h0.6M138.5,529.5h0.6M129.6,527.7h0.6M128.1,515.7h0.6M127.1,518.8h0.6M137.7,521.8h0.6M140.3,530.5h0.6M127.9,521.3h0.6M125.5,524.3h0.6M134.2,524.3h0.6M125.9,524.8h0.6M126.3,529.4h0.6M131.9,514.6h0.6M140.2,531.5h0.6M129.8,531.2h0.6M129.1,523.3h0.6M133.7,528.4h0.6M125.6,513.3h0.6M126.9,520.3h0.6M137.2,527.1h0.6M126.2,527.3h0.6M127.5,513.0h0.6M132.2,530.8h0.6M139.0,521.4h0.6M137.3,516.5h0.6M127.1,531.8h0.6M135.2,516.1h0.6M129.9,528.1h0.6M125.4,516.3h0.6M137.4,517.3h0.6M131.2,521.2h0.6M132.1,518.8h0.6M128.5,528.6h0.6M136.6,531.5h0.6M125.2,515.8h0.6M138.1,518.8h0.6M137.2,518.7h0.6M130.8,526.0h0.6M131.3,523.1h0.6M125.1,529.7h0.6M134.4,517.7h0.6M132.1,525.4h0.6M139.4,513.0h0.6M139.3,524.4h0.6M125.2,519.9h0.6M136.1,514.8h0.6M133.9,523.8h0.6M133.7,513.1h0.6" stroke="#999" stroke-width="0.6" fill="none"/>
<path d="M133.9,546.9h0.6M129.2,553.7h0.6M138.2,551.5h0.6M137.7,548.4h0.6M141.6,550.4h0.6M142.7,551.2h0.6M144.0,549.0h0.6M128.9,546.1h0.6M141.4,546.3h0.6M139.9,550.8h0.6M126.8,552.4h0.6M126.2,553.3h0.6M144.0,546.8h0.6M141.5,551.9h0.6M128.3,551.3h0.6M128.2,553.7h0.6M140.7,554.4h0.6M126.7,547.8h0.6M139.1,550.7h0.6M129.5,553.5h0.6M144.1,547.6h0.6M128.7,551.3h0.6M134.5,551.2h0.6M136.4,548.5h0.6M126.0,545.9h0.6M135.6,551.9h0.6M134.9,552.0h0.6M137.4,553.4h0.6M139.9,547.8h0.6M128.6,545.3h0.6M126.4,553.2h0.6M144.7,552.1h0.6M127.9,551.2h0.6M128.3,553.5h0.6M139.9,552.1h0.6M138.9,548.8h0.6M144.2,554.2h0.6M130.8,549.0h0.6M141.6,551.4h0.6M134.5,549.1h0.6M146.8,547.4h0.6M130.2,551.5h0.6M131.6,553.6h0.6M132.7,553.8h0.6M133.9,553.5h0.6M142.0,551.9h0.6M130.2,546.2h0.6M126.2,546.4h0.6M140.2,545.2h0.6M130.7,550.3h0.6M128.9,547.9h0.6M130.5,551.4h0.6M128.1,554.6h0.6M138.7,551.7h0.6M137.7,549.6h0.6M146.9,553.5h0.6M143.6,544.9h0.6M138.5,554.0h0.6M139.5,549.7h0.6M139.8,546.4h0.6" stroke="#999" stroke-width="0.6" fill="none"/>
<path d="M124.50,507.20 C124.50,506.87 137.00,506.70 142.50,506.10 C148.00,505.50 153.58,504.27 157.50,503.60 C161.42,502.93 164.25,501.93 166.00,502.10 C167.75,502.27 168.42,503.43 168.00,504.60 C167.58,505.77 165.58,508.18 163.50,509.10 C161.42,510.02 159.00,510.27 155.50,510.10 C152.00,509.93 147.67,508.58 142.50,508.10 C137.33,507.62 124.50,507.53 124.50,507.20 Z" fill="none" stroke="#ddd" stroke-width="0.8"/>
<path d="M125.5,507.20000000000005 Q147.5,507.0 162.5,506.40000000000003" fill="none" stroke="#fff" stroke-width="1.0"/>
<path d="M174.4,534.7h0.6M173.1,544.9h0.6M174.2,536.3h0.6M185.3,531.3h0.6M186.0,542.0h0.6M179.3,538.7h0.6M179.9,530.1h0.6M186.4,531.5h0.6M186.2,545.9h0.6M171.0,526.9h0.6M178.1,544.7h0.6M173.3,538.3h0.6M176.4,543.7h0.6M185.3,543.0h0.6" stroke="#888" stroke-width="0.6" fill="none"/>
</g>
<path d="M119.3,549.4H122.5M127.9,554.8V558.0M120.5,550.9H122.5M126.4,554.8V556.8M120.5,551.8H122.5M125.5,554.8V556.8M120.5,552.5H122.5M124.8,554.8V556.8M119.3,549.4H122.5M127.9,554.8V558.0M120.5,545.0H122.5M132.3,554.8V556.8M120.5,542.5H122.5M134.8,554.8V556.8M120.5,540.7H122.5M136.6,554.8V556.8M120.5,539.3H122.5M138.0,554.8V556.8M120.5,538.1H122.5M139.2,554.8V556.8M120.5,537.1H122.5M140.2,554.8V556.8M120.5,536.3H122.5M141.0,554.8V556.8M120.5,535.6H122.5M141.7,554.8V556.8M119.3,534.9H122.5M142.4,554.8V558.0M120.5,530.5H122.5M146.8,554.8V556.8M120.5,528.0H122.5M149.3,554.8V556.8M120.5,526.2H122.5M151.1,554.8V556.8M120.5,524.8H122.5M152.5,554.8V556.8M120.5,523.6H122.5M153.7,554.8V556.8M120.5,522.6H122.5M154.7,554.8V556.8M120.5,521.8H122.5M155.5,554.8V556.8M120.5,521.1H122.5M156.2,554.8V556.8M119.3,520.4H122.5M156.9,554.8V558.0M120.5,516.0H122.5M161.3,554.8V556.8M120.5,513.5H122.5M163.8,554.8V556.8M120.5,511.7H122.5M165.6,554.8V556.8M120.5,510.3H122.5M167.0,554.8V556.8M120.5,509.1H122.5M168.2,554.8V556.8M120.5,508.1H122.5M169.2,554.8V556.8M120.5,507.3H122.5M170.0,554.8V556.8M120.5,506.6H122.5M170.7,554.8V556.8M119.3,505.9H122.5M171.4,554.8V558.0M120.5,501.5H122.5M175.8,554.8V556.8M120.5,499.0H122.5M178.3,554.8V556.8M120.5,497.2H122.5M180.1,554.8V556.8M120.5,495.8H122.5M181.5,554.8V556.8M120.5,494.6H122.5M182.7,554.8V556.8M120.5,493.6H122.5M183.7,554.8V556.8M120.5,492.8H122.5M184.5,554.8V556.8M120.5,492.1H122.5M185.2,554.8V556.8M119.3,491.4H122.5M185.9,554.8V558.0M120.5,487.0H122.5M190.3,554.8V556.8" stroke="#111" stroke-width="0.9" fill="none"/>
<path d="M125.5,557.8L127.0,554.8L128.5,557.8L130.0,554.8M119.5,551.8L122.5,550.3L119.5,548.8" stroke="#222" stroke-width="1" fill="none"/>
<rect x="122.50" y="484.60" width="70.20" height="70.20" fill="none" stroke="#111" stroke-width="1.0"/>
<rect x="169.30" y="516.30" width="19.20" height="37.50" fill="none" stroke="#666" stroke-width="0.8"/>
<text x="178.90" y="552.60" font-size="7" text-anchor="middle" fill="#111">0.004</text>
<!--G2-->
<clipPath id="cG2"><rect x="202.50" y="484.60" width="70.20" height="70.20"/></clipPath>
<g clip-path="url(#cG2)">
<ellipse cx="257.5" cy="500.6" rx="8" ry="7" fill="#999" opacity="0.55" filter="url(#bl2)"/>
<path d="M253.7,503.7h0.6M255.8,493.5h0.6M248.6,498.1h0.6M251.5,506.8h0.6M256.1,502.6h0.6M254.6,503.8h0.6M250.1,499.4h0.6M250.3,508.7h0.6M249.1,507.0h0.6M249.3,504.3h0.6M252.2,498.7h0.6M257.8,491.0h0.6M249.2,508.9h0.6M254.1,492.4h0.6M259.4,509.5h0.6M249.7,499.1h0.6M250.0,496.9h0.6M255.3,493.9h0.6M256.2,491.6h0.6M250.4,506.9h0.6M252.9,499.0h0.6M255.1,500.1h0.6M252.7,491.2h0.6M256.5,509.9h0.6M259.2,503.9h0.6M252.4,497.9h0.6M256.1,504.1h0.6M249.8,495.3h0.6M252.5,500.8h0.6M257.4,500.6h0.6M248.8,507.1h0.6M253.2,501.0h0.6M250.9,499.1h0.6M252.8,506.0h0.6M249.6,501.6h0.6M250.5,504.5h0.6M248.9,496.1h0.6M252.3,503.3h0.6M249.1,499.8h0.6M250.8,496.2h0.6M253.7,509.8h0.6M253.8,509.7h0.6M250.3,509.1h0.6M252.5,494.4h0.6M256.7,508.8h0.6M248.6,496.0h0.6M257.0,497.4h0.6M251.2,490.8h0.6M248.9,503.0h0.6M259.3,510.6h0.6M254.0,491.1h0.6M252.0,506.3h0.6M257.7,503.4h0.6M251.0,501.1h0.6M253.8,503.1h0.6M251.4,509.5h0.6M258.3,493.8h0.6M251.7,508.1h0.6M251.6,509.5h0.6M254.2,504.5h0.6M256.3,494.9h0.6M251.6,495.7h0.6M256.0,504.5h0.6M249.9,508.3h0.6M253.1,495.4h0.6M253.3,510.2h0.6M254.7,503.1h0.6M258.6,509.8h0.6M256.9,499.0h0.6M255.0,508.6h0.6" stroke="#555" stroke-width="0.6" fill="none"/>
<path d="M270.5,491.9h0.6M271.1,493.6h0.6M264.0,510.0h0.6M262.5,500.3h0.6M259.8,511.6h0.6M271.3,491.9h0.6M259.2,499.4h0.6M264.8,507.0h0.6M262.3,502.4h0.6M259.7,492.9h0.6M258.6,501.2h0.6M265.4,503.0h0.6M270.6,495.3h0.6M262.3,499.2h0.6M270.7,495.3h0.6M261.6,498.3h0.6M267.2,494.6h0.6M259.9,505.9h0.6M265.6,502.1h0.6M257.7,493.8h0.6M258.9,496.7h0.6M270.2,512.3h0.6M269.4,496.8h0.6M265.4,510.0h0.6M262.3,497.6h0.6M267.5,496.2h0.6M264.1,496.7h0.6M269.0,500.6h0.6M258.9,488.0h0.6M266.5,490.5h0.6" stroke="#999" stroke-width="0.6" fill="none"/>
<path d="M269.1,516.8h0.6M237.3,554.5h0.6M242.8,515.9h0.6M258.6,525.8h0.6M266.7,520.8h0.6M269.1,524.7h0.6M256.9,551.6h0.6M259.8,551.2h0.6M260.6,512.7h0.6M266.5,536.5h0.6M247.1,519.0h0.6M265.4,536.2h0.6M268.4,544.7h0.6M269.2,535.5h0.6M260.2,537.5h0.6M245.3,552.7h0.6M247.1,545.0h0.6M269.0,539.2h0.6M241.3,546.9h0.6M259.2,518.7h0.6M238.2,534.0h0.6M237.6,551.3h0.6M253.7,533.4h0.6M250.4,539.7h0.6M267.7,524.1h0.6M249.2,536.2h0.6M246.6,536.8h0.6M255.0,529.7h0.6M259.4,533.8h0.6M239.5,554.4h0.6M248.6,529.6h0.6M250.2,551.5h0.6M268.9,533.1h0.6M250.1,514.8h0.6M266.9,518.1h0.6" stroke="#999" stroke-width="0.6" fill="none"/>
<linearGradient id="gg2" x1="0" y1="0" x2="0" y2="1"><stop offset="0" stop-color="#222"/><stop offset="0.22" stop-color="#666"/><stop offset="0.45" stop-color="#aaa"/><stop offset="1" stop-color="#eee"/></linearGradient>
<path d="M197.50,516.60 C200.83,509.77 212.50,518.27 217.50,518.60 C222.50,518.93 224.33,518.93 227.50,518.60 C230.67,518.27 234.67,515.60 236.50,516.60 C238.33,517.60 238.17,521.27 238.50,524.60 C238.83,527.93 238.33,530.77 238.50,536.60 C238.67,542.43 246.33,555.77 239.50,559.60 C232.67,563.43 204.50,566.77 197.50,559.60 C190.50,552.43 194.17,523.43 197.50,516.60 Z" fill="url(#gg2)" filter="url(#bl1)"/>
<path d="M224.1,533.3h0.6M203.7,544.2h0.6M210.9,532.3h0.6M218.4,543.8h0.6M242.1,538.4h0.6M242.2,554.4h0.6M212.2,526.8h0.6M208.9,549.9h0.6M226.5,552.1h0.6M241.4,544.2h0.6M223.9,526.6h0.6M203.4,548.8h0.6M229.4,547.5h0.6M225.1,544.8h0.6M228.0,551.5h0.6M207.0,539.4h0.6M214.9,549.5h0.6M237.6,532.2h0.6M205.7,531.9h0.6M215.1,547.7h0.6M218.9,547.1h0.6M214.5,540.3h0.6M210.0,544.0h0.6M223.0,550.5h0.6M240.4,540.2h0.6M205.2,552.7h0.6M240.3,538.8h0.6M221.9,552.6h0.6M212.6,532.3h0.6M230.3,544.8h0.6M229.9,549.4h0.6M223.0,537.2h0.6M211.5,531.0h0.6M217.3,537.6h0.6M232.1,543.2h0.6M222.9,536.0h0.6M227.5,536.1h0.6M234.4,543.9h0.6M230.3,535.8h0.6M223.2,546.2h0.6M240.8,540.5h0.6M215.3,545.3h0.6M207.3,534.6h0.6M203.8,541.2h0.6M212.7,536.4h0.6M234.0,543.7h0.6M204.0,537.9h0.6M202.8,549.3h0.6M222.4,550.1h0.6M213.1,549.3h0.6M208.0,550.6h0.6M218.1,526.8h0.6M239.1,549.7h0.6M210.2,541.9h0.6M221.6,528.9h0.6M219.5,553.8h0.6M217.7,547.4h0.6M232.9,547.7h0.6M227.0,551.7h0.6M216.2,539.0h0.6M220.4,527.6h0.6M222.1,547.5h0.6M225.5,529.9h0.6M212.2,539.1h0.6M206.7,530.6h0.6M232.1,527.8h0.6M207.1,529.4h0.6M223.2,525.2h0.6M230.0,541.6h0.6M232.9,547.9h0.6M231.4,540.1h0.6M214.7,542.5h0.6M208.5,531.5h0.6M230.5,542.5h0.6M208.0,537.9h0.6M226.4,531.3h0.6M228.5,528.9h0.6M209.1,537.1h0.6M214.0,546.2h0.6M219.1,533.3h0.6M235.2,549.6h0.6M233.4,528.2h0.6M213.4,527.5h0.6M232.3,538.5h0.6M206.2,552.7h0.6M205.5,525.9h0.6M238.5,538.2h0.6M236.7,542.3h0.6M208.0,539.0h0.6M233.0,525.1h0.6M233.6,535.1h0.6M223.0,534.2h0.6M234.0,539.1h0.6M220.6,526.5h0.6M231.6,529.8h0.6M226.7,524.8h0.6M206.8,543.4h0.6M213.8,542.5h0.6M230.2,535.2h0.6M223.8,536.3h0.6M204.2,549.9h0.6M223.7,550.6h0.6M228.1,543.5h0.6M206.9,543.2h0.6M219.7,532.9h0.6M207.0,530.0h0.6M205.3,544.4h0.6M219.5,528.4h0.6M225.2,550.9h0.6M239.6,526.9h0.6M227.3,543.0h0.6M221.7,535.8h0.6M221.2,534.9h0.6M218.2,530.0h0.6M230.2,550.2h0.6M241.3,535.8h0.6M211.8,532.2h0.6M203.3,544.7h0.6M208.3,539.6h0.6M237.1,545.7h0.6M227.7,547.6h0.6M226.9,549.3h0.6M226.9,531.4h0.6M205.3,552.7h0.6M207.0,540.6h0.6M237.5,549.8h0.6M232.7,526.0h0.6M203.8,540.2h0.6M206.5,531.3h0.6M212.7,548.6h0.6M235.0,548.5h0.6M237.7,550.9h0.6M209.8,554.5h0.6M216.4,545.8h0.6M234.0,531.5h0.6M239.2,543.2h0.6M230.2,535.7h0.6M231.8,530.5h0.6M215.8,545.8h0.6M237.2,541.6h0.6M225.3,526.7h0.6M221.6,530.8h0.6M214.3,536.6h0.6M222.4,534.3h0.6M231.0,528.1h0.6M204.0,545.9h0.6M221.5,554.0h0.6M227.0,541.8h0.6M225.4,527.6h0.6M227.8,537.2h0.6M208.0,529.8h0.6M202.7,533.5h0.6M218.1,540.6h0.6M236.7,526.5h0.6M208.1,525.7h0.6M221.5,538.2h0.6M203.2,534.2h0.6M212.7,529.6h0.6M219.5,527.0h0.6M208.9,532.6h0.6" stroke="#666" stroke-width="0.6" fill="none"/>
<path d="M196.5,501.8 L222.5,500.40000000000003 L242.5,498.40000000000003 Q249.5,497.20000000000005 251.3,499.1 Q251.5,501.6 248.5,505.6 Q243.5,512.6 239.5,518.6 Q235.5,524.1 229.5,525.6 L217.5,526.1 L207.5,525.1 L196.5,524.6 Z" fill="#0c0c0c" filter="url(#bl15)"/>
<path d="M217.50,507.80 C218.17,507.30 226.67,506.80 230.50,506.10 C234.33,505.40 237.83,504.22 240.50,503.60 C243.17,502.98 245.25,502.15 246.50,502.40 C247.75,502.65 248.33,503.98 248.00,505.10 C247.67,506.22 246.42,508.27 244.50,509.10 C242.58,509.93 239.50,510.10 236.50,510.10 C233.50,510.10 229.67,509.48 226.50,509.10 C223.33,508.72 216.83,508.30 217.50,507.80 Z" fill="none" stroke="#ddd" stroke-width="0.8"/>
<path d="M218.5,507.8 Q232.5,507.40000000000003 243.5,506.6" fill="none" stroke="#fff" stroke-width="1.0"/>
<path d="M266.2,520.3h0.6M262.1,534.1h0.6M265.6,531.6h0.6M265.2,523.7h0.6M266.4,531.8h0.6M253.4,529.7h0.6M260.6,519.7h0.6M256.7,519.0h0.6M251.6,524.0h0.6M254.2,527.4h0.6M263.0,531.9h0.6M264.2,547.4h0.6M264.8,548.9h0.6M259.7,540.1h0.6" stroke="#888" stroke-width="0.6" fill="none"/>
</g>
<path d="M199.3,549.4H202.5M207.9,554.8V558.0M200.5,550.9H202.5M206.4,554.8V556.8M200.5,551.8H202.5M205.5,554.8V556.8M200.5,552.5H202.5M204.8,554.8V556.8M199.3,549.4H202.5M207.9,554.8V558.0M200.5,545.0H202.5M212.3,554.8V556.8M200.5,542.5H202.5M214.8,554.8V556.8M200.5,540.7H202.5M216.6,554.8V556.8M200.5,539.3H202.5M218.0,554.8V556.8M200.5,538.1H202.5M219.2,554.8V556.8M200.5,537.1H202.5M220.2,554.8V556.8M200.5,536.3H202.5M221.0,554.8V556.8M200.5,535.6H202.5M221.7,554.8V556.8M199.3,534.9H202.5M222.4,554.8V558.0M200.5,530.5H202.5M226.8,554.8V556.8M200.5,528.0H202.5M229.3,554.8V556.8M200.5,526.2H202.5M231.1,554.8V556.8M200.5,524.8H202.5M232.5,554.8V556.8M200.5,523.6H202.5M233.7,554.8V556.8M200.5,522.6H202.5M234.7,554.8V556.8M200.5,521.8H202.5M235.5,554.8V556.8M200.5,521.1H202.5M236.2,554.8V556.8M199.3,520.4H202.5M236.9,554.8V558.0M200.5,516.0H202.5M241.3,554.8V556.8M200.5,513.5H202.5M243.8,554.8V556.8M200.5,511.7H202.5M245.6,554.8V556.8M200.5,510.3H202.5M247.0,554.8V556.8M200.5,509.1H202.5M248.2,554.8V556.8M200.5,508.1H202.5M249.2,554.8V556.8M200.5,507.3H202.5M250.0,554.8V556.8M200.5,506.6H202.5M250.7,554.8V556.8M199.3,505.9H202.5M251.4,554.8V558.0M200.5,501.5H202.5M255.8,554.8V556.8M200.5,499.0H202.5M258.3,554.8V556.8M200.5,497.2H202.5M260.1,554.8V556.8M200.5,495.8H202.5M261.5,554.8V556.8M200.5,494.6H202.5M262.7,554.8V556.8M200.5,493.6H202.5M263.7,554.8V556.8M200.5,492.8H202.5M264.5,554.8V556.8M200.5,492.1H202.5M265.2,554.8V556.8M199.3,491.4H202.5M265.9,554.8V558.0M200.5,487.0H202.5M270.3,554.8V556.8" stroke="#111" stroke-width="0.9" fill="none"/>
<path d="M205.5,557.8L207.0,554.8L208.5,557.8L210.0,554.8M199.5,551.8L202.5,550.3L199.5,548.8" stroke="#222" stroke-width="1" fill="none"/>
<rect x="202.50" y="484.60" width="70.20" height="70.20" fill="none" stroke="#111" stroke-width="1.0"/>
<rect x="249.30" y="516.30" width="19.20" height="37.50" fill="none" stroke="#666" stroke-width="0.8"/>
<text x="258.90" y="552.60" font-size="7" text-anchor="middle" fill="#111">0.003</text>
<text x="34.10" y="521.90" font-size="10" text-anchor="middle" fill="#111" textLength="31.00" lengthAdjust="spacingAndGlyphs" transform="rotate(-90 34.10 521.90)">CD45.1</text>
<text x="76.80" y="570.20" font-size="10" text-anchor="middle" fill="#111" textLength="32.00" lengthAdjust="spacingAndGlyphs">CD45.2</text>
<line x1="99.60" y1="554.80" x2="99.60" y2="565.30" stroke="#111" stroke-width="1.0"/>
<line x1="95.70" y1="565.30" x2="262.20" y2="565.30" stroke="#111" stroke-width="1.0"/>
<path d="M260.40,563.00 L266.20,565.30 L260.40,567.60 L261.60,565.30 Z" fill="#111"/>
<line x1="99.60" y1="565.30" x2="99.60" y2="574.20" stroke="#111" stroke-width="1.0" stroke-dasharray="2.8,1.6"/>
<path d="M97.40,572.70 L99.60,578.20 L101.80,572.70 L99.60,573.80 Z" fill="#111"/>
<!--GM0-->
<clipPath id="cGM0"><rect x="42.80" y="580.50" width="70.20" height="69.70"/></clipPath>
<g clip-path="url(#cGM0)">
<path d="M47.80,638.50 C48.63,637.17 50.97,636.92 52.80,636.50 C54.63,636.08 57.47,637.00 58.80,636.00 C60.13,635.00 59.63,631.67 60.80,630.50 C61.97,629.33 63.97,629.17 65.80,629.00 C67.63,628.83 70.30,628.75 71.80,629.50 C73.30,630.25 73.80,632.17 74.80,633.50 C75.80,634.83 76.97,636.17 77.80,637.50 C78.63,638.83 79.55,640.17 79.80,641.50 C80.05,642.83 80.13,644.42 79.30,645.50 C78.47,646.58 77.55,647.50 74.80,648.00 C72.05,648.50 66.47,648.50 62.80,648.50 C59.13,648.50 55.30,648.67 52.80,648.00 C50.30,647.33 48.63,646.08 47.80,644.50 C46.97,642.92 46.97,639.83 47.80,638.50 Z" fill="#e0e0e0" stroke="#888" stroke-width="0.7"/>
<path d="M50.65,639.10 C51.36,637.97 53.34,637.75 54.90,637.40 C56.46,637.05 58.87,637.83 60.00,636.98 C61.13,636.12 60.71,633.29 61.70,632.30 C62.69,631.31 64.39,631.17 65.95,631.02 C67.51,630.88 69.78,630.81 71.05,631.45 C72.32,632.09 72.75,633.72 73.60,634.85 C74.45,635.98 75.44,637.12 76.15,638.25 C76.86,639.38 77.64,640.52 77.85,641.65 C78.06,642.78 78.13,644.13 77.42,645.05 C76.72,645.97 75.94,646.75 73.60,647.17 C71.26,647.60 66.52,647.60 63.40,647.60 C60.28,647.60 57.02,647.74 54.90,647.17 C52.77,646.61 51.36,645.55 50.65,644.20 C49.94,642.85 49.94,640.23 50.65,639.10 Z" fill="none" stroke="#666" stroke-width="0.8"/>
<path d="M53.50,639.70 C54.08,638.77 55.72,638.59 57.00,638.30 C58.28,638.01 60.27,638.65 61.20,637.95 C62.13,637.25 61.78,634.92 62.60,634.10 C63.42,633.28 64.82,633.17 66.10,633.05 C67.38,632.93 69.25,632.88 70.30,633.40 C71.35,633.92 71.70,635.27 72.40,636.20 C73.10,637.13 73.92,638.07 74.50,639.00 C75.08,639.93 75.72,640.87 75.90,641.80 C76.07,642.73 76.13,643.84 75.55,644.60 C74.97,645.36 74.32,646.00 72.40,646.35 C70.47,646.70 66.57,646.70 64.00,646.70 C61.43,646.70 58.75,646.82 57.00,646.35 C55.25,645.88 54.08,645.01 53.50,643.90 C52.92,642.79 52.92,640.63 53.50,639.70 Z" fill="#aaa" stroke="#444" stroke-width="1.0"/>
<path d="M56.35,640.30 C56.81,639.57 58.09,639.43 59.10,639.20 C60.11,638.97 61.67,639.47 62.40,638.92 C63.13,638.38 62.86,636.54 63.50,635.90 C64.14,635.26 65.24,635.17 66.25,635.08 C67.26,634.98 68.72,634.94 69.55,635.35 C70.38,635.76 70.65,636.82 71.20,637.55 C71.75,638.28 72.39,639.02 72.85,639.75 C73.31,640.48 73.81,641.22 73.95,641.95 C74.09,642.68 74.13,643.55 73.67,644.15 C73.22,644.75 72.71,645.25 71.20,645.52 C69.69,645.80 66.62,645.80 64.60,645.80 C62.58,645.80 60.47,645.89 59.10,645.52 C57.72,645.16 56.81,644.47 56.35,643.60 C55.89,642.73 55.89,641.03 56.35,640.30 Z" fill="none" stroke="#222" stroke-width="1.2"/>
<path d="M59.58,640.98 C59.90,640.47 60.78,640.38 61.48,640.22 C62.18,640.06 63.25,640.41 63.76,640.03 C64.27,639.65 64.08,638.38 64.52,637.94 C64.96,637.50 65.72,637.43 66.42,637.37 C67.12,637.31 68.13,637.27 68.70,637.56 C69.27,637.84 69.46,638.57 69.84,639.08 C70.22,639.59 70.66,640.09 70.98,640.60 C71.30,641.11 71.64,641.61 71.74,642.12 C71.83,642.63 71.87,643.23 71.55,643.64 C71.23,644.05 70.89,644.40 69.84,644.59 C68.80,644.78 66.67,644.78 65.28,644.78 C63.89,644.78 62.43,644.84 61.48,644.59 C60.53,644.34 59.90,643.86 59.58,643.26 C59.26,642.66 59.26,641.49 59.58,640.98 Z" fill="#666" stroke="#111" stroke-width="1.1"/>
<path d="M63.00,641.70 C63.17,641.43 63.63,641.38 64.00,641.30 C64.37,641.22 64.93,641.40 65.20,641.20 C65.47,641.00 65.37,640.33 65.60,640.10 C65.83,639.87 66.23,639.83 66.60,639.80 C66.97,639.77 67.50,639.75 67.80,639.90 C68.10,640.05 68.20,640.43 68.40,640.70 C68.60,640.97 68.83,641.23 69.00,641.50 C69.17,641.77 69.35,642.03 69.40,642.30 C69.45,642.57 69.47,642.88 69.30,643.10 C69.13,643.32 68.95,643.50 68.40,643.60 C67.85,643.70 66.73,643.70 66.00,643.70 C65.27,643.70 64.50,643.73 64.00,643.60 C63.50,643.47 63.17,643.22 63.00,642.90 C62.83,642.58 62.83,641.97 63.00,641.70 Z" fill="#ccc" stroke="#222" stroke-width="0.9"/>
<path d="M83.80,637.50 C84.30,636.50 85.63,635.58 86.80,635.50 C87.97,635.42 89.47,636.92 90.80,637.00 C92.13,637.08 93.30,636.08 94.80,636.00 C96.30,635.92 98.47,635.92 99.80,636.50 C101.13,637.08 102.30,638.25 102.80,639.50 C103.30,640.75 103.47,642.83 102.80,644.00 C102.13,645.17 100.47,646.08 98.80,646.50 C97.13,646.92 94.80,646.75 92.80,646.50 C90.80,646.25 88.30,645.83 86.80,645.00 C85.30,644.17 84.30,642.75 83.80,641.50 C83.30,640.25 83.30,638.50 83.80,637.50 Z" fill="#eee" stroke="#888" stroke-width="0.7"/>
<path d="M86.00,638.30 C86.40,637.50 87.47,636.77 88.40,636.70 C89.33,636.63 90.53,637.83 91.60,637.90 C92.67,637.97 93.60,637.17 94.80,637.10 C96.00,637.03 97.73,637.03 98.80,637.50 C99.87,637.97 100.80,638.90 101.20,639.90 C101.60,640.90 101.73,642.57 101.20,643.50 C100.67,644.43 99.33,645.17 98.00,645.50 C96.67,645.83 94.80,645.70 93.20,645.50 C91.60,645.30 89.60,644.97 88.40,644.30 C87.20,643.63 86.40,642.50 86.00,641.50 C85.60,640.50 85.60,639.10 86.00,638.30 Z" fill="none" stroke="#666" stroke-width="0.8"/>
<path d="M88.20,639.10 C88.50,638.50 89.30,637.95 90.00,637.90 C90.70,637.85 91.60,638.75 92.40,638.80 C93.20,638.85 93.90,638.25 94.80,638.20 C95.70,638.15 97.00,638.15 97.80,638.50 C98.60,638.85 99.30,639.55 99.60,640.30 C99.90,641.05 100.00,642.30 99.60,643.00 C99.20,643.70 98.20,644.25 97.20,644.50 C96.20,644.75 94.80,644.65 93.60,644.50 C92.40,644.35 90.90,644.10 90.00,643.60 C89.10,643.10 88.50,642.25 88.20,641.50 C87.90,640.75 87.90,639.70 88.20,639.10 Z" fill="#999" stroke="#333" stroke-width="0.9"/>
<path d="M90.40,639.90 C90.60,639.50 91.13,639.13 91.60,639.10 C92.07,639.07 92.67,639.67 93.20,639.70 C93.73,639.73 94.20,639.33 94.80,639.30 C95.40,639.27 96.27,639.27 96.80,639.50 C97.33,639.73 97.80,640.20 98.00,640.70 C98.20,641.20 98.27,642.03 98.00,642.50 C97.73,642.97 97.07,643.33 96.40,643.50 C95.73,643.67 94.80,643.60 94.00,643.50 C93.20,643.40 92.20,643.23 91.60,642.90 C91.00,642.57 90.60,642.00 90.40,641.50 C90.20,641.00 90.20,640.30 90.40,639.90 Z" fill="#555" stroke="#111" stroke-width="1"/>
<path d="M92.60,640.70 C92.70,640.50 92.97,640.32 93.20,640.30 C93.43,640.28 93.73,640.58 94.00,640.60 C94.27,640.62 94.50,640.42 94.80,640.40 C95.10,640.38 95.53,640.38 95.80,640.50 C96.07,640.62 96.30,640.85 96.40,641.10 C96.50,641.35 96.53,641.77 96.40,642.00 C96.27,642.23 95.93,642.42 95.60,642.50 C95.27,642.58 94.80,642.55 94.40,642.50 C94.00,642.45 93.50,642.37 93.20,642.20 C92.90,642.03 92.70,641.75 92.60,641.50 C92.50,641.25 92.50,640.90 92.60,640.70 Z" fill="#ddd" stroke="#222" stroke-width="0.8"/>
<circle cx="67.00" cy="621.50" r="2" fill="#ccc" stroke="#999" stroke-width="0.7"/>
<circle cx="74.10" cy="622.50" r="2" fill="#ccc" stroke="#999" stroke-width="0.7"/>
<circle cx="76.90" cy="628.40" r="2" fill="#ccc" stroke="#999" stroke-width="0.7"/>
<circle cx="85.60" cy="635.80" r="2" fill="#ccc" stroke="#999" stroke-width="0.7"/>
</g>
<path d="M39.6,644.8H42.8M48.2,650.2V653.4M40.8,646.3H42.8M46.7,650.2V652.2M40.8,647.2H42.8M45.8,650.2V652.2M40.8,647.9H42.8M45.1,650.2V652.2M39.6,644.8H42.8M48.2,650.2V653.4M40.8,640.4H42.8M52.6,650.2V652.2M40.8,637.9H42.8M55.1,650.2V652.2M40.8,636.1H42.8M56.9,650.2V652.2M40.8,634.7H42.8M58.3,650.2V652.2M40.8,633.5H42.8M59.5,650.2V652.2M40.8,632.5H42.8M60.5,650.2V652.2M40.8,631.7H42.8M61.3,650.2V652.2M40.8,631.0H42.8M62.0,650.2V652.2M39.6,630.3H42.8M62.7,650.2V653.4M40.8,625.9H42.8M67.1,650.2V652.2M40.8,623.4H42.8M69.6,650.2V652.2M40.8,621.6H42.8M71.4,650.2V652.2M40.8,620.2H42.8M72.8,650.2V652.2M40.8,619.0H42.8M74.0,650.2V652.2M40.8,618.0H42.8M75.0,650.2V652.2M40.8,617.2H42.8M75.8,650.2V652.2M40.8,616.5H42.8M76.5,650.2V652.2M39.6,615.8H42.8M77.2,650.2V653.4M40.8,611.4H42.8M81.6,650.2V652.2M40.8,608.9H42.8M84.1,650.2V652.2M40.8,607.1H42.8M85.9,650.2V652.2M40.8,605.7H42.8M87.3,650.2V652.2M40.8,604.5H42.8M88.5,650.2V652.2M40.8,603.5H42.8M89.5,650.2V652.2M40.8,602.7H42.8M90.3,650.2V652.2M40.8,602.0H42.8M91.0,650.2V652.2M39.6,601.3H42.8M91.7,650.2V653.4M40.8,596.9H42.8M96.1,650.2V652.2M40.8,594.4H42.8M98.6,650.2V652.2M40.8,592.6H42.8M100.4,650.2V652.2M40.8,591.2H42.8M101.8,650.2V652.2M40.8,590.0H42.8M103.0,650.2V652.2M40.8,589.0H42.8M104.0,650.2V652.2M40.8,588.2H42.8M104.8,650.2V652.2M40.8,587.5H42.8M105.5,650.2V652.2M39.6,586.8H42.8M106.2,650.2V653.4M40.8,582.4H42.8M110.6,650.2V652.2" stroke="#111" stroke-width="0.9" fill="none"/>
<path d="M45.8,653.2L47.3,650.2L48.8,653.2L50.3,650.2M39.8,647.2L42.8,645.7L39.8,644.2" stroke="#222" stroke-width="1" fill="none"/>
<rect x="42.80" y="580.50" width="70.20" height="69.70" fill="none" stroke="#111" stroke-width="1.0"/>
<path d="M76.20,650.2 L76.20,597.2 L113.00,597.2" fill="none" stroke="#555" stroke-width="0.8"/>
<text x="95.10" y="595.00" font-size="7" text-anchor="middle" fill="#111">19.0</text>
<!--GM1-->
<clipPath id="cGM1"><rect x="122.50" y="580.50" width="70.20" height="69.70"/></clipPath>
<g clip-path="url(#cGM1)">
<path d="M123.50,638.50 C124.17,637.25 126.67,638.08 128.50,638.00 C130.33,637.92 133.00,637.58 134.50,638.00 C136.00,638.42 137.17,639.25 137.50,640.50 C137.83,641.75 137.67,644.50 136.50,645.50 C135.33,646.50 132.50,646.50 130.50,646.50 C128.50,646.50 125.67,646.83 124.50,645.50 C123.33,644.17 122.83,639.75 123.50,638.50 Z" fill="#f2f2f2" stroke="#aaa" stroke-width="0.6"/>
<path d="M126.30,639.90 C126.70,639.15 128.20,639.65 129.30,639.60 C130.40,639.55 132.00,639.35 132.90,639.60 C133.80,639.85 134.50,640.35 134.70,641.10 C134.90,641.85 134.80,643.50 134.10,644.10 C133.40,644.70 131.70,644.70 130.50,644.70 C129.30,644.70 127.60,644.90 126.90,644.10 C126.20,643.30 125.90,640.65 126.30,639.90 Z" fill="none" stroke="#aaa" stroke-width="0.6"/>
<path d="M149.50,639.50 C150.33,638.33 153.67,639.17 155.50,639.00 C157.33,638.83 159.17,638.25 160.50,638.50 C161.83,638.75 163.00,639.33 163.50,640.50 C164.00,641.67 164.50,644.58 163.50,645.50 C162.50,646.42 159.67,645.92 157.50,646.00 C155.33,646.08 151.83,647.08 150.50,646.00 C149.17,644.92 148.67,640.67 149.50,639.50 Z" fill="#ccc" stroke="#888" stroke-width="0.7"/>
<path d="M152.30,640.70 C152.80,640.00 154.80,640.50 155.90,640.40 C157.00,640.30 158.10,639.95 158.90,640.10 C159.70,640.25 160.40,640.60 160.70,641.30 C161.00,642.00 161.30,643.75 160.70,644.30 C160.10,644.85 158.40,644.55 157.10,644.60 C155.80,644.65 153.70,645.25 152.90,644.60 C152.10,643.95 151.80,641.40 152.30,640.70 Z" fill="none" stroke="#555" stroke-width="0.8"/>
<path d="M154.40,641.60 C154.65,641.25 155.65,641.50 156.20,641.45 C156.75,641.40 157.30,641.22 157.70,641.30 C158.10,641.38 158.45,641.55 158.60,641.90 C158.75,642.25 158.90,643.12 158.60,643.40 C158.30,643.67 157.45,643.52 156.80,643.55 C156.15,643.57 155.10,643.88 154.70,643.55 C154.30,643.22 154.15,641.95 154.40,641.60 Z" fill="none" stroke="#333" stroke-width="0.8"/>
<path d="M138.00,638.50 C138.42,636.67 139.42,633.92 140.50,632.50 C141.58,631.08 143.17,630.25 144.50,630.00 C145.83,629.75 147.42,630.08 148.50,631.00 C149.58,631.92 150.42,633.92 151.00,635.50 C151.58,637.08 151.92,639.00 152.00,640.50 C152.08,642.00 152.25,643.50 151.50,644.50 C150.75,645.50 149.33,646.17 147.50,646.50 C145.67,646.83 142.08,647.00 140.50,646.50 C138.92,646.00 138.42,644.83 138.00,643.50 C137.58,642.17 137.58,640.33 138.00,638.50 Z" fill="#e4e4e4" stroke="#999" stroke-width="0.6"/>
<path d="M139.03,639.02 C139.39,637.47 140.24,635.13 141.16,633.92 C142.08,632.72 143.43,632.01 144.56,631.80 C145.69,631.59 147.04,631.87 147.96,632.65 C148.88,633.43 149.59,635.13 150.09,636.48 C150.58,637.82 150.86,639.45 150.94,640.73 C151.01,642.00 151.15,643.27 150.51,644.12 C149.87,644.98 148.67,645.54 147.11,645.83 C145.55,646.11 142.51,646.25 141.16,645.83 C139.81,645.40 139.39,644.41 139.03,643.27 C138.68,642.14 138.68,640.58 139.03,639.02 Z" fill="none" stroke="#777" stroke-width="0.7"/>
<path d="M140.07,639.55 C140.36,638.27 141.06,636.34 141.82,635.35 C142.58,634.36 143.69,633.78 144.62,633.60 C145.55,633.42 146.66,633.66 147.42,634.30 C148.18,634.94 148.76,636.34 149.17,637.45 C149.58,638.56 149.81,639.90 149.87,640.95 C149.93,642.00 150.05,643.05 149.52,643.75 C149.00,644.45 148.00,644.92 146.72,645.15 C145.44,645.38 142.93,645.50 141.82,645.15 C140.71,644.80 140.36,643.98 140.07,643.05 C139.78,642.12 139.78,640.83 140.07,639.55 Z" fill="#999" stroke="#444" stroke-width="0.9"/>
<path d="M141.11,640.08 C141.33,639.07 141.88,637.55 142.48,636.77 C143.08,636.00 143.95,635.54 144.68,635.40 C145.41,635.26 146.28,635.45 146.88,635.95 C147.48,636.45 147.93,637.55 148.25,638.42 C148.58,639.30 148.76,640.35 148.81,641.17 C148.85,642.00 148.94,642.83 148.53,643.38 C148.12,643.92 147.34,644.29 146.33,644.48 C145.32,644.66 143.35,644.75 142.48,644.48 C141.61,644.20 141.33,643.56 141.11,642.83 C140.88,642.09 140.88,641.08 141.11,640.08 Z" fill="none" stroke="#111" stroke-width="1.5"/>
<path d="M142.14,640.60 C142.31,639.87 142.71,638.77 143.14,638.20 C143.57,637.63 144.21,637.30 144.74,637.20 C145.27,637.10 145.91,637.23 146.34,637.60 C146.77,637.97 147.11,638.77 147.34,639.40 C147.57,640.03 147.71,640.80 147.74,641.40 C147.77,642.00 147.84,642.60 147.54,643.00 C147.24,643.40 146.67,643.67 145.94,643.80 C145.21,643.93 143.77,644.00 143.14,643.80 C142.51,643.60 142.31,643.13 142.14,642.60 C141.97,642.07 141.97,641.33 142.14,640.60 Z" fill="#eee" stroke="#111" stroke-width="1.2"/>
<path d="M143.38,641.23 C143.47,640.83 143.69,640.22 143.93,639.91 C144.17,639.60 144.52,639.41 144.81,639.36 C145.11,639.31 145.45,639.38 145.69,639.58 C145.93,639.78 146.11,640.22 146.24,640.57 C146.37,640.92 146.44,641.34 146.46,641.67 C146.48,642.00 146.52,642.33 146.35,642.55 C146.19,642.77 145.88,642.92 145.47,642.99 C145.07,643.06 144.28,643.10 143.93,642.99 C143.58,642.88 143.47,642.62 143.38,642.33 C143.29,642.04 143.29,641.63 143.38,641.23 Z" fill="#fff" stroke="#888" stroke-width="0.6"/>
<path d="M162.00,638.50 C162.67,637.00 164.75,636.25 166.50,635.50 C168.25,634.75 170.67,634.00 172.50,634.00 C174.33,634.00 176.17,634.67 177.50,635.50 C178.83,636.33 180.00,637.58 180.50,639.00 C181.00,640.42 181.17,642.75 180.50,644.00 C179.83,645.25 178.67,646.08 176.50,646.50 C174.33,646.92 169.83,646.83 167.50,646.50 C165.17,646.17 163.42,645.83 162.50,644.50 C161.58,643.17 161.33,640.00 162.00,638.50 Z" fill="#ddd" stroke="#999" stroke-width="0.6"/>
<path d="M163.47,638.88 C164.04,637.60 165.81,636.96 167.30,636.33 C168.78,635.69 170.84,635.05 172.40,635.05 C173.95,635.05 175.51,635.62 176.65,636.33 C177.78,637.03 178.77,638.10 179.20,639.30 C179.62,640.50 179.76,642.49 179.20,643.55 C178.63,644.61 177.64,645.32 175.80,645.67 C173.95,646.03 170.13,645.96 168.15,645.67 C166.16,645.39 164.67,645.11 163.90,643.98 C163.12,642.84 162.90,640.15 163.47,638.88 Z" fill="none" stroke="#666" stroke-width="0.8"/>
<path d="M164.94,639.25 C165.41,638.20 166.87,637.67 168.09,637.15 C169.31,636.62 171.01,636.10 172.29,636.10 C173.57,636.10 174.86,636.57 175.79,637.15 C176.72,637.73 177.54,638.61 177.89,639.60 C178.24,640.59 178.36,642.23 177.89,643.10 C177.42,643.98 176.61,644.56 175.09,644.85 C173.57,645.14 170.42,645.08 168.79,644.85 C167.16,644.62 165.93,644.38 165.29,643.45 C164.65,642.52 164.47,640.30 164.94,639.25 Z" fill="#777" stroke="#333" stroke-width="1.1"/>
<path d="M166.90,639.75 C167.23,639.00 168.28,638.62 169.15,638.25 C170.03,637.88 171.23,637.50 172.15,637.50 C173.07,637.50 173.98,637.83 174.65,638.25 C175.32,638.67 175.90,639.29 176.15,640.00 C176.40,640.71 176.48,641.88 176.15,642.50 C175.82,643.12 175.23,643.54 174.15,643.75 C173.07,643.96 170.82,643.92 169.65,643.75 C168.48,643.58 167.61,643.42 167.15,642.75 C166.69,642.08 166.57,640.50 166.90,639.75 Z" fill="#333" stroke="#111" stroke-width="1.2"/>
<path d="M168.86,640.25 C169.06,639.80 169.69,639.58 170.21,639.35 C170.74,639.12 171.46,638.90 172.01,638.90 C172.56,638.90 173.11,639.10 173.51,639.35 C173.91,639.60 174.26,639.98 174.41,640.40 C174.56,640.82 174.61,641.52 174.41,641.90 C174.21,642.27 173.86,642.52 173.21,642.65 C172.56,642.77 171.21,642.75 170.51,642.65 C169.81,642.55 169.29,642.45 169.01,642.05 C168.74,641.65 168.66,640.70 168.86,640.25 Z" fill="#999" stroke="#222" stroke-width="0.9"/>
<circle cx="123.50" cy="637.50" r="2" fill="none" stroke="#aaa" stroke-width="0.6"/>
<circle cx="123.50" cy="643.50" r="2" fill="none" stroke="#aaa" stroke-width="0.6"/>
</g>
<path d="M119.3,644.8H122.5M127.9,650.2V653.4M120.5,646.3H122.5M126.4,650.2V652.2M120.5,647.2H122.5M125.5,650.2V652.2M120.5,647.9H122.5M124.8,650.2V652.2M119.3,644.8H122.5M127.9,650.2V653.4M120.5,640.4H122.5M132.3,650.2V652.2M120.5,637.9H122.5M134.8,650.2V652.2M120.5,636.1H122.5M136.6,650.2V652.2M120.5,634.7H122.5M138.0,650.2V652.2M120.5,633.5H122.5M139.2,650.2V652.2M120.5,632.5H122.5M140.2,650.2V652.2M120.5,631.7H122.5M141.0,650.2V652.2M120.5,631.0H122.5M141.7,650.2V652.2M119.3,630.3H122.5M142.4,650.2V653.4M120.5,625.9H122.5M146.8,650.2V652.2M120.5,623.4H122.5M149.3,650.2V652.2M120.5,621.6H122.5M151.1,650.2V652.2M120.5,620.2H122.5M152.5,650.2V652.2M120.5,619.0H122.5M153.7,650.2V652.2M120.5,618.0H122.5M154.7,650.2V652.2M120.5,617.2H122.5M155.5,650.2V652.2M120.5,616.5H122.5M156.2,650.2V652.2M119.3,615.8H122.5M156.9,650.2V653.4M120.5,611.4H122.5M161.3,650.2V652.2M120.5,608.9H122.5M163.8,650.2V652.2M120.5,607.1H122.5M165.6,650.2V652.2M120.5,605.7H122.5M167.0,650.2V652.2M120.5,604.5H122.5M168.2,650.2V652.2M120.5,603.5H122.5M169.2,650.2V652.2M120.5,602.7H122.5M170.0,650.2V652.2M120.5,602.0H122.5M170.7,650.2V652.2M119.3,601.3H122.5M171.4,650.2V653.4M120.5,596.9H122.5M175.8,650.2V652.2M120.5,594.4H122.5M178.3,650.2V652.2M120.5,592.6H122.5M180.1,650.2V652.2M120.5,591.2H122.5M181.5,650.2V652.2M120.5,590.0H122.5M182.7,650.2V652.2M120.5,589.0H122.5M183.7,650.2V652.2M120.5,588.2H122.5M184.5,650.2V652.2M120.5,587.5H122.5M185.2,650.2V652.2M119.3,586.8H122.5M185.9,650.2V653.4M120.5,582.4H122.5M190.3,650.2V652.2" stroke="#111" stroke-width="0.9" fill="none"/>
<path d="M125.5,653.2L127.0,650.2L128.5,653.2L130.0,650.2M119.5,647.2L122.5,645.7L119.5,644.2" stroke="#222" stroke-width="1" fill="none"/>
<rect x="122.50" y="580.50" width="70.20" height="69.70" fill="none" stroke="#111" stroke-width="1.0"/>
<path d="M155.80,650.2 L155.80,597.2 L192.70,597.2" fill="none" stroke="#555" stroke-width="0.8"/>
<text x="174.75" y="595.00" font-size="7" text-anchor="middle" fill="#111">45.3</text>
<!--GM2-->
<clipPath id="cGM2"><rect x="202.50" y="580.50" width="70.20" height="69.70"/></clipPath>
<g clip-path="url(#cGM2)">
<path d="M203.00,638.50 C203.75,637.25 205.92,636.50 207.50,636.00 C209.08,635.50 211.00,635.25 212.50,635.50 C214.00,635.75 216.00,636.00 216.50,637.50 C217.00,639.00 217.00,643.17 215.50,644.50 C214.00,645.83 209.58,645.67 207.50,645.50 C205.42,645.33 203.75,644.67 203.00,643.50 C202.25,642.33 202.25,639.75 203.00,638.50 Z" fill="#f0f0f0" stroke="#aaa" stroke-width="0.6"/>
<path d="M205.60,639.30 C206.05,638.55 207.35,638.10 208.30,637.80 C209.25,637.50 210.40,637.35 211.30,637.50 C212.20,637.65 213.40,637.80 213.70,638.70 C214.00,639.60 214.00,642.10 213.10,642.90 C212.20,643.70 209.55,643.60 208.30,643.50 C207.05,643.40 206.05,643.00 205.60,642.30 C205.15,641.60 205.15,640.05 205.60,639.30 Z" fill="none" stroke="#aaa" stroke-width="0.6"/>
<path d="M214.50,640.50 C214.83,638.75 216.17,636.83 217.50,635.50 C218.83,634.17 221.00,633.50 222.50,632.50 C224.00,631.50 225.50,630.58 226.50,629.50 C227.50,628.42 227.50,626.50 228.50,626.00 C229.50,625.50 231.50,625.75 232.50,626.50 C233.50,627.25 234.08,628.83 234.50,630.50 C234.92,632.17 235.00,634.50 235.00,636.50 C235.00,638.50 235.08,640.75 234.50,642.50 C233.92,644.25 233.50,646.17 231.50,647.00 C229.50,647.83 225.17,647.67 222.50,647.50 C219.83,647.33 216.83,647.17 215.50,646.00 C214.17,644.83 214.17,642.25 214.50,640.50 Z" fill="#e4e4e4" stroke="#999" stroke-width="0.6"/>
<path d="M215.85,640.65 C216.13,639.16 217.27,637.53 218.40,636.40 C219.53,635.27 221.38,634.70 222.65,633.85 C223.93,633.00 225.20,632.22 226.05,631.30 C226.90,630.38 226.90,628.75 227.75,628.33 C228.60,627.90 230.30,628.11 231.15,628.75 C232.00,629.39 232.50,630.73 232.85,632.15 C233.20,633.57 233.28,635.55 233.28,637.25 C233.28,638.95 233.35,640.86 232.85,642.35 C232.35,643.84 232.00,645.47 230.30,646.17 C228.60,646.88 224.92,646.74 222.65,646.60 C220.38,646.46 217.83,646.32 216.70,645.33 C215.57,644.33 215.57,642.14 215.85,640.65 Z" fill="none" stroke="#666" stroke-width="0.8"/>
<path d="M217.20,640.80 C217.43,639.57 218.37,638.23 219.30,637.30 C220.23,636.37 221.75,635.90 222.80,635.20 C223.85,634.50 224.90,633.86 225.60,633.10 C226.30,632.34 226.30,631.00 227.00,630.65 C227.70,630.30 229.10,630.48 229.80,631.00 C230.50,631.52 230.91,632.63 231.20,633.80 C231.49,634.97 231.55,636.60 231.55,638.00 C231.55,639.40 231.61,640.98 231.20,642.20 C230.79,643.43 230.50,644.77 229.10,645.35 C227.70,645.93 224.67,645.82 222.80,645.70 C220.93,645.58 218.83,645.47 217.90,644.65 C216.97,643.83 216.97,642.02 217.20,640.80 Z" fill="#999" stroke="#444" stroke-width="1.0"/>
<path d="M218.55,640.95 C218.73,639.99 219.47,638.93 220.20,638.20 C220.93,637.47 222.12,637.10 222.95,636.55 C223.77,636.00 224.60,635.50 225.15,634.90 C225.70,634.30 225.70,633.25 226.25,632.98 C226.80,632.70 227.90,632.84 228.45,633.25 C229.00,633.66 229.32,634.53 229.55,635.45 C229.78,636.37 229.82,637.65 229.82,638.75 C229.82,639.85 229.87,641.09 229.55,642.05 C229.23,643.01 229.00,644.07 227.90,644.52 C226.80,644.98 224.42,644.89 222.95,644.80 C221.48,644.71 219.83,644.62 219.10,643.98 C218.37,643.33 218.37,641.91 218.55,640.95 Z" fill="#555" stroke="#111" stroke-width="1.3"/>
<path d="M220.08,641.12 C220.21,640.46 220.71,639.73 221.22,639.22 C221.73,638.71 222.55,638.46 223.12,638.08 C223.69,637.70 224.26,637.35 224.64,636.94 C225.02,636.53 225.02,635.80 225.40,635.61 C225.78,635.42 226.54,635.51 226.92,635.80 C227.30,636.08 227.52,636.69 227.68,637.32 C227.84,637.95 227.87,638.84 227.87,639.60 C227.87,640.36 227.90,641.22 227.68,641.88 C227.46,642.54 227.30,643.27 226.54,643.59 C225.78,643.91 224.13,643.84 223.12,643.78 C222.11,643.72 220.97,643.65 220.46,643.21 C219.95,642.77 219.95,641.78 220.08,641.12 Z" fill="#777" stroke="#111" stroke-width="1"/>
<path d="M221.70,641.30 C221.77,640.95 222.03,640.57 222.30,640.30 C222.57,640.03 223.00,639.90 223.30,639.70 C223.60,639.50 223.90,639.32 224.10,639.10 C224.30,638.88 224.30,638.50 224.50,638.40 C224.70,638.30 225.10,638.35 225.30,638.50 C225.50,638.65 225.62,638.97 225.70,639.30 C225.78,639.63 225.80,640.10 225.80,640.50 C225.80,640.90 225.82,641.35 225.70,641.70 C225.58,642.05 225.50,642.43 225.10,642.60 C224.70,642.77 223.83,642.73 223.30,642.70 C222.77,642.67 222.17,642.63 221.90,642.40 C221.63,642.17 221.63,641.65 221.70,641.30 Z" fill="#bbb" stroke="#333" stroke-width="0.8"/>
<path d="M236.50,640.50 C236.83,639.08 238.17,637.33 239.50,636.50 C240.83,635.67 242.67,635.58 244.50,635.50 C246.33,635.42 248.67,635.58 250.50,636.00 C252.33,636.42 254.33,637.08 255.50,638.00 C256.67,638.92 257.33,640.25 257.50,641.50 C257.67,642.75 257.33,644.50 256.50,645.50 C255.67,646.50 254.83,647.17 252.50,647.50 C250.17,647.83 245.00,647.92 242.50,647.50 C240.00,647.08 238.50,646.17 237.50,645.00 C236.50,643.83 236.17,641.92 236.50,640.50 Z" fill="#eee" stroke="#999" stroke-width="0.6"/>
<path d="M238.80,640.80 C239.07,639.67 240.13,638.27 241.20,637.60 C242.27,636.93 243.73,636.87 245.20,636.80 C246.67,636.73 248.53,636.87 250.00,637.20 C251.47,637.53 253.07,638.07 254.00,638.80 C254.93,639.53 255.47,640.60 255.60,641.60 C255.73,642.60 255.47,644.00 254.80,644.80 C254.13,645.60 253.47,646.13 251.60,646.40 C249.73,646.67 245.60,646.73 243.60,646.40 C241.60,646.07 240.40,645.33 239.60,644.40 C238.80,643.47 238.53,641.93 238.80,640.80 Z" fill="none" stroke="#777" stroke-width="0.8"/>
<path d="M241.10,641.10 C241.30,640.25 242.10,639.20 242.90,638.70 C243.70,638.20 244.80,638.15 245.90,638.10 C247.00,638.05 248.40,638.15 249.50,638.40 C250.60,638.65 251.80,639.05 252.50,639.60 C253.20,640.15 253.60,640.95 253.70,641.70 C253.80,642.45 253.60,643.50 253.10,644.10 C252.60,644.70 252.10,645.10 250.70,645.30 C249.30,645.50 246.20,645.55 244.70,645.30 C243.20,645.05 242.30,644.50 241.70,643.80 C241.10,643.10 240.90,641.95 241.10,641.10 Z" fill="#aaa" stroke="#555" stroke-width="0.9"/>
<path d="M243.40,641.40 C243.53,640.83 244.07,640.13 244.60,639.80 C245.13,639.47 245.87,639.43 246.60,639.40 C247.33,639.37 248.27,639.43 249.00,639.60 C249.73,639.77 250.53,640.03 251.00,640.40 C251.47,640.77 251.73,641.30 251.80,641.80 C251.87,642.30 251.73,643.00 251.40,643.40 C251.07,643.80 250.73,644.07 249.80,644.20 C248.87,644.33 246.80,644.37 245.80,644.20 C244.80,644.03 244.20,643.67 243.80,643.20 C243.40,642.73 243.27,641.97 243.40,641.40 Z" fill="#777" stroke="#333" stroke-width="1"/>
<path d="M245.70,641.70 C245.77,641.42 246.03,641.07 246.30,640.90 C246.57,640.73 246.93,640.72 247.30,640.70 C247.67,640.68 248.13,640.72 248.50,640.80 C248.87,640.88 249.27,641.02 249.50,641.20 C249.73,641.38 249.87,641.65 249.90,641.90 C249.93,642.15 249.87,642.50 249.70,642.70 C249.53,642.90 249.37,643.03 248.90,643.10 C248.43,643.17 247.40,643.18 246.90,643.10 C246.40,643.02 246.10,642.83 245.90,642.60 C245.70,642.37 245.63,641.98 245.70,641.70 Z" fill="none" stroke="#444" stroke-width="0.8"/>
</g>
<path d="M199.3,644.8H202.5M207.9,650.2V653.4M200.5,646.3H202.5M206.4,650.2V652.2M200.5,647.2H202.5M205.5,650.2V652.2M200.5,647.9H202.5M204.8,650.2V652.2M199.3,644.8H202.5M207.9,650.2V653.4M200.5,640.4H202.5M212.3,650.2V652.2M200.5,637.9H202.5M214.8,650.2V652.2M200.5,636.1H202.5M216.6,650.2V652.2M200.5,634.7H202.5M218.0,650.2V652.2M200.5,633.5H202.5M219.2,650.2V652.2M200.5,632.5H202.5M220.2,650.2V652.2M200.5,631.7H202.5M221.0,650.2V652.2M200.5,631.0H202.5M221.7,650.2V652.2M199.3,630.3H202.5M222.4,650.2V653.4M200.5,625.9H202.5M226.8,650.2V652.2M200.5,623.4H202.5M229.3,650.2V652.2M200.5,621.6H202.5M231.1,650.2V652.2M200.5,620.2H202.5M232.5,650.2V652.2M200.5,619.0H202.5M233.7,650.2V652.2M200.5,618.0H202.5M234.7,650.2V652.2M200.5,617.2H202.5M235.5,650.2V652.2M200.5,616.5H202.5M236.2,650.2V652.2M199.3,615.8H202.5M236.9,650.2V653.4M200.5,611.4H202.5M241.3,650.2V652.2M200.5,608.9H202.5M243.8,650.2V652.2M200.5,607.1H202.5M245.6,650.2V652.2M200.5,605.7H202.5M247.0,650.2V652.2M200.5,604.5H202.5M248.2,650.2V652.2M200.5,603.5H202.5M249.2,650.2V652.2M200.5,602.7H202.5M250.0,650.2V652.2M200.5,602.0H202.5M250.7,650.2V652.2M199.3,601.3H202.5M251.4,650.2V653.4M200.5,596.9H202.5M255.8,650.2V652.2M200.5,594.4H202.5M258.3,650.2V652.2M200.5,592.6H202.5M260.1,650.2V652.2M200.5,591.2H202.5M261.5,650.2V652.2M200.5,590.0H202.5M262.7,650.2V652.2M200.5,589.0H202.5M263.7,650.2V652.2M200.5,588.2H202.5M264.5,650.2V652.2M200.5,587.5H202.5M265.2,650.2V652.2M199.3,586.8H202.5M265.9,650.2V653.4M200.5,582.4H202.5M270.3,650.2V652.2" stroke="#111" stroke-width="0.9" fill="none"/>
<path d="M205.5,653.2L207.0,650.2L208.5,653.2L210.0,650.2M199.5,647.2L202.5,645.7L199.5,644.2" stroke="#222" stroke-width="1" fill="none"/>
<rect x="202.50" y="580.50" width="70.20" height="69.70" fill="none" stroke="#111" stroke-width="1.0"/>
<path d="M235.90,650.2 L235.90,597.2 L272.70,597.2" fill="none" stroke="#555" stroke-width="0.8"/>
<text x="254.80" y="595.00" font-size="7" text-anchor="middle" fill="#111">16.0</text>
<text x="34.10" y="617.00" font-size="10" text-anchor="middle" fill="#111" textLength="17.00" lengthAdjust="spacingAndGlyphs" transform="rotate(-90 34.10 617.00)">SSC</text>
<text x="76.00" y="666.00" font-size="10" text-anchor="middle" fill="#111" textLength="25.80" lengthAdjust="spacingAndGlyphs">NGFR</text>
<line x1="91.80" y1="659.10" x2="262.50" y2="659.10" stroke="#111" stroke-width="1.0"/>
<path d="M260.70,656.80 L266.50,659.10 L260.70,661.40 L261.90,659.10 Z" fill="#111"/>
<line x1="99.60" y1="650.20" x2="99.60" y2="659.10" stroke="#111" stroke-width="1.0"/>
<line x1="99.60" y1="659.10" x2="99.60" y2="670.50" stroke="#111" stroke-width="1.0" stroke-dasharray="2.8,1.6"/>
<path d="M97.40,669.00 L99.60,674.50 L101.80,669.00 L99.60,670.10 Z" fill="#111"/>
<!--GB0-->
<clipPath id="cGB0"><rect x="42.80" y="675.80" width="70.00" height="69.40"/></clipPath>
<g clip-path="url(#cGB0)">
<path d="M82.20,694.40 C82.53,693.65 84.53,692.53 85.80,691.80 C87.07,691.07 88.47,690.17 89.80,690.00 C91.13,689.83 92.72,690.00 93.80,690.80 C94.88,691.60 96.13,693.47 96.30,694.80 C96.47,696.13 95.72,697.80 94.80,698.80 C93.88,699.80 92.13,700.72 90.80,700.80 C89.47,700.88 87.97,700.05 86.80,699.30 C85.63,698.55 84.57,697.12 83.80,696.30 C83.03,695.48 81.87,695.15 82.20,694.40 Z" fill="#f4f4f4" stroke="#111" stroke-width="1.4"/>
<path d="M84.75,694.71 C84.99,694.17 86.43,693.36 87.34,692.84 C88.25,692.31 89.26,691.66 90.22,691.54 C91.18,691.42 92.32,691.54 93.10,692.12 C93.88,692.69 94.78,694.04 94.90,695.00 C95.02,695.96 94.48,697.16 93.82,697.88 C93.16,698.60 91.90,699.26 90.94,699.32 C89.98,699.38 88.90,698.78 88.06,698.24 C87.22,697.70 86.45,696.66 85.90,696.08 C85.35,695.49 84.51,695.25 84.75,694.71 Z" fill="none" stroke="#222" stroke-width="1.0"/>
<path d="M87.48,695.04 C87.62,694.72 88.46,694.25 88.99,693.95 C89.52,693.64 90.11,693.26 90.67,693.19 C91.23,693.12 91.89,693.19 92.35,693.53 C92.80,693.86 93.33,694.65 93.40,695.21 C93.47,695.77 93.16,696.47 92.77,696.89 C92.38,697.31 91.65,697.69 91.09,697.73 C90.53,697.76 89.90,697.41 89.41,697.10 C88.92,696.78 88.47,696.18 88.15,695.84 C87.83,695.49 87.34,695.35 87.48,695.04 Z" fill="#ddd" stroke="#444" stroke-width="0.8"/>
<circle cx="91.8" cy="695.5" r="0.7" fill="#333"/>
<circle cx="69.40" cy="694.40" r="2.1" fill="#999" stroke="#555" stroke-width="0.9"/>
<circle cx="77.30" cy="698.80" r="2.1" fill="#999" stroke="#555" stroke-width="0.9"/>
<circle cx="61.10" cy="711.00" r="2.1" fill="#999" stroke="#555" stroke-width="0.9"/>
<circle cx="67.60" cy="713.80" r="2.1" fill="#999" stroke="#555" stroke-width="0.9"/>
</g>
<path d="M39.6,739.8H42.8M48.2,745.2V748.4M40.8,741.3H42.8M46.7,745.2V747.2M40.8,742.2H42.8M45.8,745.2V747.2M40.8,742.9H42.8M45.1,745.2V747.2M39.6,739.8H42.8M48.2,745.2V748.4M40.8,735.4H42.8M52.6,745.2V747.2M40.8,732.9H42.8M55.1,745.2V747.2M40.8,731.1H42.8M56.9,745.2V747.2M40.8,729.7H42.8M58.3,745.2V747.2M40.8,728.5H42.8M59.5,745.2V747.2M40.8,727.5H42.8M60.5,745.2V747.2M40.8,726.7H42.8M61.3,745.2V747.2M40.8,726.0H42.8M62.0,745.2V747.2M39.6,725.3H42.8M62.7,745.2V748.4M40.8,720.9H42.8M67.1,745.2V747.2M40.8,718.4H42.8M69.6,745.2V747.2M40.8,716.6H42.8M71.4,745.2V747.2M40.8,715.2H42.8M72.8,745.2V747.2M40.8,714.0H42.8M74.0,745.2V747.2M40.8,713.0H42.8M75.0,745.2V747.2M40.8,712.2H42.8M75.8,745.2V747.2M40.8,711.5H42.8M76.5,745.2V747.2M39.6,710.8H42.8M77.2,745.2V748.4M40.8,706.4H42.8M81.6,745.2V747.2M40.8,703.9H42.8M84.1,745.2V747.2M40.8,702.1H42.8M85.9,745.2V747.2M40.8,700.7H42.8M87.3,745.2V747.2M40.8,699.5H42.8M88.5,745.2V747.2M40.8,698.5H42.8M89.5,745.2V747.2M40.8,697.7H42.8M90.3,745.2V747.2M40.8,697.0H42.8M91.0,745.2V747.2M39.6,696.3H42.8M91.7,745.2V748.4M40.8,691.9H42.8M96.1,745.2V747.2M40.8,689.4H42.8M98.6,745.2V747.2M40.8,687.6H42.8M100.4,745.2V747.2M40.8,686.2H42.8M101.8,745.2V747.2M40.8,685.0H42.8M103.0,745.2V747.2M40.8,684.0H42.8M104.0,745.2V747.2M40.8,683.2H42.8M104.8,745.2V747.2M40.8,682.5H42.8M105.5,745.2V747.2M39.6,681.8H42.8M106.2,745.2V748.4M40.8,677.4H42.8M110.6,745.2V747.2" stroke="#111" stroke-width="0.9" fill="none"/>
<path d="M45.8,748.2L47.3,745.2L48.8,748.2L50.3,745.2M39.8,742.2L42.8,740.7L39.8,739.2" stroke="#222" stroke-width="1" fill="none"/>
<line x1="81.20" y1="675.80" x2="81.20" y2="745.20" stroke="#5a5a5a" stroke-width="0.85"/>
<line x1="42.80" y1="702.50" x2="112.80" y2="702.50" stroke="#5a5a5a" stroke-width="0.85"/>
<rect x="42.80" y="675.80" width="70.00" height="69.40" fill="none" stroke="#111" stroke-width="1.0"/>
<text x="45.10" y="683.60" font-size="7.5" text-anchor="start" fill="#111">12.5</text>
<text x="109.60" y="683.60" font-size="7.5" text-anchor="end" fill="#111">75.0</text>
<text x="45.10" y="743.20" font-size="7.5" text-anchor="start" fill="#111">12.5</text>
<text x="109.60" y="743.20" font-size="7.5" text-anchor="end" fill="#111">0.0</text>
<!--GB1-->
<clipPath id="cGB1"><rect x="122.50" y="675.80" width="70.00" height="69.40"/></clipPath>
<g clip-path="url(#cGB1)">
<path d="M164.50,692.80 C165.00,691.55 166.33,689.97 167.50,689.30 C168.67,688.63 170.17,688.55 171.50,688.80 C172.83,689.05 174.67,689.63 175.50,690.80 C176.33,691.97 176.67,694.30 176.50,695.80 C176.33,697.30 175.50,698.88 174.50,699.80 C173.50,700.72 171.58,700.47 170.50,701.30 C169.42,702.13 168.67,704.38 168.00,704.80 C167.33,705.22 166.75,704.63 166.50,703.80 C166.25,702.97 166.83,700.97 166.50,699.80 C166.17,698.63 164.83,697.97 164.50,696.80 C164.17,695.63 164.00,694.05 164.50,692.80 Z" fill="#f0f0f0" stroke="#aaa" stroke-width="0.6"/>
<path d="M165.47,693.17 C165.90,692.11 167.03,690.77 168.03,690.20 C169.02,689.63 170.29,689.56 171.43,689.77 C172.56,689.99 174.12,690.48 174.82,691.47 C175.53,692.47 175.82,694.45 175.68,695.72 C175.53,697.00 174.82,698.35 173.97,699.12 C173.12,699.90 171.50,699.69 170.57,700.40 C169.65,701.11 169.02,703.02 168.45,703.38 C167.88,703.73 167.39,703.23 167.18,702.52 C166.96,701.82 167.46,700.12 167.18,699.12 C166.89,698.13 165.76,697.57 165.47,696.57 C165.19,695.58 165.05,694.24 165.47,693.17 Z" fill="none" stroke="#888" stroke-width="0.6"/>
<circle cx="170.80" cy="695.00" r="4.6" fill="none" stroke="#666" stroke-width="0.7"/>
<circle cx="170.80" cy="695.00" r="3.6" fill="#bbb" stroke="#333" stroke-width="1.0"/>
<circle cx="170.80" cy="695.00" r="2.5" fill="#444" stroke="#111" stroke-width="1.2"/>
<circle cx="170.80" cy="695.00" r="1.4" fill="#111" stroke="#111" stroke-width="1.0"/>
<circle cx="170.80" cy="695.00" r="0.6" fill="#fff"/>
<circle cx="158.40" cy="693.90" r="1.3" fill="none" stroke="#888" stroke-width="0.6"/>
<circle cx="167.20" cy="704.30" r="1.3" fill="none" stroke="#888" stroke-width="0.6"/>
<circle cx="132.20" cy="714.10" r="1.3" fill="none" stroke="#888" stroke-width="0.6"/>
<circle cx="146.00" cy="711.80" r="1.3" fill="none" stroke="#888" stroke-width="0.6"/>
</g>
<path d="M119.3,739.8H122.5M127.9,745.2V748.4M120.5,741.3H122.5M126.4,745.2V747.2M120.5,742.2H122.5M125.5,745.2V747.2M120.5,742.9H122.5M124.8,745.2V747.2M119.3,739.8H122.5M127.9,745.2V748.4M120.5,735.4H122.5M132.3,745.2V747.2M120.5,732.9H122.5M134.8,745.2V747.2M120.5,731.1H122.5M136.6,745.2V747.2M120.5,729.7H122.5M138.0,745.2V747.2M120.5,728.5H122.5M139.2,745.2V747.2M120.5,727.5H122.5M140.2,745.2V747.2M120.5,726.7H122.5M141.0,745.2V747.2M120.5,726.0H122.5M141.7,745.2V747.2M119.3,725.3H122.5M142.4,745.2V748.4M120.5,720.9H122.5M146.8,745.2V747.2M120.5,718.4H122.5M149.3,745.2V747.2M120.5,716.6H122.5M151.1,745.2V747.2M120.5,715.2H122.5M152.5,745.2V747.2M120.5,714.0H122.5M153.7,745.2V747.2M120.5,713.0H122.5M154.7,745.2V747.2M120.5,712.2H122.5M155.5,745.2V747.2M120.5,711.5H122.5M156.2,745.2V747.2M119.3,710.8H122.5M156.9,745.2V748.4M120.5,706.4H122.5M161.3,745.2V747.2M120.5,703.9H122.5M163.8,745.2V747.2M120.5,702.1H122.5M165.6,745.2V747.2M120.5,700.7H122.5M167.0,745.2V747.2M120.5,699.5H122.5M168.2,745.2V747.2M120.5,698.5H122.5M169.2,745.2V747.2M120.5,697.7H122.5M170.0,745.2V747.2M120.5,697.0H122.5M170.7,745.2V747.2M119.3,696.3H122.5M171.4,745.2V748.4M120.5,691.9H122.5M175.8,745.2V747.2M120.5,689.4H122.5M178.3,745.2V747.2M120.5,687.6H122.5M180.1,745.2V747.2M120.5,686.2H122.5M181.5,745.2V747.2M120.5,685.0H122.5M182.7,745.2V747.2M120.5,684.0H122.5M183.7,745.2V747.2M120.5,683.2H122.5M184.5,745.2V747.2M120.5,682.5H122.5M185.2,745.2V747.2M119.3,681.8H122.5M185.9,745.2V748.4M120.5,677.4H122.5M190.3,745.2V747.2" stroke="#111" stroke-width="0.9" fill="none"/>
<path d="M125.5,748.2L127.0,745.2L128.5,748.2L130.0,745.2M119.5,742.2L122.5,740.7L119.5,739.2" stroke="#222" stroke-width="1" fill="none"/>
<line x1="161.30" y1="675.80" x2="161.30" y2="745.20" stroke="#5a5a5a" stroke-width="0.85"/>
<line x1="122.50" y1="702.50" x2="192.50" y2="702.50" stroke="#5a5a5a" stroke-width="0.85"/>
<rect x="122.50" y="675.80" width="70.00" height="69.40" fill="none" stroke="#111" stroke-width="1.0"/>
<text x="124.80" y="683.60" font-size="7.5" text-anchor="start" fill="#111">1.2</text>
<text x="189.30" y="683.60" font-size="7.5" text-anchor="end" fill="#111">95.1</text>
<text x="124.80" y="743.20" font-size="7.5" text-anchor="start" fill="#111">2.5</text>
<text x="189.30" y="743.20" font-size="7.5" text-anchor="end" fill="#111">1.2</text>
<!--GB2-->
<clipPath id="cGB2"><rect x="202.50" y="675.80" width="70.00" height="69.40"/></clipPath>
<g clip-path="url(#cGB2)">
<circle cx="249.90" cy="694.50" r="5.4" fill="#ddd" stroke="#888" stroke-width="0.6"/>
<circle cx="249.90" cy="694.50" r="4.4" fill="none" stroke="#444" stroke-width="1.0"/>
<circle cx="249.90" cy="694.50" r="3.2" fill="#444" stroke="#111" stroke-width="1.4"/>
<circle cx="249.90" cy="694.50" r="1.9" fill="#111" stroke="#111" stroke-width="1.0"/>
<circle cx="249.90" cy="694.50" r="0.7" fill="#fff"/>
<ellipse cx="250.60" cy="706.00" rx="3.8" ry="2.0" fill="#e4e4e4" stroke="#888" stroke-width="0.7"/>
<ellipse cx="250.60" cy="706.00" rx="2.2" ry="1.0" fill="none" stroke="#999" stroke-width="0.6"/>
<circle cx="232.60" cy="718.00" r="1.3" fill="none" stroke="#888" stroke-width="0.6"/>
</g>
<path d="M199.3,739.8H202.5M207.9,745.2V748.4M200.5,741.3H202.5M206.4,745.2V747.2M200.5,742.2H202.5M205.5,745.2V747.2M200.5,742.9H202.5M204.8,745.2V747.2M199.3,739.8H202.5M207.9,745.2V748.4M200.5,735.4H202.5M212.3,745.2V747.2M200.5,732.9H202.5M214.8,745.2V747.2M200.5,731.1H202.5M216.6,745.2V747.2M200.5,729.7H202.5M218.0,745.2V747.2M200.5,728.5H202.5M219.2,745.2V747.2M200.5,727.5H202.5M220.2,745.2V747.2M200.5,726.7H202.5M221.0,745.2V747.2M200.5,726.0H202.5M221.7,745.2V747.2M199.3,725.3H202.5M222.4,745.2V748.4M200.5,720.9H202.5M226.8,745.2V747.2M200.5,718.4H202.5M229.3,745.2V747.2M200.5,716.6H202.5M231.1,745.2V747.2M200.5,715.2H202.5M232.5,745.2V747.2M200.5,714.0H202.5M233.7,745.2V747.2M200.5,713.0H202.5M234.7,745.2V747.2M200.5,712.2H202.5M235.5,745.2V747.2M200.5,711.5H202.5M236.2,745.2V747.2M199.3,710.8H202.5M236.9,745.2V748.4M200.5,706.4H202.5M241.3,745.2V747.2M200.5,703.9H202.5M243.8,745.2V747.2M200.5,702.1H202.5M245.6,745.2V747.2M200.5,700.7H202.5M247.0,745.2V747.2M200.5,699.5H202.5M248.2,745.2V747.2M200.5,698.5H202.5M249.2,745.2V747.2M200.5,697.7H202.5M250.0,745.2V747.2M200.5,697.0H202.5M250.7,745.2V747.2M199.3,696.3H202.5M251.4,745.2V748.4M200.5,691.9H202.5M255.8,745.2V747.2M200.5,689.4H202.5M258.3,745.2V747.2M200.5,687.6H202.5M260.1,745.2V747.2M200.5,686.2H202.5M261.5,745.2V747.2M200.5,685.0H202.5M262.7,745.2V747.2M200.5,684.0H202.5M263.7,745.2V747.2M200.5,683.2H202.5M264.5,745.2V747.2M200.5,682.5H202.5M265.2,745.2V747.2M199.3,681.8H202.5M265.9,745.2V748.4M200.5,677.4H202.5M270.3,745.2V747.2" stroke="#111" stroke-width="0.9" fill="none"/>
<path d="M205.5,748.2L207.0,745.2L208.5,748.2L210.0,745.2M199.5,742.2L202.5,740.7L199.5,739.2" stroke="#222" stroke-width="1" fill="none"/>
<line x1="241.40" y1="675.80" x2="241.40" y2="745.20" stroke="#5a5a5a" stroke-width="0.85"/>
<line x1="202.50" y1="702.50" x2="272.50" y2="702.50" stroke="#5a5a5a" stroke-width="0.85"/>
<rect x="202.50" y="675.80" width="70.00" height="69.40" fill="none" stroke="#111" stroke-width="1.0"/>
<text x="204.80" y="683.60" font-size="7.5" text-anchor="start" fill="#111">0.0</text>
<text x="269.30" y="683.60" font-size="7.5" text-anchor="end" fill="#111">85.2</text>
<text x="204.80" y="743.20" font-size="7.5" text-anchor="start" fill="#111">3.7</text>
<text x="269.30" y="743.20" font-size="7.5" text-anchor="end" fill="#111">11.1</text>
<text x="34.10" y="712.30" font-size="10" text-anchor="middle" fill="#111" textLength="18.70" lengthAdjust="spacingAndGlyphs" transform="rotate(-90 34.10 712.30)">CD4</text>
<text x="76.40" y="761.80" font-size="10" text-anchor="middle" fill="#111" textLength="19.40" lengthAdjust="spacingAndGlyphs">CD8</text>
<line x1="91.80" y1="758.00" x2="263.00" y2="758.00" stroke="#111" stroke-width="1.0"/>
<path d="M261.20,755.70 L267.00,758.00 L261.20,760.30 L262.40,758.00 Z" fill="#111"/>
<line x1="331.90" y1="517.70" x2="331.90" y2="592.20" stroke="#111" stroke-width="1.1"/>
<line x1="331.40" y1="592.20" x2="396.50" y2="592.20" stroke="#111" stroke-width="1.1"/>
<line x1="328.40" y1="592.20" x2="331.90" y2="592.20" stroke="#111" stroke-width="1.0"/>
<text x="326.40" y="594.80" font-size="7.5" text-anchor="end" fill="#111">0</text>
<line x1="328.40" y1="568.53" x2="331.90" y2="568.53" stroke="#111" stroke-width="1.0"/>
<text x="326.40" y="571.13" font-size="7.5" text-anchor="end" fill="#111">1</text>
<line x1="328.40" y1="544.86" x2="331.90" y2="544.86" stroke="#111" stroke-width="1.0"/>
<text x="326.40" y="547.46" font-size="7.5" text-anchor="end" fill="#111">2</text>
<line x1="328.40" y1="521.19" x2="331.90" y2="521.19" stroke="#111" stroke-width="1.0"/>
<text x="326.40" y="523.79" font-size="7.5" text-anchor="end" fill="#111">3</text>
<rect x="358.00" y="558.80" width="12.50" height="33.40" fill="#8ea2c4"/>
<rect x="339.50" y="589.00" width="10.00" height="3.20" fill="#d06080"/>
<rect x="378.00" y="590.00" width="11.00" height="2.20" fill="#f0c070"/>
<line x1="344.60" y1="592.20" x2="344.60" y2="595.50" stroke="#111" stroke-width="1.0"/>
<line x1="364.20" y1="592.20" x2="364.20" y2="595.50" stroke="#111" stroke-width="1.0"/>
<line x1="383.60" y1="592.20" x2="383.60" y2="595.50" stroke="#111" stroke-width="1.0"/>
<circle cx="341.20" cy="577.70" r="2.2" fill="none" stroke="#c01040" stroke-width="1.2"/>
<circle cx="348.10" cy="581.20" r="2.2" fill="none" stroke="#c01040" stroke-width="1.2"/>
<circle cx="341.20" cy="588.10" r="2.2" fill="none" stroke="#c01040" stroke-width="1.2"/>
<circle cx="344.20" cy="590.50" r="2.2" fill="none" stroke="#c01040" stroke-width="1.2"/>
<circle cx="347.80" cy="589.60" r="2.2" fill="none" stroke="#c01040" stroke-width="1.2"/>
<circle cx="343.50" cy="592.00" r="2.2" fill="none" stroke="#c01040" stroke-width="1.2"/>
<circle cx="364.20" cy="521.20" r="2.2" fill="none" stroke="#34568f" stroke-width="1.2"/>
<circle cx="364.20" cy="534.30" r="2.2" fill="none" stroke="#34568f" stroke-width="1.2"/>
<circle cx="364.20" cy="551.20" r="2.2" fill="none" stroke="#34568f" stroke-width="1.2"/>
<circle cx="364.20" cy="572.60" r="2.2" fill="none" stroke="#34568f" stroke-width="1.2"/>
<circle cx="364.20" cy="581.90" r="2.2" fill="none" stroke="#34568f" stroke-width="1.2"/>
<circle cx="364.20" cy="591.50" r="2.2" fill="none" stroke="#34568f" stroke-width="1.2"/>
<circle cx="380.40" cy="583.50" r="2.2" fill="none" stroke="#e3a02c" stroke-width="1.2"/>
<circle cx="386.60" cy="584.60" r="2.2" fill="none" stroke="#e3a02c" stroke-width="1.2"/>
<circle cx="380.00" cy="589.70" r="2.2" fill="none" stroke="#e3a02c" stroke-width="1.2"/>
<circle cx="383.50" cy="591.20" r="2.2" fill="none" stroke="#e3a02c" stroke-width="1.2"/>
<circle cx="387.50" cy="591.20" r="2.2" fill="none" stroke="#e3a02c" stroke-width="1.2"/>
<path d="M344.60,516.10 L344.60,513.50 L364.20,513.50 L364.20,516.10" fill="none" stroke="#111" stroke-width="1"/>
<path d="M364.20,516.10 L364.20,513.50 L383.90,513.50 L383.90,516.10" fill="none" stroke="#111" stroke-width="1"/>
<line x1="364.20" y1="513.50" x2="364.20" y2="516.50" stroke="#111" stroke-width="1.8"/>
<circle cx="352.85" cy="510.90" r="1.1" fill="#222"/>
<circle cx="355.95" cy="510.90" r="1.1" fill="#222"/>
<circle cx="372.45" cy="510.90" r="1.1" fill="#222"/>
<circle cx="375.55" cy="510.90" r="1.1" fill="#222"/>
<text x="316.6" y="555.2" font-size="9.7" text-anchor="middle" fill="#111" transform="rotate(-90 316.3 555.2)" textLength="95.5" lengthAdjust="spacingAndGlyphs">DP cell number (x10<tspan font-size="6" dy="-3.4">3</tspan><tspan dy="3.4">)</tspan></text>
<text x="347.70" y="603.00" font-size="8.5" text-anchor="end" fill="#111" textLength="22.17" lengthAdjust="spacingAndGlyphs" transform="rotate(-45 347.70 603.00)">Vector</text>
<text x="366.40" y="603.00" font-size="8.5" text-anchor="end" fill="#111" textLength="22.59" lengthAdjust="spacingAndGlyphs" transform="rotate(-45 366.40 603.00)">ZMIZ1</text>
<text x="386.90" y="603.00" font-size="8.5" text-anchor="end" fill="#111" textLength="19.56" lengthAdjust="spacingAndGlyphs" transform="rotate(-45 386.90 603.00)">R14E</text>
<line x1="332.00" y1="645.00" x2="332.00" y2="719.50" stroke="#111" stroke-width="1.1"/>
<line x1="331.50" y1="719.50" x2="377.50" y2="719.50" stroke="#111" stroke-width="1.1"/>
<line x1="328.50" y1="719.50" x2="332.00" y2="719.50" stroke="#111" stroke-width="1.0"/>
<text x="326.00" y="722.10" font-size="7.5" text-anchor="end" fill="#111">0</text>
<line x1="328.50" y1="701.50" x2="332.00" y2="701.50" stroke="#111" stroke-width="1.0"/>
<text x="326.00" y="704.10" font-size="7.5" text-anchor="end" fill="#111">200</text>
<line x1="328.50" y1="683.50" x2="332.00" y2="683.50" stroke="#111" stroke-width="1.0"/>
<text x="326.00" y="686.10" font-size="7.5" text-anchor="end" fill="#111">400</text>
<line x1="328.50" y1="665.50" x2="332.00" y2="665.50" stroke="#111" stroke-width="1.0"/>
<text x="326.00" y="668.10" font-size="7.5" text-anchor="end" fill="#111">600</text>
<line x1="328.50" y1="647.50" x2="332.00" y2="647.50" stroke="#111" stroke-width="1.0"/>
<text x="326.00" y="650.10" font-size="7.5" text-anchor="end" fill="#111">800</text>
<line x1="345.50" y1="719.50" x2="345.50" y2="722.80" stroke="#111" stroke-width="1.0"/>
<line x1="360.00" y1="719.50" x2="360.00" y2="722.80" stroke="#111" stroke-width="1.0"/>
<line x1="373.80" y1="719.50" x2="373.80" y2="722.80" stroke="#111" stroke-width="1.0"/>
<rect x="335.50" y="711.40" width="7.50" height="8.10" fill="#a5002f"/>
<line x1="339.20" y1="711.40" x2="339.20" y2="710.50" stroke="#111" stroke-width="1"/>
<line x1="337.50" y1="710.50" x2="341.00" y2="710.50" stroke="#111" stroke-width="1"/>
<rect x="350.00" y="672.50" width="7.00" height="47.00" fill="#2b4c86"/>
<line x1="353.50" y1="672.50" x2="353.50" y2="663.80" stroke="#111" stroke-width="1"/>
<line x1="351.80" y1="663.80" x2="355.20" y2="663.80" stroke="#111" stroke-width="1"/>
<rect x="363.80" y="698.80" width="6.80" height="20.70" fill="#e8a33a"/>
<line x1="367.20" y1="698.80" x2="367.20" y2="697.50" stroke="#111" stroke-width="1"/>
<line x1="365.50" y1="697.50" x2="369.00" y2="697.50" stroke="#111" stroke-width="1"/>
<path d="M339.30,660.30 L339.30,657.50 L353.60,657.50 L353.60,660.30" fill="none" stroke="#111" stroke-width="1"/>
<path d="M353.60,660.30 L353.60,657.50 L368.00,657.50 L368.00,660.30" fill="none" stroke="#111" stroke-width="1"/>
<line x1="353.60" y1="657.50" x2="353.60" y2="660.50" stroke="#111" stroke-width="1.8"/>
<circle cx="341.75" cy="654.90" r="1.1" fill="#222"/>
<circle cx="344.85" cy="654.90" r="1.1" fill="#222"/>
<circle cx="347.95" cy="654.90" r="1.1" fill="#222"/>
<circle cx="351.05" cy="654.90" r="1.1" fill="#222"/>
<circle cx="356.15" cy="654.90" r="1.1" fill="#222"/>
<circle cx="359.25" cy="654.90" r="1.1" fill="#222"/>
<circle cx="362.35" cy="654.90" r="1.1" fill="#222"/>
<circle cx="365.45" cy="654.90" r="1.1" fill="#222"/>
<text x="304.60" y="682.20" font-size="9.7" text-anchor="middle" fill="#111" textLength="65.50" lengthAdjust="spacingAndGlyphs" transform="rotate(-90 304.60 682.20)">Fold expansion</text>
<text x="340.80" y="730.00" font-size="8.5" text-anchor="end" fill="#111" textLength="22.17" lengthAdjust="spacingAndGlyphs" transform="rotate(-45 340.80 730.00)">Vector</text>
<text x="356.20" y="730.00" font-size="8.5" text-anchor="end" fill="#111" textLength="22.59" lengthAdjust="spacingAndGlyphs" transform="rotate(-45 356.20 730.00)">ZMIZ1</text>
<text x="372.30" y="730.00" font-size="8.5" text-anchor="end" fill="#111" textLength="19.56" lengthAdjust="spacingAndGlyphs" transform="rotate(-45 372.30 730.00)">R14E</text>
<line x1="443.80" y1="644.20" x2="443.80" y2="720.00" stroke="#111" stroke-width="1.1"/>
<line x1="443.30" y1="720.00" x2="491.90" y2="720.00" stroke="#111" stroke-width="1.1"/>
<line x1="440.30" y1="720.00" x2="443.80" y2="720.00" stroke="#111" stroke-width="1.0"/>
<text x="437.70" y="722.60" font-size="7.5" text-anchor="end" fill="#111">0</text>
<line x1="440.30" y1="701.92" x2="443.80" y2="701.92" stroke="#111" stroke-width="1.0"/>
<text x="437.70" y="704.52" font-size="7.5" text-anchor="end" fill="#111">50</text>
<line x1="440.30" y1="683.85" x2="443.80" y2="683.85" stroke="#111" stroke-width="1.0"/>
<text x="437.70" y="686.45" font-size="7.5" text-anchor="end" fill="#111">100</text>
<line x1="440.30" y1="665.77" x2="443.80" y2="665.77" stroke="#111" stroke-width="1.0"/>
<text x="437.70" y="668.38" font-size="7.5" text-anchor="end" fill="#111">150</text>
<line x1="440.30" y1="647.70" x2="443.80" y2="647.70" stroke="#111" stroke-width="1.0"/>
<text x="437.70" y="650.30" font-size="7.5" text-anchor="end" fill="#111">200</text>
<line x1="458.80" y1="720.00" x2="458.80" y2="723.30" stroke="#111" stroke-width="1.0"/>
<line x1="473.90" y1="720.00" x2="473.90" y2="723.30" stroke="#111" stroke-width="1.0"/>
<line x1="488.80" y1="720.00" x2="488.80" y2="723.30" stroke="#111" stroke-width="1.0"/>
<rect x="449.30" y="670.00" width="6.50" height="50.00" fill="#a5002f"/>
<line x1="452.50" y1="670.00" x2="452.50" y2="663.00" stroke="#111" stroke-width="1"/>
<line x1="450.70" y1="663.00" x2="454.30" y2="663.00" stroke="#111" stroke-width="1"/>
<rect x="463.60" y="701.50" width="5.60" height="18.50" fill="#2b4c86"/>
<line x1="462.80" y1="700.80" x2="470.00" y2="700.80" stroke="#111" stroke-width="1"/>
<rect x="478.30" y="682.00" width="6.10" height="38.00" fill="#6aaa3a"/>
<line x1="481.30" y1="682.00" x2="481.30" y2="678.60" stroke="#111" stroke-width="1"/>
<line x1="479.60" y1="678.60" x2="483.10" y2="678.60" stroke="#111" stroke-width="1"/>
<path d="M452.60,660.00 L452.60,657.00 L466.50,657.00 L466.50,660.00" fill="none" stroke="#111" stroke-width="1"/>
<circle cx="454.85" cy="654.40" r="1.1" fill="#222"/>
<circle cx="457.95" cy="654.40" r="1.1" fill="#222"/>
<circle cx="461.05" cy="654.40" r="1.1" fill="#222"/>
<circle cx="464.15" cy="654.40" r="1.1" fill="#222"/>
<path d="M467.70,676.00 L467.70,672.80 L481.80,672.80 L481.80,676.00" fill="none" stroke="#111" stroke-width="1"/>
<circle cx="473.15" cy="670.20" r="1.1" fill="#222"/>
<circle cx="476.25" cy="670.20" r="1.1" fill="#222"/>
<text x="416.60" y="682.00" font-size="9.7" text-anchor="middle" fill="#111" textLength="66.30" lengthAdjust="spacingAndGlyphs" transform="rotate(-90 416.60 682.00)">Fold expansion</text>
<text x="456.40" y="732.00" font-size="8.5" text-anchor="end" fill="#111" textLength="24.16" lengthAdjust="spacingAndGlyphs" transform="rotate(-45 456.40 732.00)">DsRed</text>
<text x="471.40" y="732.00" font-size="8.5" text-anchor="end" fill="#111" textLength="41.69" lengthAdjust="spacingAndGlyphs" transform="rotate(-45 471.40 732.00)">TPR-DsRed</text>
<text x="486.10" y="732.00" font-size="8.5" text-anchor="end" fill="#111" transform="rotate(-45 486.10 732.00)" textLength="52" lengthAdjust="spacingAndGlyphs">TPR<tspan font-size="5.2" dy="-3">R14E</tspan><tspan dy="3">-DsRed</tspan></text>
</svg>
</body></html>
